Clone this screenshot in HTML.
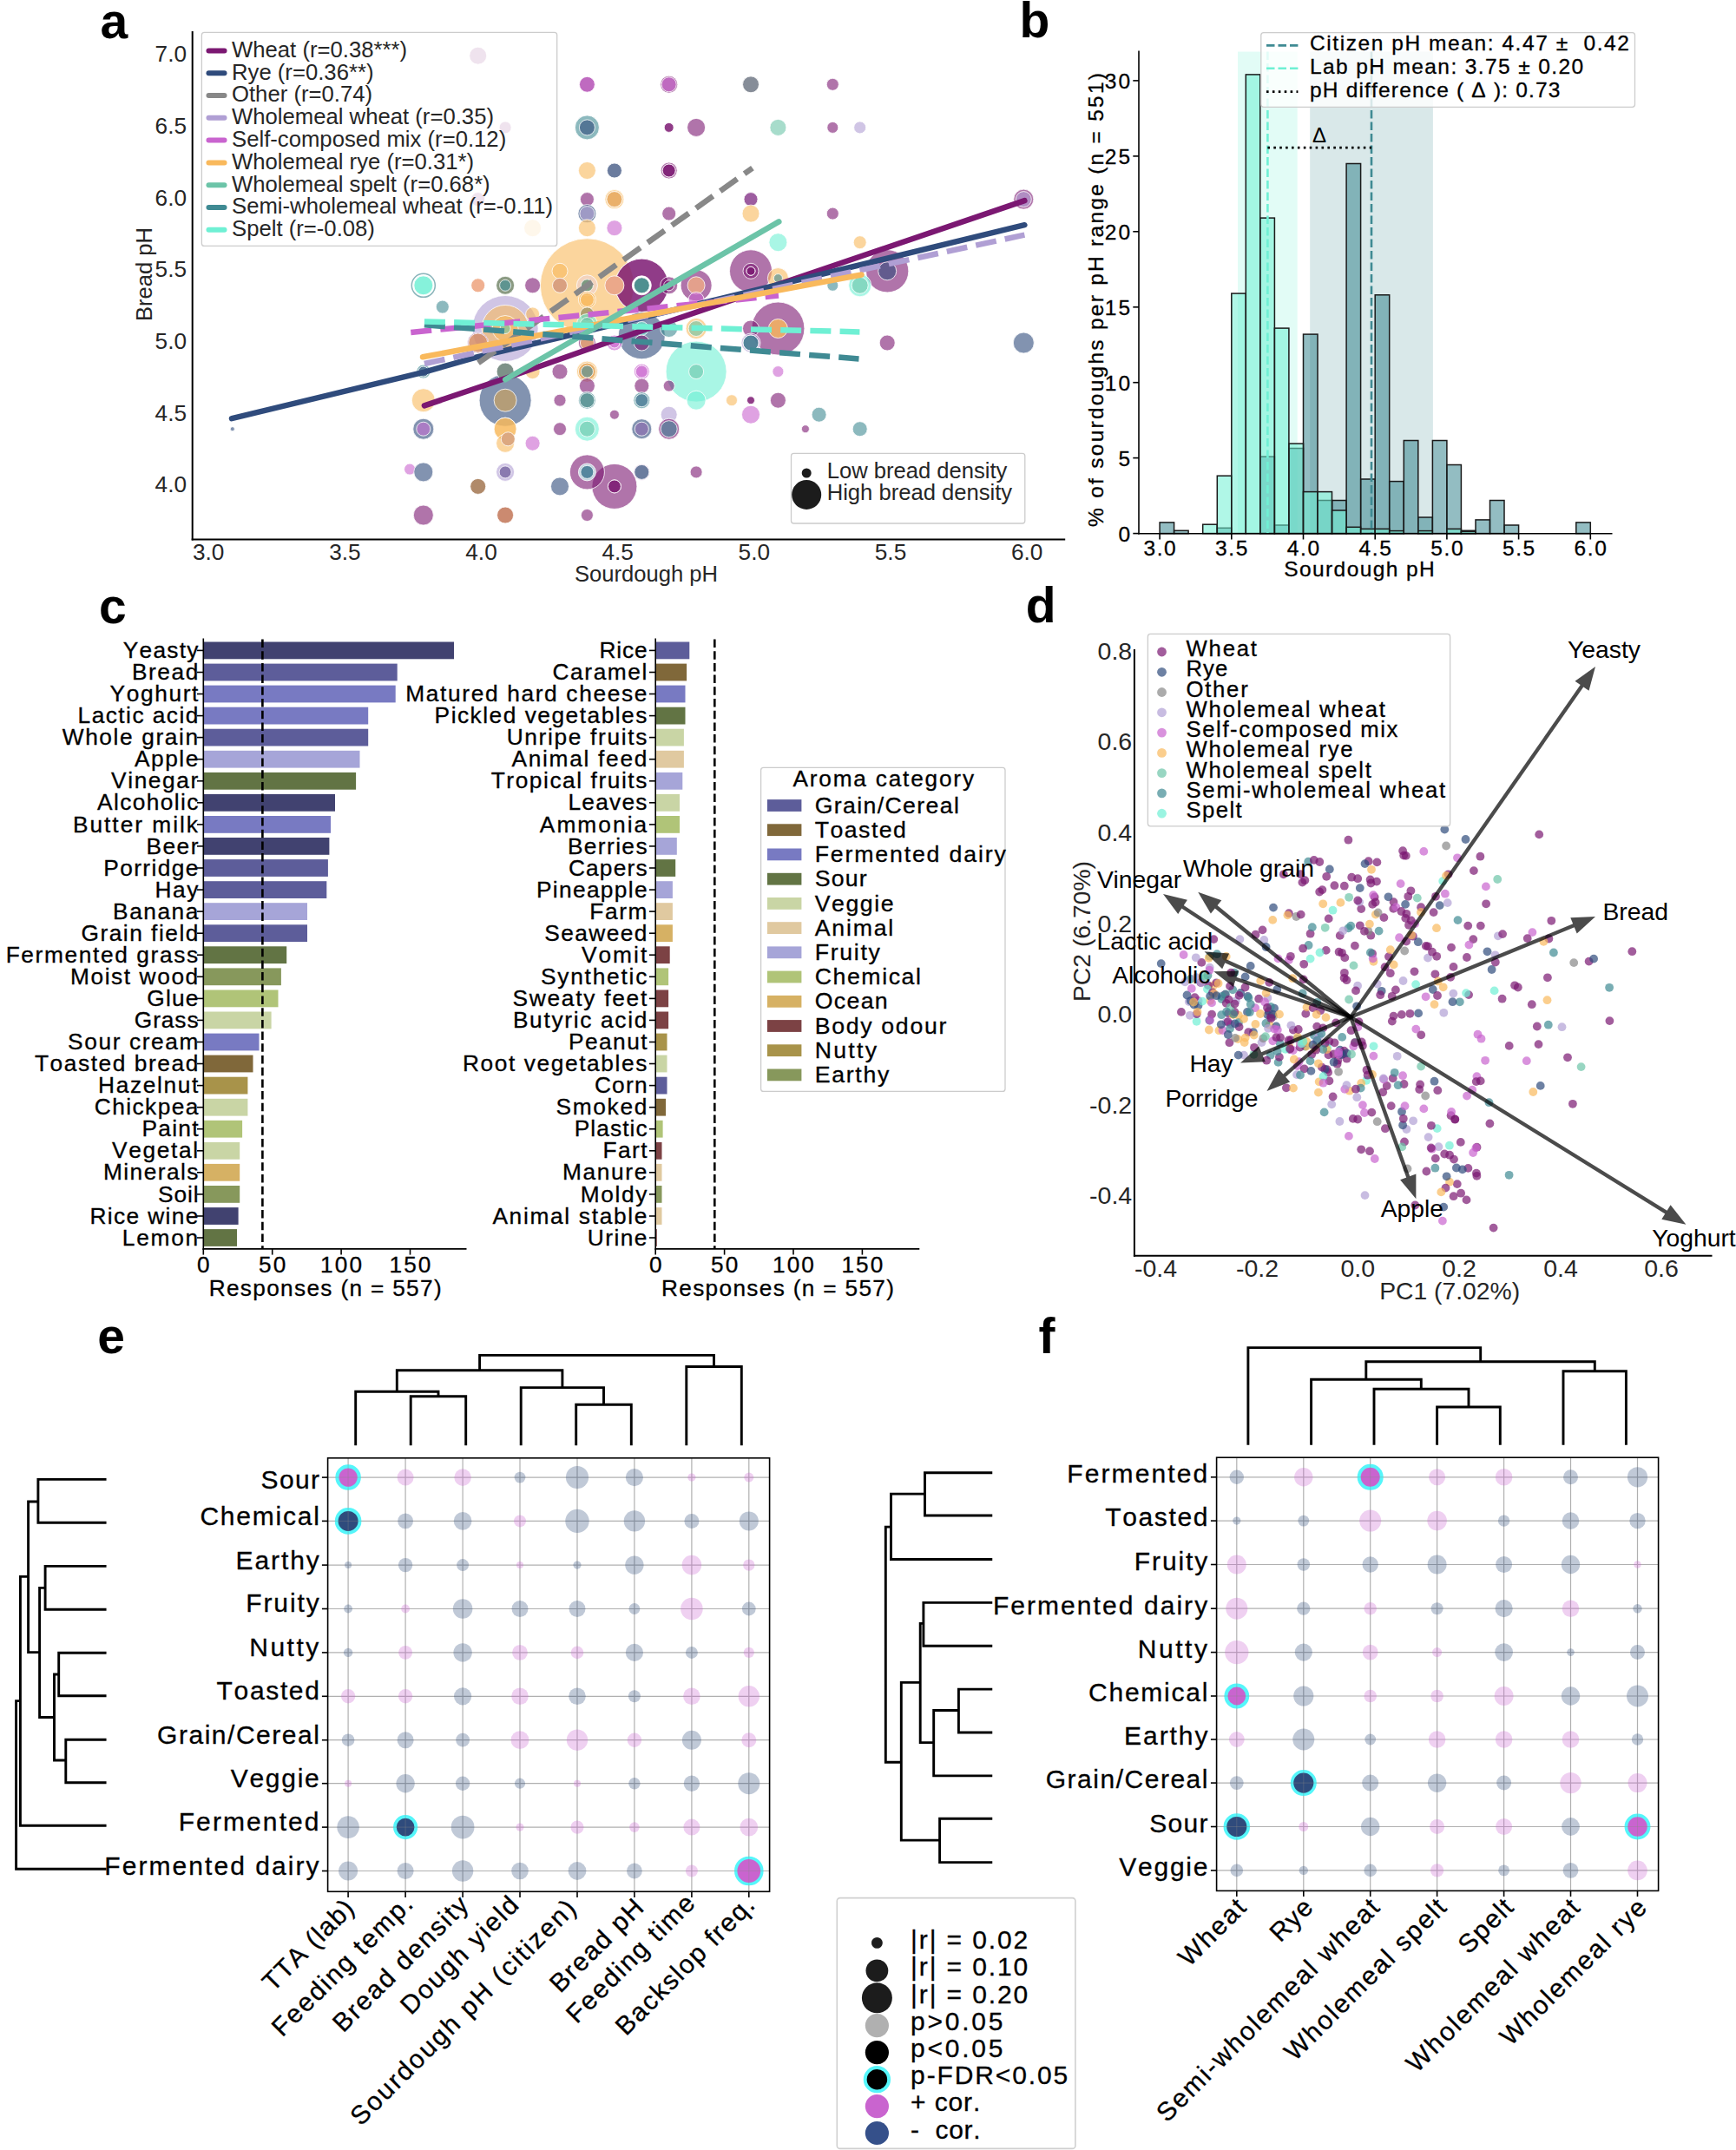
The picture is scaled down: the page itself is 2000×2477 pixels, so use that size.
<!DOCTYPE html>
<html><head><meta charset="utf-8"><title>Figure</title>
<style>html,body{margin:0;padding:0;background:#fff}svg{display:block}text{font-family:"Liberation Sans",sans-serif}.dj{stroke:#000;stroke-width:0.3px;font-kerning:none}</style>
</head><body>
<svg width="2000" height="2477" viewBox="0 0 2000 2477">
<rect width="2000" height="2477" fill="#fff"/>
<g id="pa">
<circle cx="550.7" cy="64.2" r="10" fill="#7b1872" fill-opacity="0.6" stroke="#fff" stroke-width="1" stroke-opacity="0.8"/>
<circle cx="582.1" cy="146.9" r="7" fill="#7b1872" fill-opacity="0.6" stroke="#fff" stroke-width="1" stroke-opacity="0.8"/>
<circle cx="550.7" cy="229.6" r="8" fill="#7b1872" fill-opacity="0.6" stroke="#fff" stroke-width="1" stroke-opacity="0.8"/>
<circle cx="613.6" cy="262.7" r="10" fill="#f9b95c" fill-opacity="0.6" stroke="#fff" stroke-width="1" stroke-opacity="0.8"/>
<circle cx="676.4" cy="97.3" r="9" fill="#7b1872" fill-opacity="0.6" stroke="#fff" stroke-width="1" stroke-opacity="0.8"/>
<circle cx="676.4" cy="97.3" r="9" fill="#c964cf" fill-opacity="0.6" stroke="#fff" stroke-width="1" stroke-opacity="0.8"/>
<circle cx="770.7" cy="97.3" r="10" fill="#7b1872" fill-opacity="0.6" stroke="#fff" stroke-width="1" stroke-opacity="0.8"/>
<circle cx="770.7" cy="97.3" r="8.5" fill="#c964cf" fill-opacity="0.6" stroke="#fff" stroke-width="1" stroke-opacity="0.8"/>
<circle cx="865.0" cy="97.3" r="9.5" fill="#2f4b7c" fill-opacity="0.6" stroke="#fff" stroke-width="1" stroke-opacity="0.8"/>
<circle cx="865.0" cy="97.3" r="9.5" fill="#888888" fill-opacity="0.6" stroke="#fff" stroke-width="1" stroke-opacity="0.8"/>
<circle cx="959.3" cy="97.3" r="7" fill="#7b1872" fill-opacity="0.6" stroke="#fff" stroke-width="1" stroke-opacity="0.8"/>
<circle cx="676.4" cy="146.9" r="14" fill="#3f8a93" fill-opacity="0.6" stroke="#fff" stroke-width="1" stroke-opacity="0.8"/>
<circle cx="676.4" cy="146.9" r="9" fill="#2f4b7c" fill-opacity="0.6" stroke="#fff" stroke-width="1" stroke-opacity="0.8"/>
<circle cx="770.7" cy="146.9" r="5.5" fill="#7b1872" fill-opacity="0.6" stroke="#fff" stroke-width="1" stroke-opacity="0.8"/>
<circle cx="770.7" cy="146.9" r="5.5" fill="#7b1872" fill-opacity="0.6" stroke="#fff" stroke-width="1" stroke-opacity="0.8"/>
<circle cx="802.1" cy="146.9" r="10.5" fill="#7b1872" fill-opacity="0.6" stroke="#fff" stroke-width="1" stroke-opacity="0.8"/>
<circle cx="896.4" cy="146.9" r="9.5" fill="#6cc4a8" fill-opacity="0.6" stroke="#fff" stroke-width="1" stroke-opacity="0.8"/>
<circle cx="959.3" cy="146.9" r="6.5" fill="#7b1872" fill-opacity="0.6" stroke="#fff" stroke-width="1" stroke-opacity="0.8"/>
<circle cx="990.7" cy="146.9" r="7" fill="#b09fd4" fill-opacity="0.6" stroke="#fff" stroke-width="1" stroke-opacity="0.8"/>
<circle cx="676.4" cy="196.5" r="10" fill="#f9b95c" fill-opacity="0.6" stroke="#fff" stroke-width="1" stroke-opacity="0.8"/>
<circle cx="707.9" cy="196.5" r="8.5" fill="#6b7c9e" stroke="#fff" stroke-width="1" stroke-opacity="0.8"/>
<circle cx="770.7" cy="196.5" r="9.5" fill="#7b1872" fill-opacity="0.6" stroke="#fff" stroke-width="1" stroke-opacity="0.8"/>
<circle cx="770.7" cy="196.5" r="7.5" fill="#7b1872" fill-opacity="0.6" stroke="#fff" stroke-width="1" stroke-opacity="0.8"/>
<circle cx="770.7" cy="196.5" r="7.5" fill="#7b1872" fill-opacity="0.6" stroke="#fff" stroke-width="1" stroke-opacity="0.8"/>
<circle cx="676.4" cy="229.6" r="8" fill="#7b1872" fill-opacity="0.6" stroke="#fff" stroke-width="1" stroke-opacity="0.8"/>
<circle cx="707.9" cy="229.6" r="11" fill="#f9b95c" fill-opacity="0.6" stroke="#fff" stroke-width="1" stroke-opacity="0.8"/>
<circle cx="707.9" cy="229.6" r="9" fill="#f9b95c" fill-opacity="0.6" stroke="#fff" stroke-width="1" stroke-opacity="0.8"/>
<circle cx="707.9" cy="229.6" r="9" fill="#eab06a" stroke="#fff" stroke-width="1" stroke-opacity="0.8"/>
<circle cx="865.0" cy="229.6" r="8" fill="#b09fd4" fill-opacity="0.6" stroke="#fff" stroke-width="1" stroke-opacity="0.8"/>
<circle cx="865.0" cy="229.6" r="8" fill="#7b1872" fill-opacity="0.6" stroke="#fff" stroke-width="1" stroke-opacity="0.8"/>
<circle cx="1179.3" cy="229.6" r="11.5" fill="#7b1872" fill-opacity="0.6" stroke="#fff" stroke-width="1" stroke-opacity="0.8"/>
<circle cx="1179.3" cy="229.6" r="9" fill="#b09fd4" fill-opacity="0.6" stroke="#fff" stroke-width="1" stroke-opacity="0.8"/>
<circle cx="676.4" cy="246.1" r="10.5" fill="#2f4b7c" fill-opacity="0.6" stroke="#fff" stroke-width="1" stroke-opacity="0.8"/>
<circle cx="676.4" cy="246.1" r="8.5" fill="#b09fd4" fill-opacity="0.6" stroke="#fff" stroke-width="1" stroke-opacity="0.8"/>
<circle cx="770.7" cy="246.1" r="8" fill="#7b1872" fill-opacity="0.6" stroke="#fff" stroke-width="1" stroke-opacity="0.8"/>
<circle cx="865.0" cy="246.1" r="10" fill="#f9b95c" fill-opacity="0.6" stroke="#fff" stroke-width="1" stroke-opacity="0.8"/>
<circle cx="959.3" cy="246.1" r="7" fill="#7b1872" fill-opacity="0.6" stroke="#fff" stroke-width="1" stroke-opacity="0.8"/>
<circle cx="676.4" cy="262.7" r="10" fill="#f9b95c" fill-opacity="0.6" stroke="#fff" stroke-width="1" stroke-opacity="0.8"/>
<circle cx="707.9" cy="262.7" r="9" fill="#c964cf" fill-opacity="0.6" stroke="#fff" stroke-width="1" stroke-opacity="0.8"/>
<circle cx="896.4" cy="279.2" r="10.5" fill="#6ff0d4" fill-opacity="0.6" stroke="#fff" stroke-width="1" stroke-opacity="0.8"/>
<circle cx="990.7" cy="279.2" r="7.5" fill="#f9b95c" fill-opacity="0.6" stroke="#fff" stroke-width="1" stroke-opacity="0.8"/>
<circle cx="676.4" cy="328.8" r="54" fill="#f9b95c" fill-opacity="0.6" stroke="#fff" stroke-width="1" stroke-opacity="0.8"/>
<circle cx="582.1" cy="378.5" r="38" fill="#b09fd4" fill-opacity="0.6" stroke="#fff" stroke-width="1" stroke-opacity="0.8"/>
<circle cx="739.3" cy="328.8" r="30.7" fill="#7b1872" fill-opacity="0.6" stroke="#fff" stroke-width="1" stroke-opacity="0.8"/>
<circle cx="739.3" cy="328.8" r="30.7" fill="#7b1872" fill-opacity="0.6" stroke="#fff" stroke-width="1" stroke-opacity="0.8"/>
<circle cx="739.3" cy="386.7" r="27" fill="#2f4b7c" fill-opacity="0.6" stroke="#fff" stroke-width="1" stroke-opacity="0.8"/>
<circle cx="896.4" cy="378.5" r="30.5" fill="#7b1872" fill-opacity="0.6" stroke="#fff" stroke-width="1" stroke-opacity="0.8"/>
<circle cx="865.0" cy="312.3" r="24.5" fill="#7b1872" fill-opacity="0.6" stroke="#fff" stroke-width="1" stroke-opacity="0.8"/>
<circle cx="1022.2" cy="312.3" r="24.6" fill="#7b1872" fill-opacity="0.6" stroke="#fff" stroke-width="1" stroke-opacity="0.8"/>
<circle cx="802.1" cy="428.1" r="35" fill="#6ff0d4" fill-opacity="0.6" stroke="#fff" stroke-width="1" stroke-opacity="0.8"/>
<circle cx="582.1" cy="461.2" r="30" fill="#2f4b7c" fill-opacity="0.6" stroke="#fff" stroke-width="1" stroke-opacity="0.8"/>
<circle cx="707.9" cy="560.4" r="26" fill="#7b1872" fill-opacity="0.6" stroke="#fff" stroke-width="1" stroke-opacity="0.8"/>
<circle cx="676.4" cy="543.9" r="20" fill="#7b1872" fill-opacity="0.6" stroke="#fff" stroke-width="1" stroke-opacity="0.8"/>
<circle cx="582.1" cy="378.5" r="27" fill="#f9b95c" fill-opacity="0.6" stroke="#fff" stroke-width="1" stroke-opacity="0.8"/>
<circle cx="582.1" cy="378.5" r="15" fill="#f9b95c" fill-opacity="0.6" stroke="#fff" stroke-width="1" stroke-opacity="0.8"/>
<circle cx="582.1" cy="378.5" r="6" fill="#6cc4a8" fill-opacity="0.6" stroke="#fff" stroke-width="1" stroke-opacity="0.8"/>
<circle cx="645.0" cy="312.3" r="9" fill="#f9b95c" fill-opacity="0.6" stroke="#fff" stroke-width="1" stroke-opacity="0.8"/>
<circle cx="865.0" cy="312.3" r="9" fill="#7b1872" fill-opacity="0.6" stroke="#fff" stroke-width="1" stroke-opacity="0.8"/>
<circle cx="865.0" cy="312.3" r="5" fill="#7b1872" fill-opacity="0.6" stroke="#fff" stroke-width="1" stroke-opacity="0.8"/>
<circle cx="865.0" cy="312.3" r="5" fill="#7b1872" fill-opacity="0.6" stroke="#fff" stroke-width="1" stroke-opacity="0.8"/>
<circle cx="1022.2" cy="312.3" r="10.5" fill="#2f4b7c" fill-opacity="0.6" stroke="#fff" stroke-width="1" stroke-opacity="0.8"/>
<circle cx="487.8" cy="328.8" r="11" fill="#6ff0d4" fill-opacity="0.6" stroke="#fff" stroke-width="1" stroke-opacity="0.8"/>
<circle cx="487.8" cy="328.8" r="11" fill="#6ff0d4" fill-opacity="0.6" stroke="#fff" stroke-width="1" stroke-opacity="0.8"/>
<circle cx="550.7" cy="328.8" r="8" fill="#f0b090" stroke="#fff" stroke-width="1" stroke-opacity="0.8"/>
<circle cx="582.1" cy="328.8" r="10.5" fill="#8a9a82" stroke="#fff" stroke-width="1" stroke-opacity="0.8"/>
<circle cx="582.1" cy="328.8" r="6.5" fill="#5e9490" stroke="#fff" stroke-width="1" stroke-opacity="0.8"/>
<circle cx="613.6" cy="328.8" r="9" fill="#7b1872" fill-opacity="0.6" stroke="#fff" stroke-width="1" stroke-opacity="0.8"/>
<circle cx="645.0" cy="328.8" r="8.5" fill="#d9a080" stroke="#fff" stroke-width="1" stroke-opacity="0.8"/>
<circle cx="676.4" cy="328.8" r="12" fill="#f3d3bd" stroke="#fff" stroke-width="1" stroke-opacity="0.8"/>
<circle cx="676.4" cy="328.8" r="7" fill="#7d9a80" stroke="#fff" stroke-width="1" stroke-opacity="0.8"/>
<circle cx="707.9" cy="328.8" r="11" fill="#eba88a" stroke="#fff" stroke-width="1" stroke-opacity="0.8"/>
<circle cx="739.3" cy="328.8" r="11" fill="#ffffff" stroke="#fff" stroke-width="1" stroke-opacity="0.8"/>
<circle cx="739.3" cy="328.8" r="9" fill="#4f9090" stroke="#fff" stroke-width="1" stroke-opacity="0.8"/>
<circle cx="770.7" cy="328.8" r="10" fill="#7b1872" fill-opacity="0.6" stroke="#fff" stroke-width="1" stroke-opacity="0.8"/>
<circle cx="770.7" cy="328.8" r="6" fill="#7b1872" fill-opacity="0.6" stroke="#fff" stroke-width="1" stroke-opacity="0.8"/>
<circle cx="802.1" cy="328.8" r="18" fill="#7b1872" fill-opacity="0.6" stroke="#fff" stroke-width="1" stroke-opacity="0.8"/>
<circle cx="802.1" cy="328.8" r="10" fill="#e3a08c" stroke="#fff" stroke-width="1" stroke-opacity="0.8"/>
<circle cx="896.4" cy="320.6" r="12" fill="#f9b95c" fill-opacity="0.6" stroke="#fff" stroke-width="1" stroke-opacity="0.8"/>
<circle cx="896.4" cy="320.6" r="5" fill="#3f8a93" fill-opacity="0.6" stroke="#fff" stroke-width="1" stroke-opacity="0.8"/>
<circle cx="959.3" cy="328.8" r="6.5" fill="#3f8a93" fill-opacity="0.6" stroke="#fff" stroke-width="1" stroke-opacity="0.8"/>
<circle cx="990.7" cy="328.8" r="13" fill="#6ff0d4" fill-opacity="0.6" stroke="#fff" stroke-width="1" stroke-opacity="0.8"/>
<circle cx="990.7" cy="328.8" r="9.5" fill="#6cc4a8" fill-opacity="0.6" stroke="#fff" stroke-width="1" stroke-opacity="0.8"/>
<circle cx="676.4" cy="345.4" r="10" fill="#f9b95c" fill-opacity="0.6" stroke="#fff" stroke-width="1" stroke-opacity="0.8"/>
<circle cx="676.4" cy="345.4" r="8" fill="#f9b95c" fill-opacity="0.6" stroke="#fff" stroke-width="1" stroke-opacity="0.8"/>
<circle cx="802.1" cy="345.4" r="9" fill="#c964cf" fill-opacity="0.6" stroke="#fff" stroke-width="1" stroke-opacity="0.8"/>
<circle cx="509.8" cy="353.6" r="7.5" fill="#3f8a93" fill-opacity="0.6" stroke="#fff" stroke-width="1" stroke-opacity="0.8"/>
<circle cx="613.6" cy="361.9" r="8" fill="#f9b95c" fill-opacity="0.6" stroke="#fff" stroke-width="1" stroke-opacity="0.8"/>
<circle cx="676.4" cy="361.9" r="8" fill="#b0a070" stroke="#fff" stroke-width="1" stroke-opacity="0.8"/>
<circle cx="676.4" cy="373.5" r="12" fill="#6ff0d4" fill-opacity="0.6" stroke="#fff" stroke-width="1" stroke-opacity="0.8"/>
<circle cx="676.4" cy="373.5" r="8" fill="#6cc4a8" fill-opacity="0.6" stroke="#fff" stroke-width="1" stroke-opacity="0.8"/>
<circle cx="739.3" cy="378.5" r="8" fill="#6ff0d4" fill-opacity="0.6" stroke="#fff" stroke-width="1" stroke-opacity="0.8"/>
<circle cx="770.7" cy="378.5" r="10" fill="#3f8a93" fill-opacity="0.6" stroke="#fff" stroke-width="1" stroke-opacity="0.8"/>
<circle cx="802.1" cy="378.5" r="12" fill="#f9b95c" fill-opacity="0.6" stroke="#fff" stroke-width="1" stroke-opacity="0.8"/>
<circle cx="802.1" cy="378.5" r="9" fill="#6cc4a8" fill-opacity="0.6" stroke="#fff" stroke-width="1" stroke-opacity="0.8"/>
<circle cx="865.0" cy="378.5" r="9.5" fill="#7b1872" fill-opacity="0.6" stroke="#fff" stroke-width="1" stroke-opacity="0.8"/>
<circle cx="896.4" cy="378.5" r="11" fill="#eaaa6a" stroke="#fff" stroke-width="1" stroke-opacity="0.8"/>
<circle cx="550.7" cy="395.0" r="12" fill="#7b1872" fill-opacity="0.6" stroke="#fff" stroke-width="1" stroke-opacity="0.8"/>
<circle cx="550.7" cy="395.0" r="11" fill="#f9b95c" fill-opacity="0.6" stroke="#fff" stroke-width="1" stroke-opacity="0.8"/>
<circle cx="676.4" cy="395.0" r="10" fill="#7b1872" fill-opacity="0.6" stroke="#fff" stroke-width="1" stroke-opacity="0.8"/>
<circle cx="676.4" cy="395.0" r="8" fill="#f9b95c" fill-opacity="0.6" stroke="#fff" stroke-width="1" stroke-opacity="0.8"/>
<circle cx="707.9" cy="395.0" r="9" fill="#c964cf" fill-opacity="0.6" stroke="#fff" stroke-width="1" stroke-opacity="0.8"/>
<circle cx="707.9" cy="395.0" r="6" fill="#c964cf" fill-opacity="0.6" stroke="#fff" stroke-width="1" stroke-opacity="0.8"/>
<circle cx="739.3" cy="395.0" r="9" fill="#7b1872" fill-opacity="0.6" stroke="#fff" stroke-width="1" stroke-opacity="0.8"/>
<circle cx="865.0" cy="395.0" r="11" fill="#b09fd4" fill-opacity="0.6" stroke="#fff" stroke-width="1" stroke-opacity="0.8"/>
<circle cx="865.0" cy="395.0" r="9" fill="#2f4b7c" fill-opacity="0.6" stroke="#fff" stroke-width="1" stroke-opacity="0.8"/>
<circle cx="865.0" cy="395.0" r="9" fill="#3f8a93" fill-opacity="0.6" stroke="#fff" stroke-width="1" stroke-opacity="0.8"/>
<circle cx="1022.2" cy="395.0" r="9" fill="#7b1872" fill-opacity="0.6" stroke="#fff" stroke-width="1" stroke-opacity="0.8"/>
<circle cx="1179.3" cy="395.0" r="12" fill="#2f4b7c" fill-opacity="0.6" stroke="#fff" stroke-width="1" stroke-opacity="0.8"/>
<circle cx="487.8" cy="428.1" r="8" fill="#3f8a93" fill-opacity="0.6" stroke="#fff" stroke-width="1" stroke-opacity="0.8"/>
<circle cx="487.8" cy="428.1" r="6" fill="#2f4b7c" fill-opacity="0.6" stroke="#fff" stroke-width="1" stroke-opacity="0.8"/>
<circle cx="582.1" cy="428.1" r="10" fill="#7d9188" stroke="#fff" stroke-width="1" stroke-opacity="0.8"/>
<circle cx="613.6" cy="428.1" r="8.5" fill="#f9b95c" fill-opacity="0.6" stroke="#fff" stroke-width="1" stroke-opacity="0.8"/>
<circle cx="645.0" cy="428.1" r="9" fill="#7b1872" fill-opacity="0.6" stroke="#fff" stroke-width="1" stroke-opacity="0.8"/>
<circle cx="676.4" cy="428.1" r="12" fill="#f9b95c" fill-opacity="0.6" stroke="#fff" stroke-width="1" stroke-opacity="0.8"/>
<circle cx="676.4" cy="428.1" r="10" fill="#eab06a" stroke="#fff" stroke-width="1" stroke-opacity="0.8"/>
<circle cx="676.4" cy="428.1" r="7" fill="#849a88" stroke="#fff" stroke-width="1" stroke-opacity="0.8"/>
<circle cx="739.3" cy="428.1" r="9" fill="#c964cf" fill-opacity="0.6" stroke="#fff" stroke-width="1" stroke-opacity="0.8"/>
<circle cx="739.3" cy="428.1" r="7" fill="#c964cf" fill-opacity="0.6" stroke="#fff" stroke-width="1" stroke-opacity="0.8"/>
<circle cx="802.1" cy="428.1" r="8.5" fill="#6cc4a8" fill-opacity="0.6" stroke="#fff" stroke-width="1" stroke-opacity="0.8"/>
<circle cx="896.4" cy="428.1" r="6.5" fill="#c964cf" fill-opacity="0.6" stroke="#fff" stroke-width="1" stroke-opacity="0.8"/>
<circle cx="676.4" cy="444.6" r="9" fill="#7b1872" fill-opacity="0.6" stroke="#fff" stroke-width="1" stroke-opacity="0.8"/>
<circle cx="739.3" cy="444.6" r="8.5" fill="#7b1872" fill-opacity="0.6" stroke="#fff" stroke-width="1" stroke-opacity="0.8"/>
<circle cx="770.7" cy="444.6" r="6.5" fill="#7b1872" fill-opacity="0.6" stroke="#fff" stroke-width="1" stroke-opacity="0.8"/>
<circle cx="487.8" cy="461.2" r="13.5" fill="#f9b95c" fill-opacity="0.6" stroke="#fff" stroke-width="1" stroke-opacity="0.8"/>
<circle cx="582.1" cy="461.2" r="13" fill="#b49d78" stroke="#fff" stroke-width="1" stroke-opacity="0.8"/>
<circle cx="645.0" cy="461.2" r="7" fill="#7b1872" fill-opacity="0.6" stroke="#fff" stroke-width="1" stroke-opacity="0.8"/>
<circle cx="676.4" cy="461.2" r="10" fill="#3f8a93" fill-opacity="0.6" stroke="#fff" stroke-width="1" stroke-opacity="0.8"/>
<circle cx="676.4" cy="461.2" r="8.5" fill="#63999a" stroke="#fff" stroke-width="1" stroke-opacity="0.8"/>
<circle cx="739.3" cy="461.2" r="9.5" fill="#3f8a93" fill-opacity="0.6" stroke="#fff" stroke-width="1" stroke-opacity="0.8"/>
<circle cx="739.3" cy="461.2" r="7.5" fill="#5b8aa0" stroke="#fff" stroke-width="1" stroke-opacity="0.8"/>
<circle cx="802.1" cy="461.2" r="11" fill="#6ff0d4" fill-opacity="0.6" stroke="#fff" stroke-width="1" stroke-opacity="0.8"/>
<circle cx="843.0" cy="461.2" r="6.5" fill="#f9b95c" fill-opacity="0.6" stroke="#fff" stroke-width="1" stroke-opacity="0.8"/>
<circle cx="865.0" cy="461.2" r="4.5" fill="#7b1872" fill-opacity="0.6" stroke="#fff" stroke-width="1" stroke-opacity="0.8"/>
<circle cx="865.0" cy="461.2" r="4.5" fill="#7b1872" fill-opacity="0.6" stroke="#fff" stroke-width="1" stroke-opacity="0.8"/>
<circle cx="896.4" cy="461.2" r="9" fill="#7b1872" fill-opacity="0.6" stroke="#fff" stroke-width="1" stroke-opacity="0.8"/>
<circle cx="707.9" cy="477.7" r="5.5" fill="#7b1872" fill-opacity="0.6" stroke="#fff" stroke-width="1" stroke-opacity="0.8"/>
<circle cx="770.7" cy="477.7" r="9.5" fill="#b09fd4" fill-opacity="0.6" stroke="#fff" stroke-width="1" stroke-opacity="0.8"/>
<circle cx="865.0" cy="477.7" r="10.5" fill="#c964cf" fill-opacity="0.6" stroke="#fff" stroke-width="1" stroke-opacity="0.8"/>
<circle cx="943.6" cy="477.7" r="8.5" fill="#3f8a93" fill-opacity="0.6" stroke="#fff" stroke-width="1" stroke-opacity="0.8"/>
<circle cx="487.8" cy="494.2" r="12" fill="#2f4b7c" fill-opacity="0.6" stroke="#fff" stroke-width="1" stroke-opacity="0.8"/>
<circle cx="487.8" cy="494.2" r="8" fill="#aa7cc4" stroke="#fff" stroke-width="1" stroke-opacity="0.8"/>
<circle cx="582.1" cy="494.2" r="13" fill="#f9b95c" fill-opacity="0.6" stroke="#fff" stroke-width="1" stroke-opacity="0.8"/>
<circle cx="582.1" cy="494.2" r="13" fill="#f9b95c" fill-opacity="0.6" stroke="#fff" stroke-width="1" stroke-opacity="0.8"/>
<circle cx="645.0" cy="494.2" r="7.5" fill="#7b1872" fill-opacity="0.6" stroke="#fff" stroke-width="1" stroke-opacity="0.8"/>
<circle cx="676.4" cy="494.2" r="14" fill="#6ff0d4" fill-opacity="0.6" stroke="#fff" stroke-width="1" stroke-opacity="0.8"/>
<circle cx="676.4" cy="494.2" r="9" fill="#6cc4a8" fill-opacity="0.6" stroke="#fff" stroke-width="1" stroke-opacity="0.8"/>
<circle cx="739.3" cy="494.2" r="11.5" fill="#2f4b7c" fill-opacity="0.6" stroke="#fff" stroke-width="1" stroke-opacity="0.8"/>
<circle cx="739.3" cy="494.2" r="8" fill="#8a7ab0" stroke="#fff" stroke-width="1" stroke-opacity="0.8"/>
<circle cx="770.7" cy="494.2" r="12" fill="#7b1872" fill-opacity="0.6" stroke="#fff" stroke-width="1" stroke-opacity="0.8"/>
<circle cx="770.7" cy="494.2" r="9.5" fill="#6b7c9e" stroke="#fff" stroke-width="1" stroke-opacity="0.8"/>
<circle cx="927.9" cy="494.2" r="4.5" fill="#7b1872" fill-opacity="0.6" stroke="#fff" stroke-width="1" stroke-opacity="0.8"/>
<circle cx="990.7" cy="494.2" r="8.5" fill="#3f8a93" fill-opacity="0.6" stroke="#fff" stroke-width="1" stroke-opacity="0.8"/>
<circle cx="582.1" cy="510.8" r="10.5" fill="#f9b95c" fill-opacity="0.6" stroke="#fff" stroke-width="1" stroke-opacity="0.8"/>
<circle cx="585.3" cy="505.8" r="8" fill="#dca880" stroke="#fff" stroke-width="1" stroke-opacity="0.8"/>
<circle cx="613.6" cy="510.8" r="8.5" fill="#c964cf" fill-opacity="0.6" stroke="#fff" stroke-width="1" stroke-opacity="0.8"/>
<circle cx="472.1" cy="540.6" r="6.5" fill="#c964cf" fill-opacity="0.6" stroke="#fff" stroke-width="1" stroke-opacity="0.8"/>
<circle cx="487.8" cy="543.9" r="11" fill="#2f4b7c" fill-opacity="0.6" stroke="#fff" stroke-width="1" stroke-opacity="0.8"/>
<circle cx="582.1" cy="543.9" r="10.5" fill="#b09fd4" fill-opacity="0.6" stroke="#fff" stroke-width="1" stroke-opacity="0.8"/>
<circle cx="582.1" cy="543.9" r="7" fill="#8a7ab0" stroke="#fff" stroke-width="1" stroke-opacity="0.8"/>
<circle cx="676.4" cy="543.9" r="10" fill="#c5d5e0" stroke="#fff" stroke-width="1" stroke-opacity="0.8"/>
<circle cx="676.4" cy="543.9" r="7.5" fill="#55869e" stroke="#fff" stroke-width="1" stroke-opacity="0.8"/>
<circle cx="739.3" cy="543.9" r="9.5" fill="#e8d0e8" stroke="#fff" stroke-width="1" stroke-opacity="0.8"/>
<circle cx="739.3" cy="543.9" r="8.5" fill="#6b7c9e" stroke="#fff" stroke-width="1" stroke-opacity="0.8"/>
<circle cx="802.1" cy="543.9" r="7" fill="#7b1872" fill-opacity="0.6" stroke="#fff" stroke-width="1" stroke-opacity="0.8"/>
<circle cx="550.7" cy="560.4" r="9" fill="#b08a6a" stroke="#fff" stroke-width="1" stroke-opacity="0.8"/>
<circle cx="645.0" cy="560.4" r="10.5" fill="#2f4b7c" fill-opacity="0.6" stroke="#fff" stroke-width="1" stroke-opacity="0.8"/>
<circle cx="707.9" cy="560.4" r="7.5" fill="#7b1872" fill-opacity="0.6" stroke="#fff" stroke-width="1" stroke-opacity="0.8"/>
<circle cx="707.9" cy="560.4" r="7.5" fill="#7b1872" fill-opacity="0.6" stroke="#fff" stroke-width="1" stroke-opacity="0.8"/>
<circle cx="487.8" cy="593.5" r="11.5" fill="#7b1872" fill-opacity="0.6" stroke="#fff" stroke-width="1" stroke-opacity="0.8"/>
<circle cx="582.1" cy="593.5" r="9.5" fill="#cb8a70" stroke="#fff" stroke-width="1" stroke-opacity="0.8"/>
<circle cx="676.4" cy="593.5" r="7" fill="#7b1872" fill-opacity="0.6" stroke="#fff" stroke-width="1" stroke-opacity="0.8"/>
<circle cx="267.8" cy="494.2" r="2.5" fill="#2f4b7c" fill-opacity="0.6" stroke="#fff" stroke-width="1" stroke-opacity="0.8"/>
<circle cx="487.8" cy="328.8" r="13.5" fill="none" stroke="#8ab4ba" stroke-width="1.5"/>
<path d="M488.9,467.3 L580.5,436.5 L700.0,394.5 L753.7,376.2 L1180.4,231.2" fill="none" stroke="#7b1872" stroke-width="6.5" stroke-linecap="round" stroke-linejoin="round"/>
<path d="M267.0,482.2 L488.9,428.6 L549.4,411.3 L653.0,387.0 L1180.4,259.2" fill="none" stroke="#2f4b7c" stroke-width="6.5" stroke-linecap="round" stroke-linejoin="round"/>
<path d="M551.0,418.2 L866.9,193.6" fill="none" stroke="#888888" stroke-width="6.5" stroke-linecap="butt" stroke-linejoin="round" stroke-dasharray="24 10.2"/>
<path d="M488.9,419.0 L1180.4,270.6" fill="none" stroke="#b09fd4" stroke-width="6.5" stroke-linecap="butt" stroke-linejoin="round" stroke-dasharray="24 10.2"/>
<path d="M473.3,383.0 L897.0,340.5" fill="none" stroke="#c964cf" stroke-width="6.5" stroke-linecap="butt" stroke-linejoin="round" stroke-dasharray="24 10.2"/>
<path d="M487.0,411.3 L992.6,316.5" fill="none" stroke="#f9b95c" stroke-width="6.5" stroke-linecap="round" stroke-linejoin="round"/>
<path d="M582.2,437.3 L897.3,255.4" fill="none" stroke="#6cc4a8" stroke-width="6.5" stroke-linecap="round" stroke-linejoin="round"/>
<path d="M488.9,374.3 L989.5,413.4" fill="none" stroke="#3f8a93" stroke-width="6.5" stroke-linecap="butt" stroke-linejoin="round" stroke-dasharray="24 10.2"/>
<path d="M488.9,370.5 L990.4,382.4" fill="none" stroke="#6ff0d4" stroke-width="6.5" stroke-linecap="butt" stroke-linejoin="round" stroke-dasharray="24 10.2"/>
<line x1="221.7" y1="36.0" x2="221.7" y2="622.6" stroke="#000" stroke-width="2"/>
<line x1="220.7" y1="621.6" x2="1227.2" y2="621.6" stroke="#000" stroke-width="2"/>
<text x="240.2" y="644.8" font-size="26.2" fill="#262626" text-anchor="middle">3.0</text>
<text x="397.4" y="644.8" font-size="26.2" fill="#262626" text-anchor="middle">3.5</text>
<text x="554.5" y="644.8" font-size="26.2" fill="#262626" text-anchor="middle">4.0</text>
<text x="711.6" y="644.8" font-size="26.2" fill="#262626" text-anchor="middle">4.5</text>
<text x="868.8" y="644.8" font-size="26.2" fill="#262626" text-anchor="middle">5.0</text>
<text x="1026.0" y="644.8" font-size="26.2" fill="#262626" text-anchor="middle">5.5</text>
<text x="1183.1" y="644.8" font-size="26.2" fill="#262626" text-anchor="middle">6.0</text>
<text x="215.0" y="567.3" font-size="26.2" fill="#262626" text-anchor="end">4.0</text>
<text x="215.0" y="484.6" font-size="26.2" fill="#262626" text-anchor="end">4.5</text>
<text x="215.0" y="401.9" font-size="26.2" fill="#262626" text-anchor="end">5.0</text>
<text x="215.0" y="319.2" font-size="26.2" fill="#262626" text-anchor="end">5.5</text>
<text x="215.0" y="236.5" font-size="26.2" fill="#262626" text-anchor="end">6.0</text>
<text x="215.0" y="153.8" font-size="26.2" fill="#262626" text-anchor="end">6.5</text>
<text x="215.0" y="71.1" font-size="26.2" fill="#262626" text-anchor="end">7.0</text>
<text x="662.0" y="669.5" font-size="25.6" fill="#262626">Sourdough pH</text>
<text font-size="25.6" fill="#262626" text-anchor="middle" transform="translate(174.5,316.0) rotate(-90)">Bread pH</text>
<rect x="232.4" y="37.3" width="409.3" height="246.1" fill="#fff" stroke="#ccc" stroke-width="1.3" rx="3" fill-opacity="0.8"/>
<line x1="240.5" y1="58.4" x2="258.5" y2="58.4" stroke="#7b1872" stroke-width="6" stroke-linecap="round"/>
<text x="267.0" y="65.7" font-size="25.7" fill="#262626">Wheat (r=0.38***)</text>
<line x1="240.5" y1="84.2" x2="258.5" y2="84.2" stroke="#2f4b7c" stroke-width="6" stroke-linecap="round"/>
<text x="267.0" y="91.5" font-size="25.7" fill="#262626">Rye (r=0.36**)</text>
<line x1="240.5" y1="110.0" x2="258.5" y2="110.0" stroke="#888888" stroke-width="6" stroke-linecap="round"/>
<text x="267.0" y="117.3" font-size="25.7" fill="#262626">Other (r=0.74)</text>
<line x1="240.5" y1="135.8" x2="258.5" y2="135.8" stroke="#b09fd4" stroke-width="6" stroke-linecap="round"/>
<text x="267.0" y="143.1" font-size="25.7" fill="#262626">Wholemeal wheat (r=0.35)</text>
<line x1="240.5" y1="161.6" x2="258.5" y2="161.6" stroke="#c964cf" stroke-width="6" stroke-linecap="round"/>
<text x="267.0" y="168.9" font-size="25.7" fill="#262626">Self-composed mix (r=0.12)</text>
<line x1="240.5" y1="187.4" x2="258.5" y2="187.4" stroke="#f9b95c" stroke-width="6" stroke-linecap="round"/>
<text x="267.0" y="194.7" font-size="25.7" fill="#262626">Wholemeal rye (r=0.31*)</text>
<line x1="240.5" y1="213.2" x2="258.5" y2="213.2" stroke="#6cc4a8" stroke-width="6" stroke-linecap="round"/>
<text x="267.0" y="220.5" font-size="25.7" fill="#262626">Wholemeal spelt (r=0.68*)</text>
<line x1="240.5" y1="239.0" x2="258.5" y2="239.0" stroke="#3f8a93" stroke-width="6" stroke-linecap="round"/>
<text x="267.0" y="246.3" font-size="25.7" fill="#262626">Semi-wholemeal wheat (r=-0.11)</text>
<line x1="240.5" y1="264.8" x2="258.5" y2="264.8" stroke="#6ff0d4" stroke-width="6" stroke-linecap="round"/>
<text x="267.0" y="272.1" font-size="25.7" fill="#262626">Spelt (r=-0.08)</text>
<rect x="911.5" y="522.3" width="269.3" height="80.7" fill="#fff" stroke="#ccc" stroke-width="1.3" rx="3" fill-opacity="0.8"/>
<circle cx="929.2" cy="545.0" r="5.5" fill="#1c1c1c"/>
<circle cx="929.2" cy="569.9" r="17.0" fill="#1c1c1c"/>
<text x="952.7" y="551.3" font-size="25.6" fill="#262626">Low bread density</text>
<text x="952.7" y="576.2" font-size="25.6" fill="#262626">High bread density</text>
<text x="115.5" y="44.2" font-size="57" fill="#000" font-weight="bold">a</text>
</g>
<g id="pb">
<rect x="1426.0" y="59.5" width="68.7" height="555.1" fill="#6ff0d4" fill-opacity="0.2"/>
<rect x="1509.2" y="59.5" width="141.7" height="555.1" fill="#3f8a93" fill-opacity="0.2"/>
<rect x="1336.1" y="601.9" width="16.5" height="12.7" fill="#3f8a93" stroke="#1a1a1a" stroke-width="1.5" fill-opacity="0.56"/>
<rect x="1352.6" y="611.3" width="16.5" height="3.3" fill="#3f8a93" stroke="#1a1a1a" stroke-width="1.5" fill-opacity="0.56"/>
<rect x="1402.3" y="608.3" width="16.5" height="6.3" fill="#3f8a93" stroke="#1a1a1a" stroke-width="1.5" fill-opacity="0.56"/>
<rect x="1451.9" y="526.1" width="16.5" height="88.5" fill="#3f8a93" stroke="#1a1a1a" stroke-width="1.5" fill-opacity="0.56"/>
<rect x="1468.4" y="605.0" width="16.5" height="9.6" fill="#3f8a93" stroke="#1a1a1a" stroke-width="1.5" fill-opacity="0.56"/>
<rect x="1485.0" y="516.5" width="16.5" height="98.1" fill="#3f8a93" stroke="#1a1a1a" stroke-width="1.5" fill-opacity="0.56"/>
<rect x="1501.5" y="385.1" width="16.5" height="229.5" fill="#3f8a93" stroke="#1a1a1a" stroke-width="1.5" fill-opacity="0.56"/>
<rect x="1518.0" y="576.5" width="16.5" height="38.1" fill="#3f8a93" stroke="#1a1a1a" stroke-width="1.5" fill-opacity="0.56"/>
<rect x="1534.6" y="576.5" width="16.5" height="38.1" fill="#3f8a93" stroke="#1a1a1a" stroke-width="1.5" fill-opacity="0.56"/>
<rect x="1551.1" y="188.5" width="16.5" height="426.1" fill="#3f8a93" stroke="#1a1a1a" stroke-width="1.5" fill-opacity="0.56"/>
<rect x="1567.7" y="552.0" width="16.5" height="62.6" fill="#3f8a93" stroke="#1a1a1a" stroke-width="1.5" fill-opacity="0.56"/>
<rect x="1584.2" y="339.8" width="16.5" height="274.8" fill="#3f8a93" stroke="#1a1a1a" stroke-width="1.5" fill-opacity="0.56"/>
<rect x="1600.7" y="554.6" width="16.5" height="60.0" fill="#3f8a93" stroke="#1a1a1a" stroke-width="1.5" fill-opacity="0.56"/>
<rect x="1617.3" y="507.5" width="16.5" height="107.1" fill="#3f8a93" stroke="#1a1a1a" stroke-width="1.5" fill-opacity="0.56"/>
<rect x="1633.8" y="596.0" width="16.5" height="18.6" fill="#3f8a93" stroke="#1a1a1a" stroke-width="1.5" fill-opacity="0.56"/>
<rect x="1650.4" y="507.5" width="16.5" height="107.1" fill="#3f8a93" stroke="#1a1a1a" stroke-width="1.5" fill-opacity="0.56"/>
<rect x="1666.9" y="535.5" width="16.5" height="79.1" fill="#3f8a93" stroke="#1a1a1a" stroke-width="1.5" fill-opacity="0.56"/>
<rect x="1683.4" y="611.3" width="16.5" height="3.3" fill="#3f8a93" stroke="#1a1a1a" stroke-width="1.5" fill-opacity="0.56"/>
<rect x="1700.0" y="598.9" width="16.5" height="15.7" fill="#3f8a93" stroke="#1a1a1a" stroke-width="1.5" fill-opacity="0.56"/>
<rect x="1716.5" y="576.5" width="16.5" height="38.1" fill="#3f8a93" stroke="#1a1a1a" stroke-width="1.5" fill-opacity="0.56"/>
<rect x="1733.1" y="605.0" width="16.5" height="9.6" fill="#3f8a93" stroke="#1a1a1a" stroke-width="1.5" fill-opacity="0.56"/>
<rect x="1815.8" y="601.9" width="16.5" height="12.7" fill="#3f8a93" stroke="#1a1a1a" stroke-width="1.5" fill-opacity="0.56"/>
<rect x="1385.7" y="604.2" width="16.5" height="10.4" fill="#6ff0d4" stroke="#1a1a1a" stroke-width="1.5" fill-opacity="0.55"/>
<rect x="1402.3" y="548.2" width="16.5" height="66.4" fill="#6ff0d4" stroke="#1a1a1a" stroke-width="1.5" fill-opacity="0.55"/>
<rect x="1418.8" y="338.1" width="16.5" height="276.5" fill="#6ff0d4" stroke="#1a1a1a" stroke-width="1.5" fill-opacity="0.55"/>
<rect x="1435.3" y="85.9" width="16.5" height="528.7" fill="#6ff0d4" stroke="#1a1a1a" stroke-width="1.5" fill-opacity="0.55"/>
<rect x="1451.9" y="251.1" width="16.5" height="363.5" fill="#6ff0d4" stroke="#1a1a1a" stroke-width="1.5" fill-opacity="0.55"/>
<rect x="1468.4" y="378.1" width="16.5" height="236.5" fill="#6ff0d4" stroke="#1a1a1a" stroke-width="1.5" fill-opacity="0.55"/>
<rect x="1485.0" y="511.1" width="16.5" height="103.5" fill="#6ff0d4" stroke="#1a1a1a" stroke-width="1.5" fill-opacity="0.55"/>
<rect x="1501.5" y="566.6" width="16.5" height="48.0" fill="#6ff0d4" stroke="#1a1a1a" stroke-width="1.5" fill-opacity="0.55"/>
<rect x="1518.0" y="566.6" width="16.5" height="48.0" fill="#6ff0d4" stroke="#1a1a1a" stroke-width="1.5" fill-opacity="0.55"/>
<rect x="1534.6" y="588.0" width="16.5" height="26.6" fill="#6ff0d4" stroke="#1a1a1a" stroke-width="1.5" fill-opacity="0.55"/>
<rect x="1551.1" y="607.3" width="16.5" height="7.3" fill="#6ff0d4" stroke="#1a1a1a" stroke-width="1.5" fill-opacity="0.55"/>
<rect x="1567.7" y="609.4" width="16.5" height="5.2" fill="#6ff0d4" stroke="#1a1a1a" stroke-width="1.5" fill-opacity="0.55"/>
<rect x="1584.2" y="609.4" width="16.5" height="5.2" fill="#6ff0d4" stroke="#1a1a1a" stroke-width="1.5" fill-opacity="0.55"/>
<rect x="1600.7" y="611.6" width="16.5" height="3.0" fill="#6ff0d4" stroke="#1a1a1a" stroke-width="1.5" fill-opacity="0.55"/>
<rect x="1633.8" y="611.6" width="16.5" height="3.0" fill="#6ff0d4" stroke="#1a1a1a" stroke-width="1.5" fill-opacity="0.55"/>
<rect x="1666.9" y="609.4" width="16.5" height="5.2" fill="#6ff0d4" stroke="#1a1a1a" stroke-width="1.5" fill-opacity="0.55"/>
<rect x="1683.4" y="612.3" width="16.5" height="2.3" fill="#6ff0d4" stroke="#1a1a1a" stroke-width="1.5" fill-opacity="0.55"/>
<line x1="1460.4" y1="59.5" x2="1460.4" y2="614.6" stroke="#6ff0d4" stroke-width="2.6" stroke-dasharray="9.5 4"/>
<line x1="1580.0" y1="59.5" x2="1580.0" y2="614.6" stroke="#3f8a93" stroke-width="2.6" stroke-dasharray="9.5 4"/>
<line x1="1460.4" y1="170.1" x2="1580.0" y2="170.1" stroke="#000" stroke-width="2.6" stroke-dasharray="2.6 4.3"/>
<text x="1512.0" y="164.3" font-size="24" fill="#000">Δ</text>
<line x1="1312.0" y1="58.5" x2="1312.0" y2="615.6" stroke="#000" stroke-width="1.6"/>
<line x1="1311.2" y1="614.8" x2="1857.5" y2="614.8" stroke="#000" stroke-width="1.6"/>
<line x1="1336.1" y1="614.8" x2="1336.1" y2="621.5" stroke="#000" stroke-width="1.6"/>
<text x="1317.4" y="640.0" font-size="24.5" fill="#000" class="dj" letter-spacing="1.64" xml:space="preserve">3.0</text>
<line x1="1418.8" y1="614.8" x2="1418.8" y2="621.5" stroke="#000" stroke-width="1.6"/>
<text x="1400.1" y="640.0" font-size="24.5" fill="#000" class="dj" letter-spacing="1.64" xml:space="preserve">3.5</text>
<line x1="1501.5" y1="614.8" x2="1501.5" y2="621.5" stroke="#000" stroke-width="1.6"/>
<text x="1482.8" y="640.0" font-size="24.5" fill="#000" class="dj" letter-spacing="1.64" xml:space="preserve">4.0</text>
<line x1="1584.2" y1="614.8" x2="1584.2" y2="621.5" stroke="#000" stroke-width="1.6"/>
<text x="1565.5" y="640.0" font-size="24.5" fill="#000" class="dj" letter-spacing="1.64" xml:space="preserve">4.5</text>
<line x1="1666.9" y1="614.8" x2="1666.9" y2="621.5" stroke="#000" stroke-width="1.6"/>
<text x="1648.2" y="640.0" font-size="24.5" fill="#000" class="dj" letter-spacing="1.64" xml:space="preserve">5.0</text>
<line x1="1749.6" y1="614.8" x2="1749.6" y2="621.5" stroke="#000" stroke-width="1.6"/>
<text x="1730.9" y="640.0" font-size="24.5" fill="#000" class="dj" letter-spacing="1.64" xml:space="preserve">5.5</text>
<line x1="1832.3" y1="614.8" x2="1832.3" y2="621.5" stroke="#000" stroke-width="1.6"/>
<text x="1813.6" y="640.0" font-size="24.5" fill="#000" class="dj" letter-spacing="1.64" xml:space="preserve">6.0</text>
<line x1="1305.3" y1="614.6" x2="1312.0" y2="614.6" stroke="#000" stroke-width="1.6"/>
<text x="1288.4" y="623.9" font-size="24.5" fill="#000" class="dj" letter-spacing="1.96" xml:space="preserve">0</text>
<line x1="1305.3" y1="527.6" x2="1312.0" y2="527.6" stroke="#000" stroke-width="1.6"/>
<text x="1288.4" y="536.9" font-size="24.5" fill="#000" class="dj" letter-spacing="1.96" xml:space="preserve">5</text>
<line x1="1305.3" y1="440.7" x2="1312.0" y2="440.7" stroke="#000" stroke-width="1.6"/>
<text x="1272.8" y="450.0" font-size="24.5" fill="#000" class="dj" letter-spacing="1.96" xml:space="preserve">10</text>
<line x1="1305.3" y1="353.8" x2="1312.0" y2="353.8" stroke="#000" stroke-width="1.6"/>
<text x="1272.8" y="363.1" font-size="24.5" fill="#000" class="dj" letter-spacing="1.96" xml:space="preserve">15</text>
<line x1="1305.3" y1="266.8" x2="1312.0" y2="266.8" stroke="#000" stroke-width="1.6"/>
<text x="1272.8" y="276.1" font-size="24.5" fill="#000" class="dj" letter-spacing="1.96" xml:space="preserve">20</text>
<line x1="1305.3" y1="179.9" x2="1312.0" y2="179.9" stroke="#000" stroke-width="1.6"/>
<text x="1272.8" y="189.2" font-size="24.5" fill="#000" class="dj" letter-spacing="1.96" xml:space="preserve">25</text>
<line x1="1305.3" y1="92.9" x2="1312.0" y2="92.9" stroke="#000" stroke-width="1.6"/>
<text x="1272.8" y="102.2" font-size="24.5" fill="#000" class="dj" letter-spacing="1.96" xml:space="preserve">30</text>
<text x="1479.2" y="664.0" font-size="24.5" fill="#000" class="dj" letter-spacing="1.42" xml:space="preserve">Sourdough pH</text>
<text x="-261.4" y="0" font-size="24.5" fill="#000" class="dj" letter-spacing="2.26" transform="translate(1270.5,345.5) rotate(-90)" xml:space="preserve">% of sourdoughs per pH range (n = 551)</text>
<rect x="1452.8" y="37.6" width="430.7" height="85.7" fill="#fff" stroke="#ccc" stroke-width="1.3" rx="3" fill-opacity="0.8"/>
<line x1="1459.0" y1="52.4" x2="1495.4" y2="52.4" stroke="#3f8a93" stroke-width="2.6" stroke-dasharray="9.5 4"/>
<line x1="1459.0" y1="78.8" x2="1495.4" y2="78.8" stroke="#6ff0d4" stroke-width="2.6" stroke-dasharray="9.5 4"/>
<line x1="1459.0" y1="105.6" x2="1495.4" y2="105.6" stroke="#000" stroke-width="2.6" stroke-dasharray="2.6 4.3"/>
<text x="1509.0" y="58.1" font-size="24.5" fill="#000" class="dj" letter-spacing="1.57" xml:space="preserve">Citizen pH mean: 4.47 ±  0.42</text>
<text x="1509.0" y="85.3" font-size="24.5" fill="#000" class="dj" letter-spacing="1.39" xml:space="preserve">Lab pH mean: 3.75 ± 0.20</text>
<text x="1509.0" y="111.8" font-size="24.5" fill="#000" class="dj" letter-spacing="1.18" xml:space="preserve">pH difference ( Δ ): 0.73</text>
<text x="1174.5" y="43.0" font-size="57" fill="#000" font-weight="bold">b</text>
</g>
<g id="pc">
<rect x="234.3" y="739.5" width="288.7" height="19.8" fill="#414270"/>
<line x1="227.0" y1="749.4" x2="234.3" y2="749.4" stroke="#000" stroke-width="1.6"/>
<text x="141.8" y="758.0" font-size="26.3" fill="#000" class="dj" letter-spacing="1.26" xml:space="preserve">Yeasty</text>
<rect x="234.3" y="764.6" width="223.4" height="19.8" fill="#5d5d9a"/>
<line x1="227.0" y1="774.5" x2="234.3" y2="774.5" stroke="#000" stroke-width="1.6"/>
<text x="152.0" y="783.1" font-size="26.3" fill="#000" class="dj" letter-spacing="1.53" xml:space="preserve">Bread</text>
<rect x="234.3" y="789.6" width="221.4" height="19.8" fill="#787ac2"/>
<line x1="227.0" y1="799.5" x2="234.3" y2="799.5" stroke="#000" stroke-width="1.6"/>
<text x="126.6" y="808.1" font-size="26.3" fill="#000" class="dj" letter-spacing="1.60" xml:space="preserve">Yoghurt</text>
<rect x="234.3" y="814.7" width="189.9" height="19.8" fill="#787ac2"/>
<line x1="227.0" y1="824.6" x2="234.3" y2="824.6" stroke="#000" stroke-width="1.6"/>
<text x="89.6" y="833.2" font-size="26.3" fill="#000" class="dj" letter-spacing="1.45" xml:space="preserve">Lactic acid</text>
<rect x="234.3" y="839.7" width="189.9" height="19.8" fill="#5d5d9a"/>
<line x1="227.0" y1="849.6" x2="234.3" y2="849.6" stroke="#000" stroke-width="1.6"/>
<text x="71.7" y="858.2" font-size="26.3" fill="#000" class="dj" letter-spacing="1.62" xml:space="preserve">Whole grain</text>
<rect x="234.3" y="864.8" width="180.2" height="19.8" fill="#a6a5d8"/>
<line x1="227.0" y1="874.7" x2="234.3" y2="874.7" stroke="#000" stroke-width="1.6"/>
<text x="155.0" y="883.3" font-size="26.3" fill="#000" class="dj" letter-spacing="1.52" xml:space="preserve">Apple</text>
<rect x="234.3" y="889.9" width="175.8" height="19.8" fill="#627444"/>
<line x1="227.0" y1="899.8" x2="234.3" y2="899.8" stroke="#000" stroke-width="1.6"/>
<text x="128.1" y="908.4" font-size="26.3" fill="#000" class="dj" letter-spacing="1.59" xml:space="preserve">Vinegar</text>
<rect x="234.3" y="914.9" width="151.7" height="19.8" fill="#414270"/>
<line x1="227.0" y1="924.8" x2="234.3" y2="924.8" stroke="#000" stroke-width="1.6"/>
<text x="112.1" y="933.4" font-size="26.3" fill="#000" class="dj" letter-spacing="1.38" xml:space="preserve">Alcoholic</text>
<rect x="234.3" y="940.0" width="146.7" height="19.8" fill="#787ac2"/>
<line x1="227.0" y1="949.9" x2="234.3" y2="949.9" stroke="#000" stroke-width="1.6"/>
<text x="83.9" y="958.5" font-size="26.3" fill="#000" class="dj" letter-spacing="1.99" xml:space="preserve">Butter milk</text>
<rect x="234.3" y="965.0" width="145.1" height="19.8" fill="#414270"/>
<line x1="227.0" y1="974.9" x2="234.3" y2="974.9" stroke="#000" stroke-width="1.6"/>
<text x="168.6" y="983.5" font-size="26.3" fill="#000" class="dj" letter-spacing="1.42" xml:space="preserve">Beer</text>
<rect x="234.3" y="990.1" width="143.6" height="19.8" fill="#5d5d9a"/>
<line x1="227.0" y1="1000.0" x2="234.3" y2="1000.0" stroke="#000" stroke-width="1.6"/>
<text x="119.3" y="1008.6" font-size="26.3" fill="#000" class="dj" letter-spacing="1.38" xml:space="preserve">Porridge</text>
<rect x="234.3" y="1015.2" width="142.0" height="19.8" fill="#5d5d9a"/>
<line x1="227.0" y1="1025.1" x2="234.3" y2="1025.1" stroke="#000" stroke-width="1.6"/>
<text x="178.4" y="1033.7" font-size="26.3" fill="#000" class="dj" letter-spacing="1.56" xml:space="preserve">Hay</text>
<rect x="234.3" y="1040.2" width="119.7" height="19.8" fill="#a6a5d8"/>
<line x1="227.0" y1="1050.1" x2="234.3" y2="1050.1" stroke="#000" stroke-width="1.6"/>
<text x="130.1" y="1058.7" font-size="26.3" fill="#000" class="dj" letter-spacing="1.51" xml:space="preserve">Banana</text>
<rect x="234.3" y="1065.3" width="119.7" height="19.8" fill="#5d5d9a"/>
<line x1="227.0" y1="1075.2" x2="234.3" y2="1075.2" stroke="#000" stroke-width="1.6"/>
<text x="93.5" y="1083.8" font-size="26.3" fill="#000" class="dj" letter-spacing="1.50" xml:space="preserve">Grain field</text>
<rect x="234.3" y="1090.3" width="95.9" height="19.8" fill="#627444"/>
<line x1="227.0" y1="1100.2" x2="234.3" y2="1100.2" stroke="#000" stroke-width="1.6"/>
<text x="6.7" y="1108.8" font-size="26.3" fill="#000" class="dj" letter-spacing="1.62" xml:space="preserve">Fermented grass</text>
<rect x="234.3" y="1115.4" width="89.6" height="19.8" fill="#87985c"/>
<line x1="227.0" y1="1125.3" x2="234.3" y2="1125.3" stroke="#000" stroke-width="1.6"/>
<text x="81.0" y="1133.9" font-size="26.3" fill="#000" class="dj" letter-spacing="1.58" xml:space="preserve">Moist wood</text>
<rect x="234.3" y="1140.5" width="86.2" height="19.8" fill="#b0c478"/>
<line x1="227.0" y1="1150.4" x2="234.3" y2="1150.4" stroke="#000" stroke-width="1.6"/>
<text x="169.2" y="1159.0" font-size="26.3" fill="#000" class="dj" letter-spacing="1.25" xml:space="preserve">Glue</text>
<rect x="234.3" y="1165.5" width="78.3" height="19.8" fill="#c9d5a5"/>
<line x1="227.0" y1="1175.4" x2="234.3" y2="1175.4" stroke="#000" stroke-width="1.6"/>
<text x="154.8" y="1184.0" font-size="26.3" fill="#000" class="dj" letter-spacing="0.91" xml:space="preserve">Grass</text>
<rect x="234.3" y="1190.6" width="64.2" height="19.8" fill="#787ac2"/>
<line x1="227.0" y1="1200.5" x2="234.3" y2="1200.5" stroke="#000" stroke-width="1.6"/>
<text x="78.1" y="1209.1" font-size="26.3" fill="#000" class="dj" letter-spacing="1.59" xml:space="preserve">Sour cream</text>
<rect x="234.3" y="1215.6" width="57.2" height="19.8" fill="#80683a"/>
<line x1="227.0" y1="1225.5" x2="234.3" y2="1225.5" stroke="#000" stroke-width="1.6"/>
<text x="39.9" y="1234.1" font-size="26.3" fill="#000" class="dj" letter-spacing="1.57" xml:space="preserve">Toasted bread</text>
<rect x="234.3" y="1240.7" width="51.1" height="19.8" fill="#a8934a"/>
<line x1="227.0" y1="1250.6" x2="234.3" y2="1250.6" stroke="#000" stroke-width="1.6"/>
<text x="113.1" y="1259.2" font-size="26.3" fill="#000" class="dj" letter-spacing="1.63" xml:space="preserve">Hazelnut</text>
<rect x="234.3" y="1265.8" width="51.1" height="19.8" fill="#c9d5a5"/>
<line x1="227.0" y1="1275.7" x2="234.3" y2="1275.7" stroke="#000" stroke-width="1.6"/>
<text x="108.8" y="1284.3" font-size="26.3" fill="#000" class="dj" letter-spacing="1.42" xml:space="preserve">Chickpea</text>
<rect x="234.3" y="1290.8" width="44.8" height="19.8" fill="#b0c478"/>
<line x1="227.0" y1="1300.7" x2="234.3" y2="1300.7" stroke="#000" stroke-width="1.6"/>
<text x="163.5" y="1309.3" font-size="26.3" fill="#000" class="dj" letter-spacing="1.26" xml:space="preserve">Paint</text>
<rect x="234.3" y="1315.9" width="41.9" height="19.8" fill="#c9d5a5"/>
<line x1="227.0" y1="1325.8" x2="234.3" y2="1325.8" stroke="#000" stroke-width="1.6"/>
<text x="129.1" y="1334.4" font-size="26.3" fill="#000" class="dj" letter-spacing="1.65" xml:space="preserve">Vegetal</text>
<rect x="234.3" y="1340.9" width="41.9" height="19.8" fill="#d6b164"/>
<line x1="227.0" y1="1350.8" x2="234.3" y2="1350.8" stroke="#000" stroke-width="1.6"/>
<text x="119.0" y="1359.4" font-size="26.3" fill="#000" class="dj" letter-spacing="1.43" xml:space="preserve">Minerals</text>
<rect x="234.3" y="1366.0" width="41.9" height="19.8" fill="#87985c"/>
<line x1="227.0" y1="1375.9" x2="234.3" y2="1375.9" stroke="#000" stroke-width="1.6"/>
<text x="182.1" y="1384.5" font-size="26.3" fill="#000" class="dj" letter-spacing="0.89" xml:space="preserve">Soil</text>
<rect x="234.3" y="1391.1" width="40.3" height="19.8" fill="#414270"/>
<line x1="227.0" y1="1401.0" x2="234.3" y2="1401.0" stroke="#000" stroke-width="1.6"/>
<text x="103.5" y="1409.6" font-size="26.3" fill="#000" class="dj" letter-spacing="1.36" xml:space="preserve">Rice wine</text>
<rect x="234.3" y="1416.1" width="38.7" height="19.8" fill="#627444"/>
<line x1="227.0" y1="1426.0" x2="234.3" y2="1426.0" stroke="#000" stroke-width="1.6"/>
<text x="140.8" y="1434.6" font-size="26.3" fill="#000" class="dj" letter-spacing="1.76" xml:space="preserve">Lemon</text>
<line x1="302.4" y1="736.5" x2="302.4" y2="1438.9" stroke="#000" stroke-width="2.6" stroke-dasharray="9.5 4.2"/>
<line x1="234.3" y1="735.5" x2="234.3" y2="1439.7" stroke="#000" stroke-width="1.6"/>
<line x1="233.5" y1="1438.9" x2="537.5" y2="1438.9" stroke="#000" stroke-width="1.6"/>
<line x1="234.3" y1="1438.9" x2="234.3" y2="1445.6" stroke="#000" stroke-width="1.6"/>
<text x="227.0" y="1466.3" font-size="26.2" fill="#000" class="dj" letter-spacing="2.10" xml:space="preserve">0</text>
<line x1="313.7" y1="1438.9" x2="313.7" y2="1445.6" stroke="#000" stroke-width="1.6"/>
<text x="298.1" y="1466.3" font-size="26.2" fill="#000" class="dj" letter-spacing="2.10" xml:space="preserve">50</text>
<line x1="393.1" y1="1438.9" x2="393.1" y2="1445.6" stroke="#000" stroke-width="1.6"/>
<text x="369.1" y="1466.3" font-size="26.2" fill="#000" class="dj" letter-spacing="2.10" xml:space="preserve">100</text>
<line x1="472.5" y1="1438.9" x2="472.5" y2="1445.6" stroke="#000" stroke-width="1.6"/>
<text x="448.5" y="1466.3" font-size="26.2" fill="#000" class="dj" letter-spacing="2.10" xml:space="preserve">150</text>
<text x="240.7" y="1492.5" font-size="26.2" fill="#000" class="dj" letter-spacing="1.34" xml:space="preserve">Responses (n = 557)</text>
<rect x="755.2" y="739.5" width="39.1" height="19.8" fill="#5d5d9a"/>
<line x1="747.9" y1="749.4" x2="755.2" y2="749.4" stroke="#000" stroke-width="1.6"/>
<text x="690.4" y="758.0" font-size="26.3" fill="#000" class="dj" letter-spacing="0.90" xml:space="preserve">Rice</text>
<rect x="755.2" y="764.6" width="35.9" height="19.8" fill="#80683a"/>
<line x1="747.9" y1="774.5" x2="755.2" y2="774.5" stroke="#000" stroke-width="1.6"/>
<text x="636.5" y="783.1" font-size="26.3" fill="#000" class="dj" letter-spacing="1.59" xml:space="preserve">Caramel</text>
<rect x="755.2" y="789.6" width="34.3" height="19.8" fill="#787ac2"/>
<line x1="747.9" y1="799.5" x2="755.2" y2="799.5" stroke="#000" stroke-width="1.6"/>
<text x="467.2" y="808.1" font-size="26.3" fill="#000" class="dj" letter-spacing="1.65" xml:space="preserve">Matured hard cheese</text>
<rect x="755.2" y="814.7" width="34.3" height="19.8" fill="#627444"/>
<line x1="747.9" y1="824.6" x2="755.2" y2="824.6" stroke="#000" stroke-width="1.6"/>
<text x="500.6" y="833.2" font-size="26.3" fill="#000" class="dj" letter-spacing="1.50" xml:space="preserve">Pickled vegetables</text>
<rect x="755.2" y="839.7" width="32.7" height="19.8" fill="#c9d5a5"/>
<line x1="747.9" y1="849.6" x2="755.2" y2="849.6" stroke="#000" stroke-width="1.6"/>
<text x="583.7" y="858.2" font-size="26.3" fill="#000" class="dj" letter-spacing="1.66" xml:space="preserve">Unripe fruits</text>
<rect x="755.2" y="864.8" width="32.7" height="19.8" fill="#e0c9a0"/>
<line x1="747.9" y1="874.7" x2="755.2" y2="874.7" stroke="#000" stroke-width="1.6"/>
<text x="589.4" y="883.3" font-size="26.3" fill="#000" class="dj" letter-spacing="1.71" xml:space="preserve">Animal feed</text>
<rect x="755.2" y="889.9" width="31.1" height="19.8" fill="#a6a5d8"/>
<line x1="747.9" y1="899.8" x2="755.2" y2="899.8" stroke="#000" stroke-width="1.6"/>
<text x="565.7" y="908.4" font-size="26.3" fill="#000" class="dj" letter-spacing="1.56" xml:space="preserve">Tropical fruits</text>
<rect x="755.2" y="914.9" width="27.8" height="19.8" fill="#c9d5a5"/>
<line x1="747.9" y1="924.8" x2="755.2" y2="924.8" stroke="#000" stroke-width="1.6"/>
<text x="654.4" y="933.4" font-size="26.3" fill="#000" class="dj" letter-spacing="1.26" xml:space="preserve">Leaves</text>
<rect x="755.2" y="940.0" width="27.8" height="19.8" fill="#b0c478"/>
<line x1="747.9" y1="949.9" x2="755.2" y2="949.9" stroke="#000" stroke-width="1.6"/>
<text x="621.8" y="958.5" font-size="26.3" fill="#000" class="dj" letter-spacing="2.05" xml:space="preserve">Ammonia</text>
<rect x="755.2" y="965.0" width="24.6" height="19.8" fill="#a6a5d8"/>
<line x1="747.9" y1="974.9" x2="755.2" y2="974.9" stroke="#000" stroke-width="1.6"/>
<text x="653.9" y="983.5" font-size="26.3" fill="#000" class="dj" letter-spacing="1.39" xml:space="preserve">Berries</text>
<rect x="755.2" y="990.1" width="23.0" height="19.8" fill="#627444"/>
<line x1="747.9" y1="1000.0" x2="755.2" y2="1000.0" stroke="#000" stroke-width="1.6"/>
<text x="654.9" y="1008.6" font-size="26.3" fill="#000" class="dj" letter-spacing="1.18" xml:space="preserve">Capers</text>
<rect x="755.2" y="1015.2" width="19.7" height="19.8" fill="#a6a5d8"/>
<line x1="747.9" y1="1025.1" x2="755.2" y2="1025.1" stroke="#000" stroke-width="1.6"/>
<text x="617.9" y="1033.7" font-size="26.3" fill="#000" class="dj" letter-spacing="1.34" xml:space="preserve">Pineapple</text>
<rect x="755.2" y="1040.2" width="19.7" height="19.8" fill="#e0c9a0"/>
<line x1="747.9" y1="1050.1" x2="755.2" y2="1050.1" stroke="#000" stroke-width="1.6"/>
<text x="679.3" y="1058.7" font-size="26.3" fill="#000" class="dj" letter-spacing="1.58" xml:space="preserve">Farm</text>
<rect x="755.2" y="1065.3" width="19.7" height="19.8" fill="#d6b164"/>
<line x1="747.9" y1="1075.2" x2="755.2" y2="1075.2" stroke="#000" stroke-width="1.6"/>
<text x="627.3" y="1083.8" font-size="26.3" fill="#000" class="dj" letter-spacing="1.41" xml:space="preserve">Seaweed</text>
<rect x="755.2" y="1090.3" width="16.5" height="19.8" fill="#7c4244"/>
<line x1="747.9" y1="1100.2" x2="755.2" y2="1100.2" stroke="#000" stroke-width="1.6"/>
<text x="669.9" y="1108.8" font-size="26.3" fill="#000" class="dj" letter-spacing="2.02" xml:space="preserve">Vomit</text>
<rect x="755.2" y="1115.4" width="14.9" height="19.8" fill="#b0c478"/>
<line x1="747.9" y1="1125.3" x2="755.2" y2="1125.3" stroke="#000" stroke-width="1.6"/>
<text x="622.9" y="1133.9" font-size="26.3" fill="#000" class="dj" letter-spacing="1.78" xml:space="preserve">Synthetic</text>
<rect x="755.2" y="1140.5" width="14.9" height="19.8" fill="#7c4244"/>
<line x1="747.9" y1="1150.4" x2="755.2" y2="1150.4" stroke="#000" stroke-width="1.6"/>
<text x="590.4" y="1159.0" font-size="26.3" fill="#000" class="dj" letter-spacing="1.75" xml:space="preserve">Sweaty feet</text>
<rect x="755.2" y="1165.5" width="14.9" height="19.8" fill="#7c4244"/>
<line x1="747.9" y1="1175.4" x2="755.2" y2="1175.4" stroke="#000" stroke-width="1.6"/>
<text x="590.9" y="1184.0" font-size="26.3" fill="#000" class="dj" letter-spacing="1.68" xml:space="preserve">Butyric acid</text>
<rect x="755.2" y="1190.6" width="13.3" height="19.8" fill="#a8934a"/>
<line x1="747.9" y1="1200.5" x2="755.2" y2="1200.5" stroke="#000" stroke-width="1.6"/>
<text x="655.1" y="1209.1" font-size="26.3" fill="#000" class="dj" letter-spacing="1.41" xml:space="preserve">Peanut</text>
<rect x="755.2" y="1215.6" width="13.3" height="19.8" fill="#c9d5a5"/>
<line x1="747.9" y1="1225.5" x2="755.2" y2="1225.5" stroke="#000" stroke-width="1.6"/>
<text x="532.9" y="1234.1" font-size="26.3" fill="#000" class="dj" letter-spacing="1.60" xml:space="preserve">Root vegetables</text>
<rect x="755.2" y="1240.7" width="13.3" height="19.8" fill="#5d5d9a"/>
<line x1="747.9" y1="1250.6" x2="755.2" y2="1250.6" stroke="#000" stroke-width="1.6"/>
<text x="684.9" y="1259.2" font-size="26.3" fill="#000" class="dj" letter-spacing="1.23" xml:space="preserve">Corn</text>
<rect x="755.2" y="1265.8" width="11.8" height="19.8" fill="#80683a"/>
<line x1="747.9" y1="1275.7" x2="755.2" y2="1275.7" stroke="#000" stroke-width="1.6"/>
<text x="640.5" y="1284.3" font-size="26.3" fill="#000" class="dj" letter-spacing="1.67" xml:space="preserve">Smoked</text>
<rect x="755.2" y="1290.8" width="8.4" height="19.8" fill="#b0c478"/>
<line x1="747.9" y1="1300.7" x2="755.2" y2="1300.7" stroke="#000" stroke-width="1.6"/>
<text x="661.7" y="1309.3" font-size="26.3" fill="#000" class="dj" letter-spacing="1.09" xml:space="preserve">Plastic</text>
<rect x="755.2" y="1315.9" width="7.3" height="19.8" fill="#7c4244"/>
<line x1="747.9" y1="1325.8" x2="755.2" y2="1325.8" stroke="#000" stroke-width="1.6"/>
<text x="694.5" y="1334.4" font-size="26.3" fill="#000" class="dj" letter-spacing="1.40" xml:space="preserve">Fart</text>
<rect x="755.2" y="1340.9" width="7.3" height="19.8" fill="#e0c9a0"/>
<line x1="747.9" y1="1350.8" x2="755.2" y2="1350.8" stroke="#000" stroke-width="1.6"/>
<text x="647.9" y="1359.4" font-size="26.3" fill="#000" class="dj" letter-spacing="1.66" xml:space="preserve">Manure</text>
<rect x="755.2" y="1366.0" width="7.3" height="19.8" fill="#87985c"/>
<line x1="747.9" y1="1375.9" x2="755.2" y2="1375.9" stroke="#000" stroke-width="1.6"/>
<text x="668.7" y="1384.5" font-size="26.3" fill="#000" class="dj" letter-spacing="1.64" xml:space="preserve">Moldy</text>
<rect x="755.2" y="1391.1" width="7.3" height="19.8" fill="#e0c9a0"/>
<line x1="747.9" y1="1401.0" x2="755.2" y2="1401.0" stroke="#000" stroke-width="1.6"/>
<text x="567.4" y="1409.6" font-size="26.3" fill="#000" class="dj" letter-spacing="1.68" xml:space="preserve">Animal stable</text>
<rect x="755.2" y="1416.1" width="1.6" height="19.8" fill="#7c4244"/>
<line x1="747.9" y1="1426.0" x2="755.2" y2="1426.0" stroke="#000" stroke-width="1.6"/>
<text x="676.7" y="1434.6" font-size="26.3" fill="#000" class="dj" letter-spacing="1.47" xml:space="preserve">Urine</text>
<line x1="823.3" y1="736.5" x2="823.3" y2="1438.9" stroke="#000" stroke-width="2.6" stroke-dasharray="9.5 4.2"/>
<line x1="755.2" y1="735.5" x2="755.2" y2="1439.7" stroke="#000" stroke-width="1.6"/>
<line x1="754.4" y1="1438.9" x2="1059.3" y2="1438.9" stroke="#000" stroke-width="1.6"/>
<line x1="755.2" y1="1438.9" x2="755.2" y2="1445.6" stroke="#000" stroke-width="1.6"/>
<text x="747.9" y="1466.3" font-size="26.2" fill="#000" class="dj" letter-spacing="2.10" xml:space="preserve">0</text>
<line x1="834.6" y1="1438.9" x2="834.6" y2="1445.6" stroke="#000" stroke-width="1.6"/>
<text x="819.0" y="1466.3" font-size="26.2" fill="#000" class="dj" letter-spacing="2.10" xml:space="preserve">50</text>
<line x1="914.0" y1="1438.9" x2="914.0" y2="1445.6" stroke="#000" stroke-width="1.6"/>
<text x="890.0" y="1466.3" font-size="26.2" fill="#000" class="dj" letter-spacing="2.10" xml:space="preserve">100</text>
<line x1="993.4" y1="1438.9" x2="993.4" y2="1445.6" stroke="#000" stroke-width="1.6"/>
<text x="969.4" y="1466.3" font-size="26.2" fill="#000" class="dj" letter-spacing="2.10" xml:space="preserve">150</text>
<text x="762.0" y="1492.5" font-size="26.2" fill="#000" class="dj" letter-spacing="1.34" xml:space="preserve">Responses (n = 557)</text>
<rect x="876.6" y="884.4" width="281.4" height="373.0" fill="#fff" stroke="#ccc" stroke-width="1.3" rx="3" fill-opacity="0.8"/>
<text x="913.5" y="905.8" font-size="26.2" fill="#000" class="dj" letter-spacing="1.82" xml:space="preserve">Aroma category</text>
<rect x="883.9" y="921.1" width="39.5" height="13.8" fill="#5d5d9a"/>
<text x="938.7" y="936.6" font-size="26.7" fill="#000" class="dj" letter-spacing="1.35" xml:space="preserve">Grain/Cereal</text>
<rect x="883.9" y="949.3" width="39.5" height="13.8" fill="#80683a"/>
<text x="938.7" y="964.8" font-size="26.7" fill="#000" class="dj" letter-spacing="1.47" xml:space="preserve">Toasted</text>
<rect x="883.9" y="977.5" width="39.5" height="13.8" fill="#787ac2"/>
<text x="938.7" y="993.0" font-size="26.7" fill="#000" class="dj" letter-spacing="1.84" xml:space="preserve">Fermented dairy</text>
<rect x="883.9" y="1005.8" width="39.5" height="13.8" fill="#627444"/>
<text x="938.7" y="1021.3" font-size="26.7" fill="#000" class="dj" letter-spacing="1.20" xml:space="preserve">Sour</text>
<rect x="883.9" y="1034.0" width="39.5" height="13.8" fill="#c9d5a5"/>
<text x="938.7" y="1049.5" font-size="26.7" fill="#000" class="dj" letter-spacing="1.55" xml:space="preserve">Veggie</text>
<rect x="883.9" y="1062.2" width="39.5" height="13.8" fill="#e0c9a0"/>
<text x="938.7" y="1077.7" font-size="26.7" fill="#000" class="dj" letter-spacing="1.80" xml:space="preserve">Animal</text>
<rect x="883.9" y="1090.4" width="39.5" height="13.8" fill="#a6a5d8"/>
<text x="938.7" y="1105.9" font-size="26.7" fill="#000" class="dj" letter-spacing="1.70" xml:space="preserve">Fruity</text>
<rect x="883.9" y="1118.6" width="39.5" height="13.8" fill="#b0c478"/>
<text x="938.7" y="1134.1" font-size="26.7" fill="#000" class="dj" letter-spacing="1.57" xml:space="preserve">Chemical</text>
<rect x="883.9" y="1146.9" width="39.5" height="13.8" fill="#d6b164"/>
<text x="938.7" y="1162.4" font-size="26.7" fill="#000" class="dj" letter-spacing="1.35" xml:space="preserve">Ocean</text>
<rect x="883.9" y="1175.1" width="39.5" height="13.8" fill="#7c4244"/>
<text x="938.7" y="1190.6" font-size="26.7" fill="#000" class="dj" letter-spacing="1.68" xml:space="preserve">Body odour</text>
<rect x="883.9" y="1203.3" width="39.5" height="13.8" fill="#a8934a"/>
<text x="938.7" y="1218.8" font-size="26.7" fill="#000" class="dj" letter-spacing="2.26" xml:space="preserve">Nutty</text>
<rect x="883.9" y="1231.5" width="39.5" height="13.8" fill="#87985c"/>
<text x="938.7" y="1247.0" font-size="26.7" fill="#000" class="dj" letter-spacing="1.71" xml:space="preserve">Earthy</text>
<text x="114.0" y="717.5" font-size="57" fill="#000" font-weight="bold">c</text>
</g>
<g id="pd">
<circle cx="1531.3" cy="1199.8" r="4.9" fill="#7b1872" fill-opacity="0.7"/>
<circle cx="1625.4" cy="1026.3" r="4.9" fill="#7b1872" fill-opacity="0.7"/>
<circle cx="1627.9" cy="1078.7" r="4.9" fill="#7b1872" fill-opacity="0.7"/>
<circle cx="1426.9" cy="1169.7" r="4.9" fill="#f9b95c" fill-opacity="0.7"/>
<circle cx="1579.3" cy="1077.7" r="4.9" fill="#7b1872" fill-opacity="0.7"/>
<circle cx="1530.1" cy="1235.5" r="4.9" fill="#7b1872" fill-opacity="0.7"/>
<circle cx="1554.1" cy="1033.8" r="4.9" fill="#6cc4a8" fill-opacity="0.7"/>
<circle cx="1416.4" cy="1201.2" r="4.9" fill="#7b1872" fill-opacity="0.7"/>
<circle cx="1514.0" cy="1192.9" r="4.9" fill="#3f8a93" fill-opacity="0.7"/>
<circle cx="1516.7" cy="1200.0" r="4.9" fill="#c964cf" fill-opacity="0.7"/>
<circle cx="1601.8" cy="1121.2" r="4.9" fill="#7b1872" fill-opacity="0.7"/>
<circle cx="1706.5" cy="1196.7" r="4.9" fill="#c964cf" fill-opacity="0.7"/>
<circle cx="1593.2" cy="1258.3" r="4.9" fill="#7b1872" fill-opacity="0.7"/>
<circle cx="1618.0" cy="1315.5" r="4.9" fill="#7b1872" fill-opacity="0.7"/>
<circle cx="1830.6" cy="1107.6" r="4.9" fill="#7b1872" fill-opacity="0.7"/>
<circle cx="1758.8" cy="1222.2" r="4.9" fill="#c964cf" fill-opacity="0.7"/>
<circle cx="1653.8" cy="1334.6" r="4.9" fill="#7b1872" fill-opacity="0.7"/>
<circle cx="1427.0" cy="1178.1" r="4.9" fill="#3f8a93" fill-opacity="0.7"/>
<circle cx="1551.4" cy="1129.2" r="4.9" fill="#7b1872" fill-opacity="0.7"/>
<circle cx="1628.1" cy="1291.3" r="4.9" fill="#b09fd4" fill-opacity="0.7"/>
<circle cx="1546.1" cy="1213.2" r="4.9" fill="#2f4b7c" fill-opacity="0.7"/>
<circle cx="1602.7" cy="1274.1" r="4.9" fill="#7b1872" fill-opacity="0.7"/>
<circle cx="1398.3" cy="1082.1" r="4.9" fill="#7b1872" fill-opacity="0.7"/>
<circle cx="1718.6" cy="1117.0" r="4.9" fill="#2f4b7c" fill-opacity="0.7"/>
<circle cx="1380.6" cy="1152.9" r="4.9" fill="#c964cf" fill-opacity="0.7"/>
<circle cx="1722.6" cy="1100.3" r="4.9" fill="#b09fd4" fill-opacity="0.7"/>
<circle cx="1456.3" cy="1082.9" r="4.9" fill="#b09fd4" fill-opacity="0.7"/>
<circle cx="1519.7" cy="1246.3" r="4.9" fill="#f9b95c" fill-opacity="0.7"/>
<circle cx="1691.2" cy="1066.6" r="4.9" fill="#7b1872" fill-opacity="0.7"/>
<circle cx="1461.6" cy="1165.1" r="4.9" fill="#7b1872" fill-opacity="0.7"/>
<circle cx="1655.7" cy="1300.1" r="4.9" fill="#6ff0d4" fill-opacity="0.7"/>
<circle cx="1474.6" cy="1202.1" r="4.9" fill="#3f8a93" fill-opacity="0.7"/>
<circle cx="1701.4" cy="1354.8" r="4.9" fill="#7b1872" fill-opacity="0.7"/>
<circle cx="1586.0" cy="1015.6" r="4.9" fill="#7b1872" fill-opacity="0.7"/>
<circle cx="1619.8" cy="985.9" r="4.9" fill="#7b1872" fill-opacity="0.7"/>
<circle cx="1485.9" cy="1209.0" r="4.9" fill="#7b1872" fill-opacity="0.7"/>
<circle cx="1572.5" cy="1377.1" r="4.9" fill="#b09fd4" fill-opacity="0.7"/>
<circle cx="1434.6" cy="1125.4" r="4.9" fill="#2f4b7c" fill-opacity="0.7"/>
<circle cx="1553.4" cy="967.7" r="4.9" fill="#7b1872" fill-opacity="0.7"/>
<circle cx="1658.7" cy="1043.1" r="4.9" fill="#2f4b7c" fill-opacity="0.7"/>
<circle cx="1541.3" cy="1221.7" r="4.9" fill="#7b1872" fill-opacity="0.7"/>
<circle cx="1485.4" cy="1205.9" r="4.9" fill="#f9b95c" fill-opacity="0.7"/>
<circle cx="1674.6" cy="1378.2" r="4.9" fill="#7b1872" fill-opacity="0.7"/>
<circle cx="1460.4" cy="1149.8" r="4.9" fill="#b09fd4" fill-opacity="0.7"/>
<circle cx="1500.4" cy="1016.6" r="4.9" fill="#7b1872" fill-opacity="0.7"/>
<circle cx="1652.5" cy="1245.7" r="4.9" fill="#2f4b7c" fill-opacity="0.7"/>
<circle cx="1701.4" cy="1240.1" r="4.9" fill="#c964cf" fill-opacity="0.7"/>
<circle cx="1653.4" cy="1122.3" r="4.9" fill="#7b1872" fill-opacity="0.7"/>
<circle cx="1738.7" cy="1204.9" r="4.9" fill="#7b1872" fill-opacity="0.7"/>
<circle cx="1617.2" cy="985.6" r="4.9" fill="#7b1872" fill-opacity="0.7"/>
<circle cx="1616.5" cy="1130.0" r="4.9" fill="#b09fd4" fill-opacity="0.7"/>
<circle cx="1642.6" cy="1148.3" r="4.9" fill="#c964cf" fill-opacity="0.7"/>
<circle cx="1527.7" cy="1094.9" r="4.9" fill="#7b1872" fill-opacity="0.7"/>
<circle cx="1557.2" cy="1010.7" r="4.9" fill="#7b1872" fill-opacity="0.7"/>
<circle cx="1563.3" cy="1264.2" r="4.9" fill="#b09fd4" fill-opacity="0.7"/>
<circle cx="1551.5" cy="1219.7" r="4.9" fill="#7b1872" fill-opacity="0.7"/>
<circle cx="1650.8" cy="1140.0" r="4.9" fill="#2f4b7c" fill-opacity="0.7"/>
<circle cx="1398.0" cy="1135.5" r="4.9" fill="#f9b95c" fill-opacity="0.7"/>
<circle cx="1511.2" cy="1214.8" r="4.9" fill="#7b1872" fill-opacity="0.7"/>
<circle cx="1663.3" cy="1166.8" r="4.9" fill="#b09fd4" fill-opacity="0.7"/>
<circle cx="1478.8" cy="1007.3" r="4.9" fill="#7b1872" fill-opacity="0.7"/>
<circle cx="1407.4" cy="1151.1" r="4.9" fill="#3f8a93" fill-opacity="0.7"/>
<circle cx="1507.6" cy="1089.0" r="4.9" fill="#3f8a93" fill-opacity="0.7"/>
<circle cx="1518.9" cy="1258.6" r="4.9" fill="#f9b95c" fill-opacity="0.7"/>
<circle cx="1452.2" cy="1130.1" r="4.9" fill="#f9b95c" fill-opacity="0.7"/>
<circle cx="1666.1" cy="974.5" r="4.9" fill="#888888" fill-opacity="0.7"/>
<circle cx="1605.5" cy="1039.1" r="4.9" fill="#7b1872" fill-opacity="0.7"/>
<circle cx="1579.4" cy="1017.5" r="4.9" fill="#7b1872" fill-opacity="0.7"/>
<circle cx="1520.5" cy="1097.5" r="4.9" fill="#6ff0d4" fill-opacity="0.7"/>
<circle cx="1559.5" cy="1112.4" r="4.9" fill="#6cc4a8" fill-opacity="0.7"/>
<circle cx="1509.6" cy="1075.7" r="4.9" fill="#7b1872" fill-opacity="0.7"/>
<circle cx="1553.5" cy="1069.3" r="4.9" fill="#3f8a93" fill-opacity="0.7"/>
<circle cx="1503.7" cy="1205.6" r="4.9" fill="#3f8a93" fill-opacity="0.7"/>
<circle cx="1645.0" cy="1103.6" r="4.9" fill="#b09fd4" fill-opacity="0.7"/>
<circle cx="1402.0" cy="1099.2" r="4.9" fill="#3f8a93" fill-opacity="0.7"/>
<circle cx="1595.6" cy="1114.2" r="4.9" fill="#7b1872" fill-opacity="0.7"/>
<circle cx="1460.4" cy="1169.3" r="4.9" fill="#2f4b7c" fill-opacity="0.7"/>
<circle cx="1489.8" cy="1210.1" r="4.9" fill="#c964cf" fill-opacity="0.7"/>
<circle cx="1464.1" cy="1171.3" r="4.9" fill="#7b1872" fill-opacity="0.7"/>
<circle cx="1462.5" cy="1180.7" r="4.9" fill="#f9b95c" fill-opacity="0.7"/>
<circle cx="1581.1" cy="1098.7" r="4.9" fill="#7b1872" fill-opacity="0.7"/>
<circle cx="1453.5" cy="1201.1" r="4.9" fill="#b09fd4" fill-opacity="0.7"/>
<circle cx="1546.0" cy="1097.8" r="4.9" fill="#7b1872" fill-opacity="0.7"/>
<circle cx="1671.1" cy="1125.9" r="4.9" fill="#7b1872" fill-opacity="0.7"/>
<circle cx="1642.2" cy="1262.5" r="4.9" fill="#888888" fill-opacity="0.7"/>
<circle cx="1517.2" cy="1182.6" r="4.9" fill="#7b1872" fill-opacity="0.7"/>
<circle cx="1468.1" cy="1161.6" r="4.9" fill="#2f4b7c" fill-opacity="0.7"/>
<circle cx="1582.4" cy="1107.8" r="4.9" fill="#f9b95c" fill-opacity="0.7"/>
<circle cx="1603.8" cy="1176.6" r="4.9" fill="#7b1872" fill-opacity="0.7"/>
<circle cx="1423.8" cy="1153.2" r="4.9" fill="#b09fd4" fill-opacity="0.7"/>
<circle cx="1564.2" cy="1012.2" r="4.9" fill="#7b1872" fill-opacity="0.7"/>
<circle cx="1571.9" cy="1282.0" r="4.9" fill="#c964cf" fill-opacity="0.7"/>
<circle cx="1770.8" cy="1182.5" r="4.9" fill="#7b1872" fill-opacity="0.7"/>
<circle cx="1576.3" cy="1072.8" r="4.9" fill="#888888" fill-opacity="0.7"/>
<circle cx="1546.8" cy="1214.7" r="4.9" fill="#7b1872" fill-opacity="0.7"/>
<circle cx="1450.2" cy="1150.7" r="4.9" fill="#7b1872" fill-opacity="0.7"/>
<circle cx="1681.8" cy="1154.3" r="4.9" fill="#3f8a93" fill-opacity="0.7"/>
<circle cx="1433.0" cy="1215.6" r="4.9" fill="#b09fd4" fill-opacity="0.7"/>
<circle cx="1384.3" cy="1108.9" r="4.9" fill="#7b1872" fill-opacity="0.7"/>
<circle cx="1411.5" cy="1145.8" r="4.9" fill="#7b1872" fill-opacity="0.7"/>
<circle cx="1463.8" cy="1159.8" r="4.9" fill="#3f8a93" fill-opacity="0.7"/>
<circle cx="1458.4" cy="1179.0" r="4.9" fill="#3f8a93" fill-opacity="0.7"/>
<circle cx="1583.6" cy="1033.5" r="4.9" fill="#7b1872" fill-opacity="0.7"/>
<circle cx="1705.8" cy="1066.6" r="4.9" fill="#7b1872" fill-opacity="0.7"/>
<circle cx="1505.0" cy="1205.6" r="4.9" fill="#f9b95c" fill-opacity="0.7"/>
<circle cx="1715.5" cy="1270.2" r="4.9" fill="#3f8a93" fill-opacity="0.7"/>
<circle cx="1443.9" cy="1189.1" r="4.9" fill="#2f4b7c" fill-opacity="0.7"/>
<circle cx="1446.5" cy="1076.7" r="4.9" fill="#7b1872" fill-opacity="0.7"/>
<circle cx="1415.2" cy="1167.5" r="4.9" fill="#7b1872" fill-opacity="0.7"/>
<circle cx="1437.0" cy="1166.0" r="4.9" fill="#2f4b7c" fill-opacity="0.7"/>
<circle cx="1528.8" cy="1232.1" r="4.9" fill="#7b1872" fill-opacity="0.7"/>
<circle cx="1534.2" cy="1272.3" r="4.9" fill="#b09fd4" fill-opacity="0.7"/>
<circle cx="1586.4" cy="993.4" r="4.9" fill="#7b1872" fill-opacity="0.7"/>
<circle cx="1700.9" cy="1351.6" r="4.9" fill="#7b1872" fill-opacity="0.7"/>
<circle cx="1631.1" cy="1134.1" r="4.9" fill="#6ff0d4" fill-opacity="0.7"/>
<circle cx="1675.0" cy="1335.6" r="4.9" fill="#7b1872" fill-opacity="0.7"/>
<circle cx="1725.9" cy="1078.3" r="4.9" fill="#b09fd4" fill-opacity="0.7"/>
<circle cx="1540.6" cy="1225.7" r="4.9" fill="#7b1872" fill-opacity="0.7"/>
<circle cx="1529.3" cy="1207.2" r="4.9" fill="#6ff0d4" fill-opacity="0.7"/>
<circle cx="1662.2" cy="1015.1" r="4.9" fill="#6ff0d4" fill-opacity="0.7"/>
<circle cx="1383.3" cy="1132.0" r="4.9" fill="#7b1872" fill-opacity="0.7"/>
<circle cx="1670.1" cy="1330.7" r="4.9" fill="#7b1872" fill-opacity="0.7"/>
<circle cx="1548.6" cy="1126.8" r="4.9" fill="#7b1872" fill-opacity="0.7"/>
<circle cx="1404.4" cy="1187.2" r="4.9" fill="#f9b95c" fill-opacity="0.7"/>
<circle cx="1526.3" cy="1231.8" r="4.9" fill="#2f4b7c" fill-opacity="0.7"/>
<circle cx="1713.5" cy="1096.3" r="4.9" fill="#2f4b7c" fill-opacity="0.7"/>
<circle cx="1427.6" cy="1183.1" r="4.9" fill="#7b1872" fill-opacity="0.7"/>
<circle cx="1561.6" cy="1200.8" r="4.9" fill="#6cc4a8" fill-opacity="0.7"/>
<circle cx="1457.1" cy="1154.5" r="4.9" fill="#c964cf" fill-opacity="0.7"/>
<circle cx="1673.5" cy="1154.2" r="4.9" fill="#2f4b7c" fill-opacity="0.7"/>
<circle cx="1401.3" cy="1132.3" r="4.9" fill="#7b1872" fill-opacity="0.7"/>
<circle cx="1438.3" cy="1189.2" r="4.9" fill="#7b1872" fill-opacity="0.7"/>
<circle cx="1440.7" cy="1112.9" r="4.9" fill="#2f4b7c" fill-opacity="0.7"/>
<circle cx="1504.3" cy="1167.9" r="4.9" fill="#7b1872" fill-opacity="0.7"/>
<circle cx="1542.6" cy="1096.7" r="4.9" fill="#7b1872" fill-opacity="0.7"/>
<circle cx="1620.2" cy="1084.5" r="4.9" fill="#7b1872" fill-opacity="0.7"/>
<circle cx="1525.6" cy="1281.4" r="4.9" fill="#3f8a93" fill-opacity="0.7"/>
<circle cx="1519.9" cy="1193.5" r="4.9" fill="#b09fd4" fill-opacity="0.7"/>
<circle cx="1656.8" cy="1130.5" r="4.9" fill="#f9b95c" fill-opacity="0.7"/>
<circle cx="1412.8" cy="1177.7" r="4.9" fill="#b09fd4" fill-opacity="0.7"/>
<circle cx="1467.0" cy="1045.6" r="4.9" fill="#2f4b7c" fill-opacity="0.7"/>
<circle cx="1531.8" cy="1001.5" r="4.9" fill="#2f4b7c" fill-opacity="0.7"/>
<circle cx="1489.9" cy="1186.6" r="4.9" fill="#7b1872" fill-opacity="0.7"/>
<circle cx="1588.6" cy="1072.6" r="4.9" fill="#3f8a93" fill-opacity="0.7"/>
<circle cx="1369.8" cy="1154.0" r="4.9" fill="#b09fd4" fill-opacity="0.7"/>
<circle cx="1640.3" cy="980.9" r="4.9" fill="#c964cf" fill-opacity="0.7"/>
<circle cx="1543.7" cy="1077.9" r="4.9" fill="#7b1872" fill-opacity="0.7"/>
<circle cx="1461.1" cy="1184.8" r="4.9" fill="#b09fd4" fill-opacity="0.7"/>
<circle cx="1576.6" cy="992.2" r="4.9" fill="#7b1872" fill-opacity="0.7"/>
<circle cx="1697.3" cy="1082.1" r="4.9" fill="#7b1872" fill-opacity="0.7"/>
<circle cx="1676.3" cy="1289.4" r="4.9" fill="#7b1872" fill-opacity="0.7"/>
<circle cx="1581.0" cy="1238.0" r="4.9" fill="#f9b95c" fill-opacity="0.7"/>
<circle cx="1388.0" cy="1127.2" r="4.9" fill="#6cc4a8" fill-opacity="0.7"/>
<circle cx="1494.7" cy="1228.0" r="4.9" fill="#c964cf" fill-opacity="0.7"/>
<circle cx="1475.0" cy="1195.2" r="4.9" fill="#7b1872" fill-opacity="0.7"/>
<circle cx="1623.0" cy="1065.8" r="4.9" fill="#7b1872" fill-opacity="0.7"/>
<circle cx="1467.1" cy="1171.0" r="4.9" fill="#888888" fill-opacity="0.7"/>
<circle cx="1507.2" cy="992.7" r="4.9" fill="#3f8a93" fill-opacity="0.7"/>
<circle cx="1392.1" cy="1135.4" r="4.9" fill="#7b1872" fill-opacity="0.7"/>
<circle cx="1615.2" cy="1321.4" r="4.9" fill="#6cc4a8" fill-opacity="0.7"/>
<circle cx="1390.9" cy="1139.6" r="4.9" fill="#6ff0d4" fill-opacity="0.7"/>
<circle cx="1463.7" cy="1215.7" r="4.9" fill="#3f8a93" fill-opacity="0.7"/>
<circle cx="1655.2" cy="1101.8" r="4.9" fill="#7b1872" fill-opacity="0.7"/>
<circle cx="1407.7" cy="1147.9" r="4.9" fill="#3f8a93" fill-opacity="0.7"/>
<circle cx="1765.4" cy="1074.1" r="4.9" fill="#c964cf" fill-opacity="0.7"/>
<circle cx="1784.4" cy="1081.5" r="4.9" fill="#7b1872" fill-opacity="0.7"/>
<circle cx="1446.1" cy="1161.2" r="4.9" fill="#c964cf" fill-opacity="0.7"/>
<circle cx="1657.4" cy="1321.2" r="4.9" fill="#b09fd4" fill-opacity="0.7"/>
<circle cx="1759.7" cy="1081.1" r="4.9" fill="#7b1872" fill-opacity="0.7"/>
<circle cx="1554.1" cy="1151.5" r="4.9" fill="#6cc4a8" fill-opacity="0.7"/>
<circle cx="1531.4" cy="1245.3" r="4.9" fill="#7b1872" fill-opacity="0.7"/>
<circle cx="1650.0" cy="1096.7" r="4.9" fill="#7b1872" fill-opacity="0.7"/>
<circle cx="1637.2" cy="1192.3" r="4.9" fill="#7b1872" fill-opacity="0.7"/>
<circle cx="1494.0" cy="1238.1" r="4.9" fill="#b09fd4" fill-opacity="0.7"/>
<circle cx="1586.7" cy="1133.6" r="4.9" fill="#b09fd4" fill-opacity="0.7"/>
<circle cx="1394.2" cy="1152.9" r="4.9" fill="#f9b95c" fill-opacity="0.7"/>
<circle cx="1530.5" cy="1215.4" r="4.9" fill="#7b1872" fill-opacity="0.7"/>
<circle cx="1503.3" cy="1014.2" r="4.9" fill="#7b1872" fill-opacity="0.7"/>
<circle cx="1663.2" cy="1390.6" r="4.9" fill="#2f4b7c" fill-opacity="0.7"/>
<circle cx="1569.9" cy="1204.7" r="4.9" fill="#7b1872" fill-opacity="0.7"/>
<circle cx="1412.8" cy="1155.9" r="4.9" fill="#7b1872" fill-opacity="0.7"/>
<circle cx="1543.8" cy="1209.7" r="4.9" fill="#2f4b7c" fill-opacity="0.7"/>
<circle cx="1722.8" cy="1108.5" r="4.9" fill="#7b1872" fill-opacity="0.7"/>
<circle cx="1459.2" cy="1221.7" r="4.9" fill="#7b1872" fill-opacity="0.7"/>
<circle cx="1420.9" cy="1168.8" r="4.9" fill="#f9b95c" fill-opacity="0.7"/>
<circle cx="1452.0" cy="1168.0" r="4.9" fill="#f9b95c" fill-opacity="0.7"/>
<circle cx="1630.1" cy="1064.2" r="4.9" fill="#c964cf" fill-opacity="0.7"/>
<circle cx="1371.6" cy="1128.0" r="4.9" fill="#3f8a93" fill-opacity="0.7"/>
<circle cx="1517.7" cy="1196.6" r="4.9" fill="#b09fd4" fill-opacity="0.7"/>
<circle cx="1604.7" cy="1242.3" r="4.9" fill="#7b1872" fill-opacity="0.7"/>
<circle cx="1417.9" cy="1180.1" r="4.9" fill="#c964cf" fill-opacity="0.7"/>
<circle cx="1528.7" cy="1209.1" r="4.9" fill="#f9b95c" fill-opacity="0.7"/>
<circle cx="1524.5" cy="1240.1" r="4.9" fill="#6ff0d4" fill-opacity="0.7"/>
<circle cx="1393.7" cy="1114.6" r="4.9" fill="#b09fd4" fill-opacity="0.7"/>
<circle cx="1582.4" cy="1216.6" r="4.9" fill="#c964cf" fill-opacity="0.7"/>
<circle cx="1556.2" cy="1066.7" r="4.9" fill="#3f8a93" fill-opacity="0.7"/>
<circle cx="1380.5" cy="1158.6" r="4.9" fill="#2f4b7c" fill-opacity="0.7"/>
<circle cx="1599.9" cy="1102.1" r="4.9" fill="#7b1872" fill-opacity="0.7"/>
<circle cx="1671.6" cy="1285.2" r="4.9" fill="#7b1872" fill-opacity="0.7"/>
<circle cx="1568.2" cy="1324.3" r="4.9" fill="#7b1872" fill-opacity="0.7"/>
<circle cx="1439.8" cy="1166.2" r="4.9" fill="#3f8a93" fill-opacity="0.7"/>
<circle cx="1546.2" cy="1194.9" r="4.9" fill="#3f8a93" fill-opacity="0.7"/>
<circle cx="1484.9" cy="1106.0" r="4.9" fill="#c964cf" fill-opacity="0.7"/>
<circle cx="1782.5" cy="1152.2" r="4.9" fill="#f9b95c" fill-opacity="0.7"/>
<circle cx="1689.9" cy="1103.0" r="4.9" fill="#7b1872" fill-opacity="0.7"/>
<circle cx="1668.6" cy="1007.3" r="4.9" fill="#7b1872" fill-opacity="0.7"/>
<circle cx="1731.1" cy="1076.1" r="4.9" fill="#7b1872" fill-opacity="0.7"/>
<circle cx="1574.2" cy="1244.8" r="4.9" fill="#6ff0d4" fill-opacity="0.7"/>
<circle cx="1466.2" cy="1168.7" r="4.9" fill="#2f4b7c" fill-opacity="0.7"/>
<circle cx="1444.5" cy="1214.8" r="4.9" fill="#6cc4a8" fill-opacity="0.7"/>
<circle cx="1498.3" cy="1007.2" r="4.9" fill="#7b1872" fill-opacity="0.7"/>
<circle cx="1428.4" cy="1082.1" r="4.9" fill="#b09fd4" fill-opacity="0.7"/>
<circle cx="1799.5" cy="1183.2" r="4.9" fill="#b09fd4" fill-opacity="0.7"/>
<circle cx="1625.7" cy="1060.5" r="4.9" fill="#7b1872" fill-opacity="0.7"/>
<circle cx="1462.3" cy="1131.9" r="4.9" fill="#7b1872" fill-opacity="0.7"/>
<circle cx="1429.2" cy="1144.0" r="4.9" fill="#2f4b7c" fill-opacity="0.7"/>
<circle cx="1568.2" cy="1047.1" r="4.9" fill="#7b1872" fill-opacity="0.7"/>
<circle cx="1601.8" cy="1094.2" r="4.9" fill="#f9b95c" fill-opacity="0.7"/>
<circle cx="1376.5" cy="1149.2" r="4.9" fill="#7b1872" fill-opacity="0.7"/>
<circle cx="1566.8" cy="1023.1" r="4.9" fill="#2f4b7c" fill-opacity="0.7"/>
<circle cx="1691.4" cy="1345.9" r="4.9" fill="#7b1872" fill-opacity="0.7"/>
<circle cx="1594.4" cy="1057.1" r="4.9" fill="#7b1872" fill-opacity="0.7"/>
<circle cx="1365.2" cy="1131.4" r="4.9" fill="#b09fd4" fill-opacity="0.7"/>
<circle cx="1393.4" cy="1175.5" r="4.9" fill="#2f4b7c" fill-opacity="0.7"/>
<circle cx="1548.8" cy="1020.7" r="4.9" fill="#7b1872" fill-opacity="0.7"/>
<circle cx="1721.6" cy="1141.4" r="4.9" fill="#6ff0d4" fill-opacity="0.7"/>
<circle cx="1378.3" cy="1126.1" r="4.9" fill="#b09fd4" fill-opacity="0.7"/>
<circle cx="1563.1" cy="1159.3" r="4.9" fill="#2f4b7c" fill-opacity="0.7"/>
<circle cx="1535.6" cy="1263.5" r="4.9" fill="#7b1872" fill-opacity="0.7"/>
<circle cx="1690.0" cy="1262.6" r="4.9" fill="#c964cf" fill-opacity="0.7"/>
<circle cx="1516.1" cy="1206.0" r="4.9" fill="#f9b95c" fill-opacity="0.7"/>
<circle cx="1672.0" cy="1091.6" r="4.9" fill="#7b1872" fill-opacity="0.7"/>
<circle cx="1460.0" cy="1161.0" r="4.9" fill="#7b1872" fill-opacity="0.7"/>
<circle cx="1484.5" cy="1198.4" r="4.9" fill="#7b1872" fill-opacity="0.7"/>
<circle cx="1391.5" cy="1123.8" r="4.9" fill="#3f8a93" fill-opacity="0.7"/>
<circle cx="1384.0" cy="1132.4" r="4.9" fill="#b09fd4" fill-opacity="0.7"/>
<circle cx="1484.9" cy="1052.2" r="4.9" fill="#7b1872" fill-opacity="0.7"/>
<circle cx="1609.7" cy="1216.8" r="4.9" fill="#b09fd4" fill-opacity="0.7"/>
<circle cx="1636.1" cy="1249.4" r="4.9" fill="#7b1872" fill-opacity="0.7"/>
<circle cx="1582.5" cy="1205.3" r="4.9" fill="#6ff0d4" fill-opacity="0.7"/>
<circle cx="1497.7" cy="1206.6" r="4.9" fill="#7b1872" fill-opacity="0.7"/>
<circle cx="1517.3" cy="1154.8" r="4.9" fill="#3f8a93" fill-opacity="0.7"/>
<circle cx="1654.0" cy="1032.8" r="4.9" fill="#7b1872" fill-opacity="0.7"/>
<circle cx="1620.4" cy="1301.0" r="4.9" fill="#b09fd4" fill-opacity="0.7"/>
<circle cx="1493.4" cy="1056.0" r="4.9" fill="#888888" fill-opacity="0.7"/>
<circle cx="1565.5" cy="1177.1" r="4.9" fill="#7b1872" fill-opacity="0.7"/>
<circle cx="1554.7" cy="1256.7" r="4.9" fill="#f9b95c" fill-opacity="0.7"/>
<circle cx="1676.2" cy="1289.7" r="4.9" fill="#7b1872" fill-opacity="0.7"/>
<circle cx="1620.3" cy="1052.8" r="4.9" fill="#7b1872" fill-opacity="0.7"/>
<circle cx="1572.5" cy="995.1" r="4.9" fill="#2f4b7c" fill-opacity="0.7"/>
<circle cx="1581.7" cy="1104.3" r="4.9" fill="#c964cf" fill-opacity="0.7"/>
<circle cx="1580.0" cy="1001.8" r="4.9" fill="#f9b95c" fill-opacity="0.7"/>
<circle cx="1677.9" cy="1345.5" r="4.9" fill="#2f4b7c" fill-opacity="0.7"/>
<circle cx="1496.6" cy="1223.2" r="4.9" fill="#c964cf" fill-opacity="0.7"/>
<circle cx="1692.1" cy="1146.1" r="4.9" fill="#7b1872" fill-opacity="0.7"/>
<circle cx="1505.5" cy="1160.4" r="4.9" fill="#f9b95c" fill-opacity="0.7"/>
<circle cx="1697.9" cy="1003.1" r="4.9" fill="#7b1872" fill-opacity="0.7"/>
<circle cx="1542.1" cy="1234.8" r="4.9" fill="#888888" fill-opacity="0.7"/>
<circle cx="1522.9" cy="1229.6" r="4.9" fill="#7b1872" fill-opacity="0.7"/>
<circle cx="1539.1" cy="1178.4" r="4.9" fill="#7b1872" fill-opacity="0.7"/>
<circle cx="1581.2" cy="1041.9" r="4.9" fill="#7b1872" fill-opacity="0.7"/>
<circle cx="1591.7" cy="1141.8" r="4.9" fill="#2f4b7c" fill-opacity="0.7"/>
<circle cx="1420.2" cy="1140.3" r="4.9" fill="#3f8a93" fill-opacity="0.7"/>
<circle cx="1616.1" cy="1296.3" r="4.9" fill="#2f4b7c" fill-opacity="0.7"/>
<circle cx="1606.7" cy="1235.8" r="4.9" fill="#3f8a93" fill-opacity="0.7"/>
<circle cx="1653.4" cy="1345.7" r="4.9" fill="#3f8a93" fill-opacity="0.7"/>
<circle cx="1582.1" cy="1031.1" r="4.9" fill="#c964cf" fill-opacity="0.7"/>
<circle cx="1821.6" cy="1229.1" r="4.9" fill="#6cc4a8" fill-opacity="0.7"/>
<circle cx="1549.3" cy="1103.4" r="4.9" fill="#7b1872" fill-opacity="0.7"/>
<circle cx="1472.6" cy="1223.9" r="4.9" fill="#3f8a93" fill-opacity="0.7"/>
<circle cx="1712.1" cy="1041.3" r="4.9" fill="#7b1872" fill-opacity="0.7"/>
<circle cx="1701.5" cy="1321.7" r="4.9" fill="#7b1872" fill-opacity="0.7"/>
<circle cx="1569.9" cy="1273.1" r="4.9" fill="#c964cf" fill-opacity="0.7"/>
<circle cx="1664.9" cy="1029.7" r="4.9" fill="#c964cf" fill-opacity="0.7"/>
<circle cx="1501.7" cy="1128.4" r="4.9" fill="#7b1872" fill-opacity="0.7"/>
<circle cx="1502.7" cy="1231.4" r="4.9" fill="#7b1872" fill-opacity="0.7"/>
<circle cx="1414.6" cy="1177.2" r="4.9" fill="#7b1872" fill-opacity="0.7"/>
<circle cx="1526.6" cy="1201.8" r="4.9" fill="#7b1872" fill-opacity="0.7"/>
<circle cx="1621.5" cy="1346.5" r="4.9" fill="#888888" fill-opacity="0.7"/>
<circle cx="1440.8" cy="1157.0" r="4.9" fill="#3f8a93" fill-opacity="0.7"/>
<circle cx="1679.0" cy="988.3" r="4.9" fill="#c964cf" fill-opacity="0.7"/>
<circle cx="1408.5" cy="1187.0" r="4.9" fill="#c964cf" fill-opacity="0.7"/>
<circle cx="1397.0" cy="1143.4" r="4.9" fill="#7b1872" fill-opacity="0.7"/>
<circle cx="1716.4" cy="1294.5" r="4.9" fill="#7b1872" fill-opacity="0.7"/>
<circle cx="1474.0" cy="1168.6" r="4.9" fill="#f9b95c" fill-opacity="0.7"/>
<circle cx="1472.5" cy="1104.4" r="4.9" fill="#c964cf" fill-opacity="0.7"/>
<circle cx="1678.8" cy="1364.1" r="4.9" fill="#7b1872" fill-opacity="0.7"/>
<circle cx="1616.1" cy="1239.2" r="4.9" fill="#c964cf" fill-opacity="0.7"/>
<circle cx="1398.6" cy="1144.7" r="4.9" fill="#f9b95c" fill-opacity="0.7"/>
<circle cx="1670.0" cy="1361.7" r="4.9" fill="#f9b95c" fill-opacity="0.7"/>
<circle cx="1411.9" cy="1145.5" r="4.9" fill="#3f8a93" fill-opacity="0.7"/>
<circle cx="1434.7" cy="1195.6" r="4.9" fill="#f9b95c" fill-opacity="0.7"/>
<circle cx="1645.0" cy="1090.3" r="4.9" fill="#7b1872" fill-opacity="0.7"/>
<circle cx="1568.7" cy="1200.5" r="4.9" fill="#7b1872" fill-opacity="0.7"/>
<circle cx="1836.1" cy="1104.6" r="4.9" fill="#2f4b7c" fill-opacity="0.7"/>
<circle cx="1615.0" cy="1280.7" r="4.9" fill="#2f4b7c" fill-opacity="0.7"/>
<circle cx="1420.3" cy="1168.9" r="4.9" fill="#f9b95c" fill-opacity="0.7"/>
<circle cx="1629.5" cy="1119.3" r="4.9" fill="#7b1872" fill-opacity="0.7"/>
<circle cx="1649.7" cy="1323.7" r="4.9" fill="#c964cf" fill-opacity="0.7"/>
<circle cx="1612.1" cy="1080.2" r="4.9" fill="#c964cf" fill-opacity="0.7"/>
<circle cx="1473.9" cy="1217.9" r="4.9" fill="#7b1872" fill-opacity="0.7"/>
<circle cx="1455.3" cy="1196.3" r="4.9" fill="#888888" fill-opacity="0.7"/>
<circle cx="1574.5" cy="1232.7" r="4.9" fill="#7b1872" fill-opacity="0.7"/>
<circle cx="1548.5" cy="1210.6" r="4.9" fill="#7b1872" fill-opacity="0.7"/>
<circle cx="1637.1" cy="1045.2" r="4.9" fill="#7b1872" fill-opacity="0.7"/>
<circle cx="1407.2" cy="1169.2" r="4.9" fill="#3f8a93" fill-opacity="0.7"/>
<circle cx="1578.9" cy="1097.4" r="4.9" fill="#3f8a93" fill-opacity="0.7"/>
<circle cx="1700.4" cy="1322.4" r="4.9" fill="#c964cf" fill-opacity="0.7"/>
<circle cx="1480.9" cy="1208.8" r="4.9" fill="#6ff0d4" fill-opacity="0.7"/>
<circle cx="1417.0" cy="1185.1" r="4.9" fill="#3f8a93" fill-opacity="0.7"/>
<circle cx="1648.9" cy="1296.8" r="4.9" fill="#7b1872" fill-opacity="0.7"/>
<circle cx="1517.4" cy="1198.7" r="4.9" fill="#3f8a93" fill-opacity="0.7"/>
<circle cx="1396.1" cy="1168.6" r="4.9" fill="#7b1872" fill-opacity="0.7"/>
<circle cx="1486.3" cy="1208.2" r="4.9" fill="#7b1872" fill-opacity="0.7"/>
<circle cx="1393.7" cy="1101.9" r="4.9" fill="#3f8a93" fill-opacity="0.7"/>
<circle cx="1590.2" cy="1146.2" r="4.9" fill="#7b1872" fill-opacity="0.7"/>
<circle cx="1618.2" cy="1095.5" r="4.9" fill="#888888" fill-opacity="0.7"/>
<circle cx="1640.3" cy="1277.4" r="4.9" fill="#c964cf" fill-opacity="0.7"/>
<circle cx="1470.3" cy="1182.4" r="4.9" fill="#2f4b7c" fill-opacity="0.7"/>
<circle cx="1682.8" cy="1315.9" r="4.9" fill="#7b1872" fill-opacity="0.7"/>
<circle cx="1530.7" cy="1058.4" r="4.9" fill="#7b1872" fill-opacity="0.7"/>
<circle cx="1394.1" cy="1147.6" r="4.9" fill="#2f4b7c" fill-opacity="0.7"/>
<circle cx="1487.1" cy="1198.1" r="4.9" fill="#7b1872" fill-opacity="0.7"/>
<circle cx="1787.3" cy="1060.8" r="4.9" fill="#7b1872" fill-opacity="0.7"/>
<circle cx="1559.3" cy="1205.5" r="4.9" fill="#c964cf" fill-opacity="0.7"/>
<circle cx="1535.5" cy="1048.7" r="4.9" fill="#6ff0d4" fill-opacity="0.7"/>
<circle cx="1521.2" cy="1164.2" r="4.9" fill="#7b1872" fill-opacity="0.7"/>
<circle cx="1616.1" cy="980.2" r="4.9" fill="#7b1872" fill-opacity="0.7"/>
<circle cx="1725.2" cy="1013.0" r="4.9" fill="#6cc4a8" fill-opacity="0.7"/>
<circle cx="1626.2" cy="1077.3" r="4.9" fill="#f9b95c" fill-opacity="0.7"/>
<circle cx="1422.3" cy="1120.7" r="4.9" fill="#3f8a93" fill-opacity="0.7"/>
<circle cx="1471.3" cy="1139.9" r="4.9" fill="#2f4b7c" fill-opacity="0.7"/>
<circle cx="1700.7" cy="1246.1" r="4.9" fill="#7b1872" fill-opacity="0.7"/>
<circle cx="1500.6" cy="1144.5" r="4.9" fill="#3f8a93" fill-opacity="0.7"/>
<circle cx="1464.4" cy="1173.2" r="4.9" fill="#7b1872" fill-opacity="0.7"/>
<circle cx="1605.5" cy="1170.6" r="4.9" fill="#7b1872" fill-opacity="0.7"/>
<circle cx="1568.2" cy="1247.9" r="4.9" fill="#f9b95c" fill-opacity="0.7"/>
<circle cx="1578.6" cy="1013.4" r="4.9" fill="#7b1872" fill-opacity="0.7"/>
<circle cx="1662.7" cy="1137.3" r="4.9" fill="#f9b95c" fill-opacity="0.7"/>
<circle cx="1696.2" cy="1255.7" r="4.9" fill="#c964cf" fill-opacity="0.7"/>
<circle cx="1375.6" cy="1157.5" r="4.9" fill="#2f4b7c" fill-opacity="0.7"/>
<circle cx="1774.7" cy="1250.9" r="4.9" fill="#2f4b7c" fill-opacity="0.7"/>
<circle cx="1548.9" cy="1120.8" r="4.9" fill="#7b1872" fill-opacity="0.7"/>
<circle cx="1524.2" cy="1184.4" r="4.9" fill="#7b1872" fill-opacity="0.7"/>
<circle cx="1545.3" cy="1215.1" r="4.9" fill="#2f4b7c" fill-opacity="0.7"/>
<circle cx="1417.0" cy="1136.1" r="4.9" fill="#7b1872" fill-opacity="0.7"/>
<circle cx="1412.7" cy="1102.0" r="4.9" fill="#f9b95c" fill-opacity="0.7"/>
<circle cx="1772.5" cy="1203.1" r="4.9" fill="#7b1872" fill-opacity="0.7"/>
<circle cx="1426.2" cy="1197.1" r="4.9" fill="#f9b95c" fill-opacity="0.7"/>
<circle cx="1648.7" cy="1322.5" r="4.9" fill="#7b1872" fill-opacity="0.7"/>
<circle cx="1652.5" cy="1157.1" r="4.9" fill="#f9b95c" fill-opacity="0.7"/>
<circle cx="1468.2" cy="1185.6" r="4.9" fill="#c964cf" fill-opacity="0.7"/>
<circle cx="1854.1" cy="1137.8" r="4.9" fill="#3f8a93" fill-opacity="0.7"/>
<circle cx="1689.1" cy="1144.1" r="4.9" fill="#6ff0d4" fill-opacity="0.7"/>
<circle cx="1392.7" cy="1103.8" r="4.9" fill="#f9b95c" fill-opacity="0.7"/>
<circle cx="1466.2" cy="1059.9" r="4.9" fill="#f9b95c" fill-opacity="0.7"/>
<circle cx="1526.7" cy="1068.8" r="4.9" fill="#6cc4a8" fill-opacity="0.7"/>
<circle cx="1423.0" cy="1195.9" r="4.9" fill="#888888" fill-opacity="0.7"/>
<circle cx="1705.4" cy="986.7" r="4.9" fill="#7b1872" fill-opacity="0.7"/>
<circle cx="1444.7" cy="1192.5" r="4.9" fill="#f9b95c" fill-opacity="0.7"/>
<circle cx="1655.0" cy="1069.2" r="4.9" fill="#f9b95c" fill-opacity="0.7"/>
<circle cx="1684.8" cy="1347.4" r="4.9" fill="#2f4b7c" fill-opacity="0.7"/>
<circle cx="1605.3" cy="1046.9" r="4.9" fill="#7b1872" fill-opacity="0.7"/>
<circle cx="1457.9" cy="1194.2" r="4.9" fill="#6cc4a8" fill-opacity="0.7"/>
<circle cx="1584.6" cy="1039.5" r="4.9" fill="#7b1872" fill-opacity="0.7"/>
<circle cx="1586.7" cy="1292.2" r="4.9" fill="#888888" fill-opacity="0.7"/>
<circle cx="1481.9" cy="1253.3" r="4.9" fill="#7b1872" fill-opacity="0.7"/>
<circle cx="1537.4" cy="1020.2" r="4.9" fill="#7b1872" fill-opacity="0.7"/>
<circle cx="1642.8" cy="1089.9" r="4.9" fill="#7b1872" fill-opacity="0.7"/>
<circle cx="1697.1" cy="1328.0" r="4.9" fill="#c964cf" fill-opacity="0.7"/>
<circle cx="1537.5" cy="1201.3" r="4.9" fill="#7b1872" fill-opacity="0.7"/>
<circle cx="1490.8" cy="1220.5" r="4.9" fill="#f9b95c" fill-opacity="0.7"/>
<circle cx="1458.6" cy="1091.0" r="4.9" fill="#2f4b7c" fill-opacity="0.7"/>
<circle cx="1702.5" cy="1191.7" r="4.9" fill="#c964cf" fill-opacity="0.7"/>
<circle cx="1551.7" cy="1213.4" r="4.9" fill="#2f4b7c" fill-opacity="0.7"/>
<circle cx="1597.7" cy="1251.0" r="4.9" fill="#7b1872" fill-opacity="0.7"/>
<circle cx="1564.2" cy="1289.5" r="4.9" fill="#7b1872" fill-opacity="0.7"/>
<circle cx="1415.6" cy="1151.7" r="4.9" fill="#7b1872" fill-opacity="0.7"/>
<circle cx="1651.6" cy="1051.1" r="4.9" fill="#7b1872" fill-opacity="0.7"/>
<circle cx="1679.5" cy="1060.1" r="4.9" fill="#3f8a93" fill-opacity="0.7"/>
<circle cx="1674.3" cy="1144.6" r="4.9" fill="#b09fd4" fill-opacity="0.7"/>
<circle cx="1422.4" cy="1166.0" r="4.9" fill="#7b1872" fill-opacity="0.7"/>
<circle cx="1578.0" cy="1326.2" r="4.9" fill="#7b1872" fill-opacity="0.7"/>
<circle cx="1549.3" cy="1254.9" r="4.9" fill="#c964cf" fill-opacity="0.7"/>
<circle cx="1705.7" cy="1245.4" r="4.9" fill="#7b1872" fill-opacity="0.7"/>
<circle cx="1566.1" cy="1039.2" r="4.9" fill="#b09fd4" fill-opacity="0.7"/>
<circle cx="1501.4" cy="1202.0" r="4.9" fill="#888888" fill-opacity="0.7"/>
<circle cx="1437.5" cy="1147.9" r="4.9" fill="#2f4b7c" fill-opacity="0.7"/>
<circle cx="1387.0" cy="1124.1" r="4.9" fill="#6cc4a8" fill-opacity="0.7"/>
<circle cx="1502.2" cy="1110.8" r="4.9" fill="#7b1872" fill-opacity="0.7"/>
<circle cx="1378.6" cy="1176.8" r="4.9" fill="#6ff0d4" fill-opacity="0.7"/>
<circle cx="1637.1" cy="1228.6" r="4.9" fill="#6cc4a8" fill-opacity="0.7"/>
<circle cx="1498.3" cy="1201.0" r="4.9" fill="#f9b95c" fill-opacity="0.7"/>
<circle cx="1669.9" cy="1319.7" r="4.9" fill="#6ff0d4" fill-opacity="0.7"/>
<circle cx="1403.6" cy="1133.0" r="4.9" fill="#f9b95c" fill-opacity="0.7"/>
<circle cx="1617.5" cy="1249.0" r="4.9" fill="#7b1872" fill-opacity="0.7"/>
<circle cx="1427.6" cy="1146.9" r="4.9" fill="#7b1872" fill-opacity="0.7"/>
<circle cx="1523.4" cy="1025.1" r="4.9" fill="#7b1872" fill-opacity="0.7"/>
<circle cx="1527.5" cy="1172.1" r="4.9" fill="#f9b95c" fill-opacity="0.7"/>
<circle cx="1528.2" cy="1009.8" r="4.9" fill="#7b1872" fill-opacity="0.7"/>
<circle cx="1494.8" cy="1196.3" r="4.9" fill="#3f8a93" fill-opacity="0.7"/>
<circle cx="1509.5" cy="1222.4" r="4.9" fill="#3f8a93" fill-opacity="0.7"/>
<circle cx="1637.0" cy="1051.0" r="4.9" fill="#f9b95c" fill-opacity="0.7"/>
<circle cx="1730.6" cy="1150.7" r="4.9" fill="#7b1872" fill-opacity="0.7"/>
<circle cx="1656.0" cy="1147.0" r="4.9" fill="#7b1872" fill-opacity="0.7"/>
<circle cx="1547.3" cy="1072.3" r="4.9" fill="#b09fd4" fill-opacity="0.7"/>
<circle cx="1613.6" cy="1018.1" r="4.9" fill="#c964cf" fill-opacity="0.7"/>
<circle cx="1564.3" cy="1183.4" r="4.9" fill="#c964cf" fill-opacity="0.7"/>
<circle cx="1622.3" cy="1032.8" r="4.9" fill="#7b1872" fill-opacity="0.7"/>
<circle cx="1605.7" cy="1111.4" r="4.9" fill="#f9b95c" fill-opacity="0.7"/>
<circle cx="1466.3" cy="1199.3" r="4.9" fill="#c964cf" fill-opacity="0.7"/>
<circle cx="1495.0" cy="1194.7" r="4.9" fill="#f9b95c" fill-opacity="0.7"/>
<circle cx="1360.9" cy="1165.9" r="4.9" fill="#7b1872" fill-opacity="0.7"/>
<circle cx="1553.9" cy="1308.9" r="4.9" fill="#c964cf" fill-opacity="0.7"/>
<circle cx="1632.8" cy="1034.6" r="4.9" fill="#6cc4a8" fill-opacity="0.7"/>
<circle cx="1367.5" cy="1146.5" r="4.9" fill="#2f4b7c" fill-opacity="0.7"/>
<circle cx="1536.5" cy="1214.5" r="4.9" fill="#7b1872" fill-opacity="0.7"/>
<circle cx="1783.8" cy="1180.7" r="4.9" fill="#3f8a93" fill-opacity="0.7"/>
<circle cx="1566.8" cy="1066.3" r="4.9" fill="#7b1872" fill-opacity="0.7"/>
<circle cx="1745.1" cy="1135.3" r="4.9" fill="#7b1872" fill-opacity="0.7"/>
<circle cx="1434.5" cy="1137.5" r="4.9" fill="#7b1872" fill-opacity="0.7"/>
<circle cx="1608.3" cy="1045.1" r="4.9" fill="#c964cf" fill-opacity="0.7"/>
<circle cx="1557.0" cy="1214.5" r="4.9" fill="#6cc4a8" fill-opacity="0.7"/>
<circle cx="1607.9" cy="1140.4" r="4.9" fill="#7b1872" fill-opacity="0.7"/>
<circle cx="1584.8" cy="1053.6" r="4.9" fill="#f9b95c" fill-opacity="0.7"/>
<circle cx="1498.7" cy="1053.6" r="4.9" fill="#7b1872" fill-opacity="0.7"/>
<circle cx="1497.9" cy="1202.6" r="4.9" fill="#c964cf" fill-opacity="0.7"/>
<circle cx="1813.2" cy="1109.1" r="4.9" fill="#888888" fill-opacity="0.7"/>
<circle cx="1567.7" cy="1253.6" r="4.9" fill="#3f8a93" fill-opacity="0.7"/>
<circle cx="1544.4" cy="1039.9" r="4.9" fill="#f9b95c" fill-opacity="0.7"/>
<circle cx="1633.8" cy="1085.2" r="4.9" fill="#2f4b7c" fill-opacity="0.7"/>
<circle cx="1514.6" cy="1208.3" r="4.9" fill="#f9b95c" fill-opacity="0.7"/>
<circle cx="1711.9" cy="1021.4" r="4.9" fill="#c964cf" fill-opacity="0.7"/>
<circle cx="1499.4" cy="1202.4" r="4.9" fill="#6ff0d4" fill-opacity="0.7"/>
<circle cx="1524.2" cy="1041.3" r="4.9" fill="#f9b95c" fill-opacity="0.7"/>
<circle cx="1599.5" cy="1033.3" r="4.9" fill="#2f4b7c" fill-opacity="0.7"/>
<circle cx="1782.9" cy="1126.3" r="4.9" fill="#7b1872" fill-opacity="0.7"/>
<circle cx="1422.7" cy="1179.3" r="4.9" fill="#2f4b7c" fill-opacity="0.7"/>
<circle cx="1561.9" cy="1254.7" r="4.9" fill="#7b1872" fill-opacity="0.7"/>
<circle cx="1371.7" cy="1153.1" r="4.9" fill="#2f4b7c" fill-opacity="0.7"/>
<circle cx="1664.2" cy="1329.5" r="4.9" fill="#7b1872" fill-opacity="0.7"/>
<circle cx="1470.4" cy="1195.1" r="4.9" fill="#7b1872" fill-opacity="0.7"/>
<circle cx="1406.8" cy="1180.3" r="4.9" fill="#2f4b7c" fill-opacity="0.7"/>
<circle cx="1501.1" cy="1092.7" r="4.9" fill="#7b1872" fill-opacity="0.7"/>
<circle cx="1564.1" cy="1135.7" r="4.9" fill="#b09fd4" fill-opacity="0.7"/>
<circle cx="1505.4" cy="1200.2" r="4.9" fill="#f9b95c" fill-opacity="0.7"/>
<circle cx="1692.4" cy="1088.6" r="4.9" fill="#c964cf" fill-opacity="0.7"/>
<circle cx="1543.4" cy="1292.0" r="4.9" fill="#b09fd4" fill-opacity="0.7"/>
<circle cx="1512.5" cy="1203.7" r="4.9" fill="#2f4b7c" fill-opacity="0.7"/>
<circle cx="1748.8" cy="1137.5" r="4.9" fill="#7b1872" fill-opacity="0.7"/>
<circle cx="1489.2" cy="1127.2" r="4.9" fill="#f9b95c" fill-opacity="0.7"/>
<circle cx="1483.4" cy="1054.3" r="4.9" fill="#f9b95c" fill-opacity="0.7"/>
<circle cx="1378.7" cy="1168.2" r="4.9" fill="#7b1872" fill-opacity="0.7"/>
<circle cx="1446.4" cy="1179.9" r="4.9" fill="#f9b95c" fill-opacity="0.7"/>
<circle cx="1501.3" cy="1199.7" r="4.9" fill="#6ff0d4" fill-opacity="0.7"/>
<circle cx="1490.0" cy="1253.6" r="4.9" fill="#f9b95c" fill-opacity="0.7"/>
<circle cx="1577.9" cy="1064.6" r="4.9" fill="#f9b95c" fill-opacity="0.7"/>
<circle cx="1564.3" cy="1037.5" r="4.9" fill="#7b1872" fill-opacity="0.7"/>
<circle cx="1618.5" cy="1274.2" r="4.9" fill="#c964cf" fill-opacity="0.7"/>
<circle cx="1666.6" cy="1355.3" r="4.9" fill="#2f4b7c" fill-opacity="0.7"/>
<circle cx="1438.5" cy="1149.6" r="4.9" fill="#3f8a93" fill-opacity="0.7"/>
<circle cx="1495.8" cy="1186.0" r="4.9" fill="#7b1872" fill-opacity="0.7"/>
<circle cx="1587.6" cy="1051.5" r="4.9" fill="#888888" fill-opacity="0.7"/>
<circle cx="1486.9" cy="1101.8" r="4.9" fill="#7b1872" fill-opacity="0.7"/>
<circle cx="1619.1" cy="1041.9" r="4.9" fill="#2f4b7c" fill-opacity="0.7"/>
<circle cx="1631.3" cy="1185.6" r="4.9" fill="#c964cf" fill-opacity="0.7"/>
<circle cx="1683.1" cy="1374.7" r="4.9" fill="#7b1872" fill-opacity="0.7"/>
<circle cx="1711.1" cy="1221.8" r="4.9" fill="#c964cf" fill-opacity="0.7"/>
<circle cx="1575.6" cy="1238.7" r="4.9" fill="#7b1872" fill-opacity="0.7"/>
<circle cx="1487.4" cy="1181.3" r="4.9" fill="#b09fd4" fill-opacity="0.7"/>
<circle cx="1445.0" cy="1206.8" r="4.9" fill="#7b1872" fill-opacity="0.7"/>
<circle cx="1510.4" cy="1233.9" r="4.9" fill="#2f4b7c" fill-opacity="0.7"/>
<circle cx="1418.2" cy="1120.7" r="4.9" fill="#7b1872" fill-opacity="0.7"/>
<circle cx="1513.8" cy="990.9" r="4.9" fill="#7b1872" fill-opacity="0.7"/>
<circle cx="1656.3" cy="1256.2" r="4.9" fill="#7b1872" fill-opacity="0.7"/>
<circle cx="1556.6" cy="1187.2" r="4.9" fill="#7b1872" fill-opacity="0.7"/>
<circle cx="1396.0" cy="1155.4" r="4.9" fill="#c964cf" fill-opacity="0.7"/>
<circle cx="1580.3" cy="1281.6" r="4.9" fill="#7b1872" fill-opacity="0.7"/>
<circle cx="1518.9" cy="1225.3" r="4.9" fill="#f9b95c" fill-opacity="0.7"/>
<circle cx="1417.6" cy="1160.4" r="4.9" fill="#6cc4a8" fill-opacity="0.7"/>
<circle cx="1414.8" cy="1192.0" r="4.9" fill="#2f4b7c" fill-opacity="0.7"/>
<circle cx="1551.4" cy="1250.2" r="4.9" fill="#b09fd4" fill-opacity="0.7"/>
<circle cx="1401.5" cy="1147.2" r="4.9" fill="#2f4b7c" fill-opacity="0.7"/>
<circle cx="1524.2" cy="1209.0" r="4.9" fill="#3f8a93" fill-opacity="0.7"/>
<circle cx="1375.1" cy="1154.5" r="4.9" fill="#f9b95c" fill-opacity="0.7"/>
<circle cx="1379.5" cy="1165.8" r="4.9" fill="#f9b95c" fill-opacity="0.7"/>
<circle cx="1522.3" cy="1190.9" r="4.9" fill="#3f8a93" fill-opacity="0.7"/>
<circle cx="1616.8" cy="1288.8" r="4.9" fill="#7b1872" fill-opacity="0.7"/>
<circle cx="1674.5" cy="1113.9" r="4.9" fill="#7b1872" fill-opacity="0.7"/>
<circle cx="1542.1" cy="1214.6" r="4.9" fill="#c964cf" fill-opacity="0.7"/>
<circle cx="1422.5" cy="1156.6" r="4.9" fill="#7b1872" fill-opacity="0.7"/>
<circle cx="1645.6" cy="1310.1" r="4.9" fill="#b09fd4" fill-opacity="0.7"/>
<circle cx="1789.9" cy="1097.5" r="4.9" fill="#3f8a93" fill-opacity="0.7"/>
<circle cx="1516.1" cy="1209.7" r="4.9" fill="#7b1872" fill-opacity="0.7"/>
<circle cx="1471.8" cy="1186.5" r="4.9" fill="#c964cf" fill-opacity="0.7"/>
<circle cx="1571.9" cy="1072.9" r="4.9" fill="#7b1872" fill-opacity="0.7"/>
<circle cx="1498.0" cy="1238.5" r="4.9" fill="#3f8a93" fill-opacity="0.7"/>
<circle cx="1509.6" cy="1104.6" r="4.9" fill="#6ff0d4" fill-opacity="0.7"/>
<circle cx="1512.7" cy="1161.2" r="4.9" fill="#7b1872" fill-opacity="0.7"/>
<circle cx="1594.2" cy="1243.5" r="4.9" fill="#c964cf" fill-opacity="0.7"/>
<circle cx="1393.4" cy="1117.7" r="4.9" fill="#c964cf" fill-opacity="0.7"/>
<circle cx="1764.8" cy="1157.2" r="4.9" fill="#7b1872" fill-opacity="0.7"/>
<circle cx="1421.1" cy="1168.4" r="4.9" fill="#3f8a93" fill-opacity="0.7"/>
<circle cx="1433.7" cy="1201.0" r="4.9" fill="#f9b95c" fill-opacity="0.7"/>
<circle cx="1471.6" cy="1211.3" r="4.9" fill="#3f8a93" fill-opacity="0.7"/>
<circle cx="1536.6" cy="1223.7" r="4.9" fill="#2f4b7c" fill-opacity="0.7"/>
<circle cx="1665.5" cy="1368.6" r="4.9" fill="#7b1872" fill-opacity="0.7"/>
<circle cx="1603.7" cy="1147.8" r="4.9" fill="#7b1872" fill-opacity="0.7"/>
<circle cx="1520.2" cy="1027.5" r="4.9" fill="#7b1872" fill-opacity="0.7"/>
<circle cx="1614.8" cy="1168.9" r="4.9" fill="#7b1872" fill-opacity="0.7"/>
<circle cx="1778.4" cy="1084.9" r="4.9" fill="#f9b95c" fill-opacity="0.7"/>
<circle cx="1542.1" cy="1211.8" r="4.9" fill="#c964cf" fill-opacity="0.7"/>
<circle cx="1672.1" cy="1280.9" r="4.9" fill="#c964cf" fill-opacity="0.7"/>
<circle cx="1593.8" cy="1242.4" r="4.9" fill="#b09fd4" fill-opacity="0.7"/>
<circle cx="1560.9" cy="1089.6" r="4.9" fill="#7b1872" fill-opacity="0.7"/>
<circle cx="1643.4" cy="1349.5" r="4.9" fill="#7b1872" fill-opacity="0.7"/>
<circle cx="1610.7" cy="1250.2" r="4.9" fill="#3f8a93" fill-opacity="0.7"/>
<circle cx="1413.1" cy="1165.7" r="4.9" fill="#3f8a93" fill-opacity="0.7"/>
<circle cx="1583.8" cy="1335.0" r="4.9" fill="#c964cf" fill-opacity="0.7"/>
<circle cx="1558.8" cy="1288.9" r="4.9" fill="#7b1872" fill-opacity="0.7"/>
<circle cx="1377.8" cy="1103.3" r="4.9" fill="#b09fd4" fill-opacity="0.7"/>
<circle cx="1516.7" cy="1168.9" r="4.9" fill="#f9b95c" fill-opacity="0.7"/>
<circle cx="1560.8" cy="1201.2" r="4.9" fill="#7b1872" fill-opacity="0.7"/>
<circle cx="1520.3" cy="993.0" r="4.9" fill="#7b1872" fill-opacity="0.7"/>
<circle cx="1635.2" cy="1255.1" r="4.9" fill="#7b1872" fill-opacity="0.7"/>
<circle cx="1385.2" cy="1153.6" r="4.9" fill="#6ff0d4" fill-opacity="0.7"/>
<circle cx="1433.0" cy="1173.8" r="4.9" fill="#f9b95c" fill-opacity="0.7"/>
<circle cx="1394.0" cy="1175.5" r="4.9" fill="#c964cf" fill-opacity="0.7"/>
<circle cx="1624.4" cy="1167.8" r="4.9" fill="#7b1872" fill-opacity="0.7"/>
<circle cx="1666.1" cy="1008.9" r="4.9" fill="#f9b95c" fill-opacity="0.7"/>
<circle cx="1595.9" cy="1300.2" r="4.9" fill="#7b1872" fill-opacity="0.7"/>
<circle cx="1511.8" cy="1068.2" r="4.9" fill="#3f8a93" fill-opacity="0.7"/>
<circle cx="1667.7" cy="1040.1" r="4.9" fill="#b09fd4" fill-opacity="0.7"/>
<circle cx="1524.5" cy="1247.7" r="4.9" fill="#c964cf" fill-opacity="0.7"/>
<circle cx="1370.9" cy="1169.8" r="4.9" fill="#b09fd4" fill-opacity="0.7"/>
<circle cx="1630.3" cy="1388.5" r="4.9" fill="#7b1872" fill-opacity="0.7"/>
<circle cx="1372.8" cy="1138.9" r="4.9" fill="#c964cf" fill-opacity="0.7"/>
<circle cx="1426.7" cy="1215.6" r="4.9" fill="#2f4b7c" fill-opacity="0.7"/>
<circle cx="1392.9" cy="1186.5" r="4.9" fill="#f9b95c" fill-opacity="0.7"/>
<circle cx="1619.3" cy="1057.9" r="4.9" fill="#7b1872" fill-opacity="0.7"/>
<circle cx="1562.0" cy="1141.4" r="4.9" fill="#7b1872" fill-opacity="0.7"/>
<circle cx="1614.4" cy="1050.0" r="4.9" fill="#7b1872" fill-opacity="0.7"/>
<circle cx="1634.1" cy="1167.4" r="4.9" fill="#2f4b7c" fill-opacity="0.7"/>
<circle cx="1660.3" cy="1373.4" r="4.9" fill="#f9b95c" fill-opacity="0.7"/>
<circle cx="1458.6" cy="1144.1" r="4.9" fill="#f9b95c" fill-opacity="0.7"/>
<circle cx="1773.2" cy="961.4" r="4.9" fill="#7b1872" fill-opacity="0.7"/>
<circle cx="1880.3" cy="1096.2" r="4.9" fill="#7b1872" fill-opacity="0.7"/>
<circle cx="1854.4" cy="1176.1" r="4.9" fill="#7b1872" fill-opacity="0.7"/>
<circle cx="1806.0" cy="1218.3" r="4.9" fill="#7b1872" fill-opacity="0.7"/>
<circle cx="1811.9" cy="1271.8" r="4.9" fill="#7b1872" fill-opacity="0.7"/>
<circle cx="1766.3" cy="1258.0" r="4.9" fill="#f9b95c" fill-opacity="0.7"/>
<circle cx="1720.6" cy="1414.6" r="4.9" fill="#7b1872" fill-opacity="0.7"/>
<circle cx="1661.9" cy="1406.6" r="4.9" fill="#c964cf" fill-opacity="0.7"/>
<circle cx="1689.5" cy="1382.4" r="4.9" fill="#7b1872" fill-opacity="0.7"/>
<circle cx="1738.6" cy="1353.8" r="4.9" fill="#3f8a93" fill-opacity="0.7"/>
<circle cx="1337.7" cy="1110.1" r="4.9" fill="#2f4b7c" fill-opacity="0.7"/>
<circle cx="1363.6" cy="1100.0" r="4.9" fill="#c964cf" fill-opacity="0.7"/>
<circle cx="1454.5" cy="1071.4" r="4.9" fill="#7b1872" fill-opacity="0.7"/>
<circle cx="1688.5" cy="967.0" r="4.9" fill="#2f4b7c" fill-opacity="0.7"/>
<circle cx="1664.3" cy="955.6" r="4.9" fill="#2f4b7c" fill-opacity="0.7"/>
<g opacity="0.7"><line x1="1556.1" y1="1171.8" x2="1823.7" y2="788.6" stroke="#000" stroke-width="4.3"/><polygon points="1838.0,768.1 1830.5,795.8 1814.5,784.7" fill="#000"/></g>
<g opacity="0.7"><line x1="1556.1" y1="1171.8" x2="1814.9" y2="1065.6" stroke="#000" stroke-width="4.3"/><polygon points="1838.0,1056.1 1816.7,1075.4 1809.3,1057.3" fill="#000"/></g>
<g opacity="0.7"><line x1="1556.1" y1="1171.8" x2="1921.1" y2="1397.6" stroke="#000" stroke-width="4.3"/><polygon points="1942.4,1410.7 1914.3,1404.8 1924.6,1388.2" fill="#000"/></g>
<g opacity="0.7"><line x1="1556.1" y1="1171.8" x2="1622.9" y2="1357.8" stroke="#000" stroke-width="4.3"/><polygon points="1631.4,1381.3 1613.1,1359.2 1631.4,1352.6" fill="#000"/></g>
<g opacity="0.7"><line x1="1556.1" y1="1171.8" x2="1478.3" y2="1240.4" stroke="#000" stroke-width="4.3"/><polygon points="1459.5,1256.9 1473.3,1231.7 1486.2,1246.4" fill="#000"/></g>
<g opacity="0.7"><line x1="1556.1" y1="1171.8" x2="1452.2" y2="1215.0" stroke="#000" stroke-width="4.3"/><polygon points="1429.1,1224.6 1450.3,1205.2 1457.8,1223.2" fill="#000"/></g>
<g opacity="0.7"><line x1="1556.1" y1="1171.8" x2="1422.0" y2="1127.2" stroke="#000" stroke-width="4.3"/><polygon points="1398.3,1119.3 1427.0,1118.6 1420.8,1137.1" fill="#000"/></g>
<g opacity="0.7"><line x1="1556.1" y1="1171.8" x2="1410.3" y2="1106.5" stroke="#000" stroke-width="4.3"/><polygon points="1387.5,1096.3 1416.1,1098.4 1408.2,1116.2" fill="#000"/></g>
<g opacity="0.7"><line x1="1556.1" y1="1171.8" x2="1399.5" y2="1043.5" stroke="#000" stroke-width="4.3"/><polygon points="1380.2,1027.7 1407.3,1037.3 1394.9,1052.4" fill="#000"/></g>
<g opacity="0.7"><line x1="1556.1" y1="1171.8" x2="1360.9" y2="1043.8" stroke="#000" stroke-width="4.3"/><polygon points="1340.0,1030.1 1367.9,1036.8 1357.2,1053.1" fill="#000"/></g>
<text x="1806.0" y="758.4" font-size="28.3" fill="#000">Yeasty</text>
<text x="1846.4" y="1059.5" font-size="28.3" fill="#000">Bread</text>
<text x="1903.2" y="1435.6" font-size="28.3" fill="#000">Yoghurt</text>
<text x="1590.7" y="1402.3" font-size="28.3" fill="#000">Apple</text>
<text x="1342.5" y="1275.0" font-size="28.3" fill="#000">Porridge</text>
<text x="1370.4" y="1234.9" font-size="28.3" fill="#000">Hay</text>
<text x="1281.2" y="1133.0" font-size="28.3" fill="#000">Alcoholic</text>
<text x="1263.6" y="1093.8" font-size="28.3" fill="#000">Lactic acid</text>
<text x="1363.0" y="1009.6" font-size="28.3" fill="#000">Whole grain</text>
<text x="1264.1" y="1022.8" font-size="28.3" fill="#000">Vinegar</text>
<line x1="1306.9" y1="748.0" x2="1306.9" y2="1447.8" stroke="#000" stroke-width="2"/>
<line x1="1305.9" y1="1446.8" x2="1972.5" y2="1446.8" stroke="#000" stroke-width="2"/>
<text x="1331.5" y="1471.0" font-size="28.5" fill="#262626" text-anchor="middle">-0.4</text>
<text x="1448.5" y="1471.0" font-size="28.5" fill="#262626" text-anchor="middle">-0.2</text>
<text x="1564.2" y="1471.0" font-size="28.5" fill="#262626" text-anchor="middle">0.0</text>
<text x="1681.0" y="1471.0" font-size="28.5" fill="#262626" text-anchor="middle">0.2</text>
<text x="1798.0" y="1471.0" font-size="28.5" fill="#262626" text-anchor="middle">0.4</text>
<text x="1914.0" y="1471.0" font-size="28.5" fill="#262626" text-anchor="middle">0.6</text>
<text x="1304.2" y="759.5" font-size="28.5" fill="#262626" text-anchor="end">0.8</text>
<text x="1304.2" y="864.3" font-size="28.5" fill="#262626" text-anchor="end">0.6</text>
<text x="1304.2" y="968.6" font-size="28.5" fill="#262626" text-anchor="end">0.4</text>
<text x="1304.2" y="1073.9" font-size="28.5" fill="#262626" text-anchor="end">0.2</text>
<text x="1304.2" y="1177.7" font-size="28.5" fill="#262626" text-anchor="end">0.0</text>
<text x="1304.2" y="1283.0" font-size="28.5" fill="#262626" text-anchor="end">-0.2</text>
<text x="1304.2" y="1387.3" font-size="28.5" fill="#262626" text-anchor="end">-0.4</text>
<text x="1589.2" y="1497.2" font-size="28.3" fill="#262626">PC1 (7.02%)</text>
<text font-size="28.3" fill="#262626" text-anchor="middle" transform="translate(1255.5,1073.0) rotate(-90)">PC2 (6.70%)</text>
<rect x="1322.4" y="730.4" width="348.2" height="221.4" fill="#fff" stroke="#ccc" stroke-width="1.3" rx="3" fill-opacity="0.8"/>
<circle cx="1338.5" cy="751.0" r="5.4" fill="#7b1872" fill-opacity="0.7"/>
<text x="1366.5" y="756.0" font-size="25.7" fill="#000" class="dj" letter-spacing="1.81" xml:space="preserve">Wheat</text>
<circle cx="1338.5" cy="774.3" r="5.4" fill="#2f4b7c" fill-opacity="0.7"/>
<text x="1366.5" y="779.3" font-size="25.7" fill="#000" class="dj" letter-spacing="1.06" xml:space="preserve">Rye</text>
<circle cx="1338.5" cy="797.5" r="5.4" fill="#888888" fill-opacity="0.7"/>
<text x="1366.5" y="802.5" font-size="25.7" fill="#000" class="dj" letter-spacing="1.74" xml:space="preserve">Other</text>
<circle cx="1338.5" cy="820.8" r="5.4" fill="#b09fd4" fill-opacity="0.7"/>
<text x="1366.5" y="825.8" font-size="25.7" fill="#000" class="dj" letter-spacing="1.80" xml:space="preserve">Wholemeal wheat</text>
<circle cx="1338.5" cy="844.1" r="5.4" fill="#c964cf" fill-opacity="0.7"/>
<text x="1366.5" y="849.1" font-size="25.7" fill="#000" class="dj" letter-spacing="1.59" xml:space="preserve">Self-composed mix</text>
<circle cx="1338.5" cy="867.4" r="5.4" fill="#f9b95c" fill-opacity="0.7"/>
<text x="1366.5" y="872.4" font-size="25.7" fill="#000" class="dj" letter-spacing="1.73" xml:space="preserve">Wholemeal rye</text>
<circle cx="1338.5" cy="890.6" r="5.4" fill="#6cc4a8" fill-opacity="0.7"/>
<text x="1366.5" y="895.6" font-size="25.7" fill="#000" class="dj" letter-spacing="1.67" xml:space="preserve">Wholemeal spelt</text>
<circle cx="1338.5" cy="913.9" r="5.4" fill="#3f8a93" fill-opacity="0.7"/>
<text x="1366.5" y="918.9" font-size="25.7" fill="#000" class="dj" letter-spacing="1.74" xml:space="preserve">Semi-wholemeal wheat</text>
<circle cx="1338.5" cy="937.2" r="5.4" fill="#6ff0d4" fill-opacity="0.7"/>
<text x="1366.5" y="942.2" font-size="25.7" fill="#000" class="dj" letter-spacing="1.42" xml:space="preserve">Spelt</text>
<text x="1181.8" y="716.7" font-size="57" fill="#000" font-weight="bold">d</text>
</g>
<g id="pe">
<line x1="401.1" y1="1679.8" x2="401.1" y2="2179.3" stroke="#b0b0b0" stroke-width="1.2"/>
<line x1="467.1" y1="1679.8" x2="467.1" y2="2179.3" stroke="#b0b0b0" stroke-width="1.2"/>
<line x1="533.1" y1="1679.8" x2="533.1" y2="2179.3" stroke="#b0b0b0" stroke-width="1.2"/>
<line x1="599.0" y1="1679.8" x2="599.0" y2="2179.3" stroke="#b0b0b0" stroke-width="1.2"/>
<line x1="665.0" y1="1679.8" x2="665.0" y2="2179.3" stroke="#b0b0b0" stroke-width="1.2"/>
<line x1="730.9" y1="1679.8" x2="730.9" y2="2179.3" stroke="#b0b0b0" stroke-width="1.2"/>
<line x1="796.9" y1="1679.8" x2="796.9" y2="2179.3" stroke="#b0b0b0" stroke-width="1.2"/>
<line x1="862.8" y1="1679.8" x2="862.8" y2="2179.3" stroke="#b0b0b0" stroke-width="1.2"/>
<line x1="377.6" y1="1702.1" x2="886.6" y2="1702.1" stroke="#b0b0b0" stroke-width="1.2"/>
<line x1="377.6" y1="1752.4" x2="886.6" y2="1752.4" stroke="#b0b0b0" stroke-width="1.2"/>
<line x1="377.6" y1="1803.1" x2="886.6" y2="1803.1" stroke="#b0b0b0" stroke-width="1.2"/>
<line x1="377.6" y1="1853.5" x2="886.6" y2="1853.5" stroke="#b0b0b0" stroke-width="1.2"/>
<line x1="377.6" y1="1903.9" x2="886.6" y2="1903.9" stroke="#b0b0b0" stroke-width="1.2"/>
<line x1="377.6" y1="1954.3" x2="886.6" y2="1954.3" stroke="#b0b0b0" stroke-width="1.2"/>
<line x1="377.6" y1="2004.7" x2="886.6" y2="2004.7" stroke="#b0b0b0" stroke-width="1.2"/>
<line x1="377.6" y1="2054.7" x2="886.6" y2="2054.7" stroke="#b0b0b0" stroke-width="1.2"/>
<line x1="377.6" y1="2105.1" x2="886.6" y2="2105.1" stroke="#b0b0b0" stroke-width="1.2"/>
<line x1="377.6" y1="2155.5" x2="886.6" y2="2155.5" stroke="#b0b0b0" stroke-width="1.2"/>
<circle cx="401.1" cy="1702.1" r="12.7" fill="#c964cf" stroke="#55f6fa" stroke-width="4.1"/>
<line x1="386.3" y1="1702.1" x2="415.9" y2="1702.1" stroke="#888" stroke-width="1" opacity="0.35"/>
<line x1="401.1" y1="1687.3" x2="401.1" y2="1716.9" stroke="#888" stroke-width="1" opacity="0.35"/>
<circle cx="467.1" cy="1702.1" r="9.5" fill="#c964cf" fill-opacity="0.3"/>
<circle cx="533.1" cy="1702.1" r="9.8" fill="#c964cf" fill-opacity="0.3"/>
<circle cx="599.0" cy="1702.1" r="6.4" fill="#2f4b7c" fill-opacity="0.3"/>
<circle cx="665.0" cy="1702.1" r="13.1" fill="#2f4b7c" fill-opacity="0.3"/>
<circle cx="730.9" cy="1702.1" r="10.1" fill="#2f4b7c" fill-opacity="0.3"/>
<circle cx="796.9" cy="1702.1" r="4.6" fill="#c964cf" fill-opacity="0.3"/>
<circle cx="862.8" cy="1702.1" r="5.5" fill="#c964cf" fill-opacity="0.3"/>
<circle cx="401.1" cy="1752.4" r="13.4" fill="#2f4b7c" stroke="#55f6fa" stroke-width="3.8"/>
<line x1="385.8" y1="1752.4" x2="416.4" y2="1752.4" stroke="#888" stroke-width="1" opacity="0.35"/>
<line x1="401.1" y1="1737.1" x2="401.1" y2="1767.7" stroke="#888" stroke-width="1" opacity="0.35"/>
<circle cx="467.1" cy="1752.4" r="8.9" fill="#2f4b7c" fill-opacity="0.3"/>
<circle cx="533.1" cy="1752.4" r="10.4" fill="#2f4b7c" fill-opacity="0.3"/>
<circle cx="599.0" cy="1752.4" r="7.0" fill="#c964cf" fill-opacity="0.3"/>
<circle cx="665.0" cy="1752.4" r="13.7" fill="#2f4b7c" fill-opacity="0.3"/>
<circle cx="730.9" cy="1752.4" r="12.2" fill="#2f4b7c" fill-opacity="0.3"/>
<circle cx="796.9" cy="1752.4" r="8.5" fill="#2f4b7c" fill-opacity="0.3"/>
<circle cx="862.8" cy="1752.4" r="11.0" fill="#2f4b7c" fill-opacity="0.3"/>
<circle cx="401.1" cy="1803.1" r="4.0" fill="#2f4b7c" fill-opacity="0.3"/>
<circle cx="467.1" cy="1803.1" r="8.2" fill="#2f4b7c" fill-opacity="0.3"/>
<circle cx="533.1" cy="1803.1" r="7.0" fill="#2f4b7c" fill-opacity="0.3"/>
<circle cx="599.0" cy="1803.1" r="4.0" fill="#c964cf" fill-opacity="0.3"/>
<circle cx="665.0" cy="1803.1" r="4.6" fill="#2f4b7c" fill-opacity="0.3"/>
<circle cx="730.9" cy="1803.1" r="10.7" fill="#2f4b7c" fill-opacity="0.3"/>
<circle cx="796.9" cy="1803.1" r="11.3" fill="#c964cf" fill-opacity="0.3"/>
<circle cx="862.8" cy="1803.1" r="6.7" fill="#c964cf" fill-opacity="0.3"/>
<circle cx="401.1" cy="1853.5" r="4.9" fill="#2f4b7c" fill-opacity="0.3"/>
<circle cx="467.1" cy="1853.5" r="4.9" fill="#c964cf" fill-opacity="0.3"/>
<circle cx="533.1" cy="1853.5" r="11.3" fill="#2f4b7c" fill-opacity="0.3"/>
<circle cx="599.0" cy="1853.5" r="9.5" fill="#2f4b7c" fill-opacity="0.3"/>
<circle cx="665.0" cy="1853.5" r="9.5" fill="#2f4b7c" fill-opacity="0.3"/>
<circle cx="730.9" cy="1853.5" r="6.4" fill="#2f4b7c" fill-opacity="0.3"/>
<circle cx="796.9" cy="1853.5" r="12.8" fill="#c964cf" fill-opacity="0.3"/>
<circle cx="862.8" cy="1853.5" r="7.9" fill="#2f4b7c" fill-opacity="0.3"/>
<circle cx="401.1" cy="1903.9" r="5.2" fill="#2f4b7c" fill-opacity="0.3"/>
<circle cx="467.1" cy="1903.9" r="7.9" fill="#c964cf" fill-opacity="0.3"/>
<circle cx="533.1" cy="1903.9" r="10.7" fill="#2f4b7c" fill-opacity="0.3"/>
<circle cx="599.0" cy="1903.9" r="8.9" fill="#c964cf" fill-opacity="0.3"/>
<circle cx="665.0" cy="1903.9" r="7.3" fill="#c964cf" fill-opacity="0.3"/>
<circle cx="730.9" cy="1903.9" r="10.1" fill="#2f4b7c" fill-opacity="0.3"/>
<circle cx="796.9" cy="1903.9" r="7.0" fill="#2f4b7c" fill-opacity="0.3"/>
<circle cx="862.8" cy="1903.9" r="6.1" fill="#c964cf" fill-opacity="0.3"/>
<circle cx="401.1" cy="1954.3" r="8.2" fill="#c964cf" fill-opacity="0.3"/>
<circle cx="467.1" cy="1954.3" r="8.2" fill="#c964cf" fill-opacity="0.3"/>
<circle cx="533.1" cy="1954.3" r="10.1" fill="#2f4b7c" fill-opacity="0.3"/>
<circle cx="599.0" cy="1954.3" r="9.8" fill="#c964cf" fill-opacity="0.3"/>
<circle cx="665.0" cy="1954.3" r="9.8" fill="#2f4b7c" fill-opacity="0.3"/>
<circle cx="730.9" cy="1954.3" r="7.0" fill="#2f4b7c" fill-opacity="0.3"/>
<circle cx="796.9" cy="1954.3" r="9.8" fill="#c964cf" fill-opacity="0.3"/>
<circle cx="862.8" cy="1954.3" r="12.2" fill="#c964cf" fill-opacity="0.3"/>
<circle cx="401.1" cy="2004.7" r="7.3" fill="#2f4b7c" fill-opacity="0.3"/>
<circle cx="467.1" cy="2004.7" r="9.5" fill="#2f4b7c" fill-opacity="0.3"/>
<circle cx="533.1" cy="2004.7" r="7.9" fill="#2f4b7c" fill-opacity="0.3"/>
<circle cx="599.0" cy="2004.7" r="10.4" fill="#c964cf" fill-opacity="0.3"/>
<circle cx="665.0" cy="2004.7" r="12.2" fill="#c964cf" fill-opacity="0.3"/>
<circle cx="730.9" cy="2004.7" r="8.2" fill="#c964cf" fill-opacity="0.3"/>
<circle cx="796.9" cy="2004.7" r="11.0" fill="#2f4b7c" fill-opacity="0.3"/>
<circle cx="862.8" cy="2004.7" r="8.5" fill="#c964cf" fill-opacity="0.3"/>
<circle cx="401.1" cy="2054.7" r="4.0" fill="#c964cf" fill-opacity="0.3"/>
<circle cx="467.1" cy="2054.7" r="10.7" fill="#2f4b7c" fill-opacity="0.3"/>
<circle cx="533.1" cy="2054.7" r="8.2" fill="#2f4b7c" fill-opacity="0.3"/>
<circle cx="599.0" cy="2054.7" r="6.1" fill="#2f4b7c" fill-opacity="0.3"/>
<circle cx="665.0" cy="2054.7" r="4.0" fill="#c964cf" fill-opacity="0.3"/>
<circle cx="730.9" cy="2054.7" r="6.7" fill="#2f4b7c" fill-opacity="0.3"/>
<circle cx="796.9" cy="2054.7" r="9.2" fill="#2f4b7c" fill-opacity="0.3"/>
<circle cx="862.8" cy="2054.7" r="12.5" fill="#2f4b7c" fill-opacity="0.3"/>
<circle cx="401.1" cy="2105.1" r="12.8" fill="#2f4b7c" fill-opacity="0.3"/>
<circle cx="467.1" cy="2105.1" r="12.2" fill="#2f4b7c" stroke="#55f6fa" stroke-width="3.7"/>
<line x1="453.1" y1="2105.1" x2="481.1" y2="2105.1" stroke="#888" stroke-width="1" opacity="0.35"/>
<line x1="467.1" y1="2091.1" x2="467.1" y2="2119.1" stroke="#888" stroke-width="1" opacity="0.35"/>
<circle cx="533.1" cy="2105.1" r="13.4" fill="#2f4b7c" fill-opacity="0.3"/>
<circle cx="599.0" cy="2105.1" r="4.6" fill="#c964cf" fill-opacity="0.3"/>
<circle cx="665.0" cy="2105.1" r="7.6" fill="#c964cf" fill-opacity="0.3"/>
<circle cx="730.9" cy="2105.1" r="5.8" fill="#c964cf" fill-opacity="0.3"/>
<circle cx="796.9" cy="2105.1" r="9.5" fill="#c964cf" fill-opacity="0.3"/>
<circle cx="862.8" cy="2105.1" r="10.4" fill="#c964cf" fill-opacity="0.3"/>
<circle cx="401.1" cy="2155.5" r="11.0" fill="#2f4b7c" fill-opacity="0.3"/>
<circle cx="467.1" cy="2155.5" r="9.5" fill="#2f4b7c" fill-opacity="0.3"/>
<circle cx="533.1" cy="2155.5" r="12.2" fill="#2f4b7c" fill-opacity="0.3"/>
<circle cx="599.0" cy="2155.5" r="9.8" fill="#2f4b7c" fill-opacity="0.3"/>
<circle cx="665.0" cy="2155.5" r="10.4" fill="#2f4b7c" fill-opacity="0.3"/>
<circle cx="730.9" cy="2155.5" r="8.9" fill="#2f4b7c" fill-opacity="0.3"/>
<circle cx="796.9" cy="2155.5" r="7.0" fill="#c964cf" fill-opacity="0.3"/>
<circle cx="862.8" cy="2155.5" r="15.1" fill="#c964cf" stroke="#55f6fa" stroke-width="3.4"/>
<line x1="846.0" y1="2155.5" x2="879.6" y2="2155.5" stroke="#888" stroke-width="1" opacity="0.35"/>
<line x1="862.8" y1="2138.7" x2="862.8" y2="2172.3" stroke="#888" stroke-width="1" opacity="0.35"/>
<rect x="377.6" y="1679.8" width="509.0" height="499.5" fill="none" stroke="#000" stroke-width="1.6"/>
<line x1="401.1" y1="2179.3" x2="401.1" y2="2186.0" stroke="#000" stroke-width="1.6"/>
<line x1="467.1" y1="2179.3" x2="467.1" y2="2186.0" stroke="#000" stroke-width="1.6"/>
<line x1="533.1" y1="2179.3" x2="533.1" y2="2186.0" stroke="#000" stroke-width="1.6"/>
<line x1="599.0" y1="2179.3" x2="599.0" y2="2186.0" stroke="#000" stroke-width="1.6"/>
<line x1="665.0" y1="2179.3" x2="665.0" y2="2186.0" stroke="#000" stroke-width="1.6"/>
<line x1="730.9" y1="2179.3" x2="730.9" y2="2186.0" stroke="#000" stroke-width="1.6"/>
<line x1="796.9" y1="2179.3" x2="796.9" y2="2186.0" stroke="#000" stroke-width="1.6"/>
<line x1="862.8" y1="2179.3" x2="862.8" y2="2186.0" stroke="#000" stroke-width="1.6"/>
<line x1="370.9" y1="1702.1" x2="377.6" y2="1702.1" stroke="#000" stroke-width="1.6"/>
<line x1="370.9" y1="1752.4" x2="377.6" y2="1752.4" stroke="#000" stroke-width="1.6"/>
<line x1="370.9" y1="1803.1" x2="377.6" y2="1803.1" stroke="#000" stroke-width="1.6"/>
<line x1="370.9" y1="1853.5" x2="377.6" y2="1853.5" stroke="#000" stroke-width="1.6"/>
<line x1="370.9" y1="1903.9" x2="377.6" y2="1903.9" stroke="#000" stroke-width="1.6"/>
<line x1="370.9" y1="1954.3" x2="377.6" y2="1954.3" stroke="#000" stroke-width="1.6"/>
<line x1="370.9" y1="2004.7" x2="377.6" y2="2004.7" stroke="#000" stroke-width="1.6"/>
<line x1="370.9" y1="2054.7" x2="377.6" y2="2054.7" stroke="#000" stroke-width="1.6"/>
<line x1="370.9" y1="2105.1" x2="377.6" y2="2105.1" stroke="#000" stroke-width="1.6"/>
<line x1="370.9" y1="2155.5" x2="377.6" y2="2155.5" stroke="#000" stroke-width="1.6"/>
<text x="300.6" y="1714.8" font-size="30" fill="#000" class="dj" letter-spacing="1.34" xml:space="preserve">Sour</text>
<text x="230.4" y="1757.2" font-size="30" fill="#000" class="dj" letter-spacing="1.77" xml:space="preserve">Chemical</text>
<text x="271.5" y="1807.6" font-size="30" fill="#000" class="dj" letter-spacing="1.92" xml:space="preserve">Earthy</text>
<text x="283.2" y="1857.4" font-size="30" fill="#000" class="dj" letter-spacing="1.91" xml:space="preserve">Fruity</text>
<text x="287.2" y="1907.9" font-size="30" fill="#000" class="dj" letter-spacing="2.54" xml:space="preserve">Nutty</text>
<text x="249.6" y="1958.0" font-size="30" fill="#000" class="dj" letter-spacing="1.65" xml:space="preserve">Toasted</text>
<text x="181.1" y="2008.5" font-size="30" fill="#000" class="dj" letter-spacing="1.52" xml:space="preserve">Grain/Cereal</text>
<text x="265.7" y="2058.6" font-size="30" fill="#000" class="dj" letter-spacing="1.74" xml:space="preserve">Veggie</text>
<text x="205.7" y="2109.4" font-size="30" fill="#000" class="dj" letter-spacing="2.10" xml:space="preserve">Fermented</text>
<text x="120.3" y="2159.5" font-size="30" fill="#000" class="dj" letter-spacing="2.06" xml:space="preserve">Fermented dairy</text>
<text x="-135.3" y="0" font-size="30" fill="#000" class="dj" letter-spacing="1.21" transform="translate(410.1,2200.0) rotate(-45)" xml:space="preserve">TTA (lab)</text>
<text x="-216.2" y="0" font-size="30" fill="#000" class="dj" letter-spacing="1.95" transform="translate(478.1,2195.0) rotate(-45)" xml:space="preserve">Feeding temp.</text>
<text x="-207.4" y="0" font-size="30" fill="#000" class="dj" letter-spacing="1.91" transform="translate(542.1,2196.0) rotate(-45)" xml:space="preserve">Bread density</text>
<text x="-179.0" y="0" font-size="30" fill="#000" class="dj" letter-spacing="1.96" transform="translate(600.0,2196.0) rotate(-45)" xml:space="preserve">Dough yield</text>
<text x="-353.9" y="0" font-size="30" fill="#000" class="dj" letter-spacing="2.19" transform="translate(666.0,2200.0) rotate(-45)" xml:space="preserve">Sourdough pH (citizen)</text>
<text x="-139.1" y="0" font-size="30" fill="#000" class="dj" letter-spacing="1.65" transform="translate(743.9,2199.0) rotate(-45)" xml:space="preserve">Bread pH</text>
<text x="-195.9" y="0" font-size="30" fill="#000" class="dj" letter-spacing="1.96" transform="translate(802.9,2194.0) rotate(-45)" xml:space="preserve">Feeding time</text>
<text x="-212.8" y="0" font-size="30" fill="#000" class="dj" letter-spacing="1.68" transform="translate(871.8,2196.0) rotate(-45)" xml:space="preserve">Backslop freq.</text>
<path d="M473.2,1663.7 L473.2,1608.7 L536.7,1608.7 L536.7,1663.7M409.7,1663.7 L409.7,1603.2 L505.0,1603.2 L505.0,1608.7M663.7,1663.7 L663.7,1618.2 L727.3,1618.2 L727.3,1663.7M600.2,1663.7 L600.2,1598.6 L695.5,1598.6 L695.5,1618.2M457.3,1603.2 L457.3,1578.8 L647.9,1578.8 L647.9,1598.6M790.8,1663.7 L790.8,1574.5 L854.3,1574.5 L854.3,1663.7M552.6,1578.8 L552.6,1561.4 L822.5,1561.4 L822.5,1574.5" stroke="#000" stroke-width="2.9" fill="none" stroke-linejoin="miter" stroke-linecap="square"/>
<path d="M121.1,1704.4 L43.9,1704.4 L43.9,1754.2 L121.1,1754.2M121.1,1804.4 L52.1,1804.4 L52.1,1854.2 L121.1,1854.2M121.1,1904.3 L67.7,1904.3 L67.7,1953.8 L121.1,1953.8M121.1,2004.2 L75.8,2004.2 L75.8,2053.7 L121.1,2053.7M67.7,1929.0 L62.5,1929.0 L62.5,2028.0 L75.8,2028.0M52.1,1829.4 L45.6,1829.4 L45.6,1978.5 L62.5,1978.5M43.9,1730.0 L32.6,1730.0 L32.6,1903.6 L45.6,1903.6M32.6,1816.4 L23.4,1816.4 L23.4,2103.2 L121.1,2103.2M23.4,1959.6 L18.6,1959.6 L18.6,2153.3 L121.1,2153.3" stroke="#000" stroke-width="2.9" fill="none" stroke-linejoin="miter" stroke-linecap="square"/>
<text x="112.3" y="1559.2" font-size="57" fill="#000" font-weight="bold">e</text>
</g>
<g id="pf">
<line x1="1424.8" y1="1679.2" x2="1424.8" y2="2178.4" stroke="#b0b0b0" stroke-width="1.2"/>
<line x1="1501.8" y1="1679.2" x2="1501.8" y2="2178.4" stroke="#b0b0b0" stroke-width="1.2"/>
<line x1="1578.7" y1="1679.2" x2="1578.7" y2="2178.4" stroke="#b0b0b0" stroke-width="1.2"/>
<line x1="1655.6" y1="1679.2" x2="1655.6" y2="2178.4" stroke="#b0b0b0" stroke-width="1.2"/>
<line x1="1732.6" y1="1679.2" x2="1732.6" y2="2178.4" stroke="#b0b0b0" stroke-width="1.2"/>
<line x1="1809.5" y1="1679.2" x2="1809.5" y2="2178.4" stroke="#b0b0b0" stroke-width="1.2"/>
<line x1="1886.5" y1="1679.2" x2="1886.5" y2="2178.4" stroke="#b0b0b0" stroke-width="1.2"/>
<line x1="1401.6" y1="1701.8" x2="1910.6" y2="1701.8" stroke="#b0b0b0" stroke-width="1.2"/>
<line x1="1401.6" y1="1752.1" x2="1910.6" y2="1752.1" stroke="#b0b0b0" stroke-width="1.2"/>
<line x1="1401.6" y1="1802.5" x2="1910.6" y2="1802.5" stroke="#b0b0b0" stroke-width="1.2"/>
<line x1="1401.6" y1="1853.2" x2="1910.6" y2="1853.2" stroke="#b0b0b0" stroke-width="1.2"/>
<line x1="1401.6" y1="1903.6" x2="1910.6" y2="1903.6" stroke="#b0b0b0" stroke-width="1.2"/>
<line x1="1401.6" y1="1954.0" x2="1910.6" y2="1954.0" stroke="#b0b0b0" stroke-width="1.2"/>
<line x1="1401.6" y1="2004.0" x2="1910.6" y2="2004.0" stroke="#b0b0b0" stroke-width="1.2"/>
<line x1="1401.6" y1="2054.1" x2="1910.6" y2="2054.1" stroke="#b0b0b0" stroke-width="1.2"/>
<line x1="1401.6" y1="2104.5" x2="1910.6" y2="2104.5" stroke="#b0b0b0" stroke-width="1.2"/>
<line x1="1401.6" y1="2154.9" x2="1910.6" y2="2154.9" stroke="#b0b0b0" stroke-width="1.2"/>
<circle cx="1424.8" cy="1701.8" r="8.2" fill="#2f4b7c" fill-opacity="0.3"/>
<circle cx="1501.8" cy="1701.8" r="10.7" fill="#c964cf" fill-opacity="0.3"/>
<circle cx="1578.7" cy="1701.8" r="13.0" fill="#c964cf" stroke="#55f6fa" stroke-width="4.0"/>
<line x1="1563.7" y1="1701.8" x2="1593.7" y2="1701.8" stroke="#888" stroke-width="1" opacity="0.35"/>
<line x1="1578.7" y1="1686.8" x2="1578.7" y2="1716.8" stroke="#888" stroke-width="1" opacity="0.35"/>
<circle cx="1655.6" cy="1701.8" r="9.5" fill="#c964cf" fill-opacity="0.3"/>
<circle cx="1732.6" cy="1701.8" r="9.8" fill="#c964cf" fill-opacity="0.3"/>
<circle cx="1809.5" cy="1701.8" r="8.5" fill="#2f4b7c" fill-opacity="0.3"/>
<circle cx="1886.5" cy="1701.8" r="11.6" fill="#2f4b7c" fill-opacity="0.3"/>
<circle cx="1424.8" cy="1752.1" r="4.6" fill="#2f4b7c" fill-opacity="0.3"/>
<circle cx="1501.8" cy="1752.1" r="6.4" fill="#2f4b7c" fill-opacity="0.3"/>
<circle cx="1578.7" cy="1752.1" r="12.5" fill="#c964cf" fill-opacity="0.3"/>
<circle cx="1655.6" cy="1752.1" r="11.3" fill="#c964cf" fill-opacity="0.3"/>
<circle cx="1732.6" cy="1752.1" r="6.7" fill="#2f4b7c" fill-opacity="0.3"/>
<circle cx="1809.5" cy="1752.1" r="9.8" fill="#2f4b7c" fill-opacity="0.3"/>
<circle cx="1886.5" cy="1752.1" r="9.2" fill="#2f4b7c" fill-opacity="0.3"/>
<circle cx="1424.8" cy="1802.5" r="11.0" fill="#c964cf" fill-opacity="0.3"/>
<circle cx="1501.8" cy="1802.5" r="7.3" fill="#2f4b7c" fill-opacity="0.3"/>
<circle cx="1578.7" cy="1802.5" r="9.2" fill="#2f4b7c" fill-opacity="0.3"/>
<circle cx="1655.6" cy="1802.5" r="11.0" fill="#2f4b7c" fill-opacity="0.3"/>
<circle cx="1732.6" cy="1802.5" r="9.5" fill="#2f4b7c" fill-opacity="0.3"/>
<circle cx="1809.5" cy="1802.5" r="10.7" fill="#2f4b7c" fill-opacity="0.3"/>
<circle cx="1886.5" cy="1802.5" r="4.3" fill="#c964cf" fill-opacity="0.3"/>
<circle cx="1424.8" cy="1853.2" r="12.5" fill="#c964cf" fill-opacity="0.3"/>
<circle cx="1501.8" cy="1853.2" r="7.6" fill="#2f4b7c" fill-opacity="0.3"/>
<circle cx="1578.7" cy="1853.2" r="7.3" fill="#c964cf" fill-opacity="0.3"/>
<circle cx="1655.6" cy="1853.2" r="7.0" fill="#2f4b7c" fill-opacity="0.3"/>
<circle cx="1732.6" cy="1853.2" r="10.1" fill="#2f4b7c" fill-opacity="0.3"/>
<circle cx="1809.5" cy="1853.2" r="9.8" fill="#c964cf" fill-opacity="0.3"/>
<circle cx="1886.5" cy="1853.2" r="5.2" fill="#2f4b7c" fill-opacity="0.3"/>
<circle cx="1424.8" cy="1903.6" r="13.7" fill="#c964cf" fill-opacity="0.3"/>
<circle cx="1501.8" cy="1903.6" r="10.1" fill="#2f4b7c" fill-opacity="0.3"/>
<circle cx="1578.7" cy="1903.6" r="8.9" fill="#c964cf" fill-opacity="0.3"/>
<circle cx="1655.6" cy="1903.6" r="5.5" fill="#c964cf" fill-opacity="0.3"/>
<circle cx="1732.6" cy="1903.6" r="10.4" fill="#2f4b7c" fill-opacity="0.3"/>
<circle cx="1809.5" cy="1903.6" r="4.3" fill="#2f4b7c" fill-opacity="0.3"/>
<circle cx="1886.5" cy="1903.6" r="8.5" fill="#2f4b7c" fill-opacity="0.3"/>
<circle cx="1424.8" cy="1954.0" r="12.4" fill="#c964cf" stroke="#55f6fa" stroke-width="4.0"/>
<line x1="1410.4" y1="1954.0" x2="1439.2" y2="1954.0" stroke="#888" stroke-width="1" opacity="0.35"/>
<line x1="1424.8" y1="1939.6" x2="1424.8" y2="1968.4" stroke="#888" stroke-width="1" opacity="0.35"/>
<circle cx="1501.8" cy="1954.0" r="11.6" fill="#2f4b7c" fill-opacity="0.3"/>
<circle cx="1578.7" cy="1954.0" r="7.3" fill="#c964cf" fill-opacity="0.3"/>
<circle cx="1655.6" cy="1954.0" r="7.3" fill="#c964cf" fill-opacity="0.3"/>
<circle cx="1732.6" cy="1954.0" r="11.0" fill="#c964cf" fill-opacity="0.3"/>
<circle cx="1809.5" cy="1954.0" r="10.7" fill="#2f4b7c" fill-opacity="0.3"/>
<circle cx="1886.5" cy="1954.0" r="12.5" fill="#2f4b7c" fill-opacity="0.3"/>
<circle cx="1424.8" cy="2004.0" r="8.9" fill="#c964cf" fill-opacity="0.3"/>
<circle cx="1501.8" cy="2004.0" r="12.5" fill="#2f4b7c" fill-opacity="0.3"/>
<circle cx="1578.7" cy="2004.0" r="6.4" fill="#2f4b7c" fill-opacity="0.3"/>
<circle cx="1655.6" cy="2004.0" r="9.8" fill="#c964cf" fill-opacity="0.3"/>
<circle cx="1732.6" cy="2004.0" r="9.8" fill="#c964cf" fill-opacity="0.3"/>
<circle cx="1809.5" cy="2004.0" r="9.8" fill="#c964cf" fill-opacity="0.3"/>
<circle cx="1886.5" cy="2004.0" r="6.7" fill="#2f4b7c" fill-opacity="0.3"/>
<circle cx="1424.8" cy="2054.1" r="7.9" fill="#2f4b7c" fill-opacity="0.3"/>
<circle cx="1501.8" cy="2054.1" r="13.3" fill="#2f4b7c" stroke="#55f6fa" stroke-width="3.4"/>
<line x1="1486.8" y1="2054.1" x2="1516.8" y2="2054.1" stroke="#888" stroke-width="1" opacity="0.35"/>
<line x1="1501.8" y1="2039.1" x2="1501.8" y2="2069.1" stroke="#888" stroke-width="1" opacity="0.35"/>
<circle cx="1578.7" cy="2054.1" r="9.5" fill="#2f4b7c" fill-opacity="0.3"/>
<circle cx="1655.6" cy="2054.1" r="10.7" fill="#2f4b7c" fill-opacity="0.3"/>
<circle cx="1732.6" cy="2054.1" r="8.5" fill="#2f4b7c" fill-opacity="0.3"/>
<circle cx="1809.5" cy="2054.1" r="12.2" fill="#c964cf" fill-opacity="0.3"/>
<circle cx="1886.5" cy="2054.1" r="11.0" fill="#c964cf" fill-opacity="0.3"/>
<circle cx="1424.8" cy="2104.5" r="13.4" fill="#2f4b7c" stroke="#55f6fa" stroke-width="3.7"/>
<line x1="1409.5" y1="2104.5" x2="1440.1" y2="2104.5" stroke="#888" stroke-width="1" opacity="0.35"/>
<line x1="1424.8" y1="2089.2" x2="1424.8" y2="2119.8" stroke="#888" stroke-width="1" opacity="0.35"/>
<circle cx="1501.8" cy="2104.5" r="5.5" fill="#c964cf" fill-opacity="0.3"/>
<circle cx="1578.7" cy="2104.5" r="10.7" fill="#2f4b7c" fill-opacity="0.3"/>
<circle cx="1655.6" cy="2104.5" r="8.5" fill="#c964cf" fill-opacity="0.3"/>
<circle cx="1732.6" cy="2104.5" r="9.5" fill="#c964cf" fill-opacity="0.3"/>
<circle cx="1809.5" cy="2104.5" r="10.4" fill="#2f4b7c" fill-opacity="0.3"/>
<circle cx="1886.5" cy="2104.5" r="13.1" fill="#c964cf" stroke="#55f6fa" stroke-width="3.7"/>
<line x1="1871.5" y1="2104.5" x2="1901.5" y2="2104.5" stroke="#888" stroke-width="1" opacity="0.35"/>
<line x1="1886.5" y1="2089.5" x2="1886.5" y2="2119.5" stroke="#888" stroke-width="1" opacity="0.35"/>
<circle cx="1424.8" cy="2154.9" r="7.3" fill="#2f4b7c" fill-opacity="0.3"/>
<circle cx="1501.8" cy="2154.9" r="5.2" fill="#2f4b7c" fill-opacity="0.3"/>
<circle cx="1578.7" cy="2154.9" r="7.3" fill="#2f4b7c" fill-opacity="0.3"/>
<circle cx="1655.6" cy="2154.9" r="7.6" fill="#c964cf" fill-opacity="0.3"/>
<circle cx="1732.6" cy="2154.9" r="6.4" fill="#2f4b7c" fill-opacity="0.3"/>
<circle cx="1809.5" cy="2154.9" r="8.9" fill="#2f4b7c" fill-opacity="0.3"/>
<circle cx="1886.5" cy="2154.9" r="11.3" fill="#c964cf" fill-opacity="0.3"/>
<rect x="1401.6" y="1679.2" width="509.0" height="499.2" fill="none" stroke="#000" stroke-width="1.6"/>
<line x1="1424.8" y1="2178.4" x2="1424.8" y2="2185.1" stroke="#000" stroke-width="1.6"/>
<line x1="1501.8" y1="2178.4" x2="1501.8" y2="2185.1" stroke="#000" stroke-width="1.6"/>
<line x1="1578.7" y1="2178.4" x2="1578.7" y2="2185.1" stroke="#000" stroke-width="1.6"/>
<line x1="1655.6" y1="2178.4" x2="1655.6" y2="2185.1" stroke="#000" stroke-width="1.6"/>
<line x1="1732.6" y1="2178.4" x2="1732.6" y2="2185.1" stroke="#000" stroke-width="1.6"/>
<line x1="1809.5" y1="2178.4" x2="1809.5" y2="2185.1" stroke="#000" stroke-width="1.6"/>
<line x1="1886.5" y1="2178.4" x2="1886.5" y2="2185.1" stroke="#000" stroke-width="1.6"/>
<line x1="1394.9" y1="1701.8" x2="1401.6" y2="1701.8" stroke="#000" stroke-width="1.6"/>
<line x1="1394.9" y1="1752.1" x2="1401.6" y2="1752.1" stroke="#000" stroke-width="1.6"/>
<line x1="1394.9" y1="1802.5" x2="1401.6" y2="1802.5" stroke="#000" stroke-width="1.6"/>
<line x1="1394.9" y1="1853.2" x2="1401.6" y2="1853.2" stroke="#000" stroke-width="1.6"/>
<line x1="1394.9" y1="1903.6" x2="1401.6" y2="1903.6" stroke="#000" stroke-width="1.6"/>
<line x1="1394.9" y1="1954.0" x2="1401.6" y2="1954.0" stroke="#000" stroke-width="1.6"/>
<line x1="1394.9" y1="2004.0" x2="1401.6" y2="2004.0" stroke="#000" stroke-width="1.6"/>
<line x1="1394.9" y1="2054.1" x2="1401.6" y2="2054.1" stroke="#000" stroke-width="1.6"/>
<line x1="1394.9" y1="2104.5" x2="1401.6" y2="2104.5" stroke="#000" stroke-width="1.6"/>
<line x1="1394.9" y1="2154.9" x2="1401.6" y2="2154.9" stroke="#000" stroke-width="1.6"/>
<text x="1229.3" y="1708.1" font-size="30" fill="#000" class="dj" letter-spacing="2.10" xml:space="preserve">Fermented</text>
<text x="1273.2" y="1758.4" font-size="30" fill="#000" class="dj" letter-spacing="1.65" xml:space="preserve">Toasted</text>
<text x="1306.8" y="1808.8" font-size="30" fill="#000" class="dj" letter-spacing="1.91" xml:space="preserve">Fruity</text>
<text x="1143.9" y="1859.5" font-size="30" fill="#000" class="dj" letter-spacing="2.06" xml:space="preserve">Fermented dairy</text>
<text x="1310.8" y="1909.9" font-size="30" fill="#000" class="dj" letter-spacing="2.54" xml:space="preserve">Nutty</text>
<text x="1254.0" y="1960.3" font-size="30" fill="#000" class="dj" letter-spacing="1.77" xml:space="preserve">Chemical</text>
<text x="1295.1" y="2010.3" font-size="30" fill="#000" class="dj" letter-spacing="1.92" xml:space="preserve">Earthy</text>
<text x="1204.7" y="2060.4" font-size="30" fill="#000" class="dj" letter-spacing="1.52" xml:space="preserve">Grain/Cereal</text>
<text x="1324.2" y="2110.8" font-size="30" fill="#000" class="dj" letter-spacing="1.34" xml:space="preserve">Sour</text>
<text x="1289.3" y="2161.2" font-size="30" fill="#000" class="dj" letter-spacing="1.74" xml:space="preserve">Veggie</text>
<text x="-96.2" y="0" font-size="30" fill="#000" class="dj" letter-spacing="2.12" transform="translate(1437.8,2199.0) rotate(-45)" xml:space="preserve">Wheat</text>
<text x="-56.4" y="0" font-size="30" fill="#000" class="dj" letter-spacing="1.24" transform="translate(1514.8,2199.0) rotate(-45)" xml:space="preserve">Rye</text>
<text x="-349.7" y="0" font-size="30" fill="#000" class="dj" letter-spacing="2.03" transform="translate(1591.7,2199.0) rotate(-45)" xml:space="preserve">Semi-wholemeal wheat</text>
<text x="-250.0" y="0" font-size="30" fill="#000" class="dj" letter-spacing="1.95" transform="translate(1668.6,2199.0) rotate(-45)" xml:space="preserve">Wholemeal spelt</text>
<text x="-75.8" y="0" font-size="30" fill="#000" class="dj" letter-spacing="1.65" transform="translate(1745.6,2199.0) rotate(-45)" xml:space="preserve">Spelt</text>
<text x="-268.9" y="0" font-size="30" fill="#000" class="dj" letter-spacing="2.10" transform="translate(1822.5,2199.0) rotate(-45)" xml:space="preserve">Wholemeal wheat</text>
<text x="-225.3" y="0" font-size="30" fill="#000" class="dj" letter-spacing="2.02" transform="translate(1899.5,2199.0) rotate(-45)" xml:space="preserve">Wholemeal rye</text>
<path d="M1655.6,1663.4 L1655.6,1621.0 L1728.3,1621.0 L1728.3,1663.4M1583.0,1663.4 L1583.0,1600.2 L1692.0,1600.2 L1692.0,1621.0M1510.6,1663.4 L1510.6,1589.2 L1637.3,1589.2 L1637.3,1600.2M1801.0,1663.4 L1801.0,1579.8 L1873.4,1579.8 L1873.4,1663.4M1573.8,1589.2 L1573.8,1568.8 L1837.3,1568.8 L1837.3,1579.8M1437.9,1663.4 L1437.9,1552.6 L1705.7,1552.6 L1705.7,1568.8" stroke="#000" stroke-width="2.9" fill="none" stroke-linejoin="miter" stroke-linecap="square"/>
<path d="M1141.8,1696.8 L1065.5,1696.8 L1065.5,1746.0 L1141.8,1746.0M1065.5,1721.1 L1026.5,1721.1 L1026.5,1796.5 L1141.8,1796.5M1141.8,1846.4 L1063.9,1846.4 L1063.9,1896.3 L1141.8,1896.3M1141.8,1946.1 L1104.4,1946.1 L1104.4,1996.0 L1141.8,1996.0M1104.4,1970.5 L1075.7,1970.5 L1075.7,2045.9 L1141.8,2045.9M1063.9,1870.4 L1060.2,1870.4 L1060.2,2007.6 L1075.7,2007.6M1141.8,2095.2 L1082.6,2095.2 L1082.6,2145.6 L1141.8,2145.6M1060.2,1938.4 L1038.3,1938.4 L1038.3,2120.1 L1082.6,2120.1M1026.5,1759.1 L1020.3,1759.1 L1020.3,2030.3 L1038.3,2030.3" stroke="#000" stroke-width="2.9" fill="none" stroke-linejoin="miter" stroke-linecap="square"/>
<text x="1196.4" y="1559.0" font-size="57" fill="#000" font-weight="bold">f</text>
</g>
<g id="lg">
<rect x="964.3" y="2186.6" width="274.6" height="288.8" fill="#fff" stroke="#d0d0d0" stroke-width="1.6" rx="3.5"/>
<circle cx="1010.4" cy="2238.4" r="6.4" fill="#1c1c1c"/>
<circle cx="1010.4" cy="2270.4" r="12.9" fill="#1c1c1c"/>
<circle cx="1010.4" cy="2301.8" r="17.5" fill="#1c1c1c"/>
<circle cx="1010.4" cy="2333.6" r="13.6" fill="#b0b0b0"/>
<circle cx="1010.4" cy="2364.6" r="13.6" fill="#000"/>
<circle cx="1010.4" cy="2395.7" r="13.7" fill="#000" stroke="#55f6fa" stroke-width="3.9"/>
<circle cx="1010.4" cy="2426.6" r="13.6" fill="#c964cf"/>
<circle cx="1010.4" cy="2457.5" r="13.6" fill="#35508a"/>
<text x="1049.1" y="2244.6" font-size="30" fill="#000" class="dj" letter-spacing="1.88" xml:space="preserve">|r| = 0.02</text>
<text x="1049.1" y="2276.3" font-size="30" fill="#000" class="dj" letter-spacing="1.88" xml:space="preserve">|r| = 0.10</text>
<text x="1049.1" y="2307.9" font-size="30" fill="#000" class="dj" letter-spacing="1.88" xml:space="preserve">|r| = 0.20</text>
<text x="1049.1" y="2338.8" font-size="30" fill="#000" class="dj" letter-spacing="2.73" xml:space="preserve">p&gt;0.05</text>
<text x="1049.1" y="2370.0" font-size="30" fill="#000" class="dj" letter-spacing="2.73" xml:space="preserve">p&lt;0.05</text>
<text x="1049.1" y="2401.3" font-size="30" fill="#000" class="dj" letter-spacing="1.88" xml:space="preserve">p-FDR&lt;0.05</text>
<text x="1049.1" y="2432.1" font-size="30" fill="#000" class="dj" letter-spacing="0.86" xml:space="preserve">+ cor.</text>
<text x="1049.1" y="2463.8" font-size="30" fill="#000" class="dj" letter-spacing="0.62" xml:space="preserve">-  cor.</text>
</g>
</svg>
</body></html>
